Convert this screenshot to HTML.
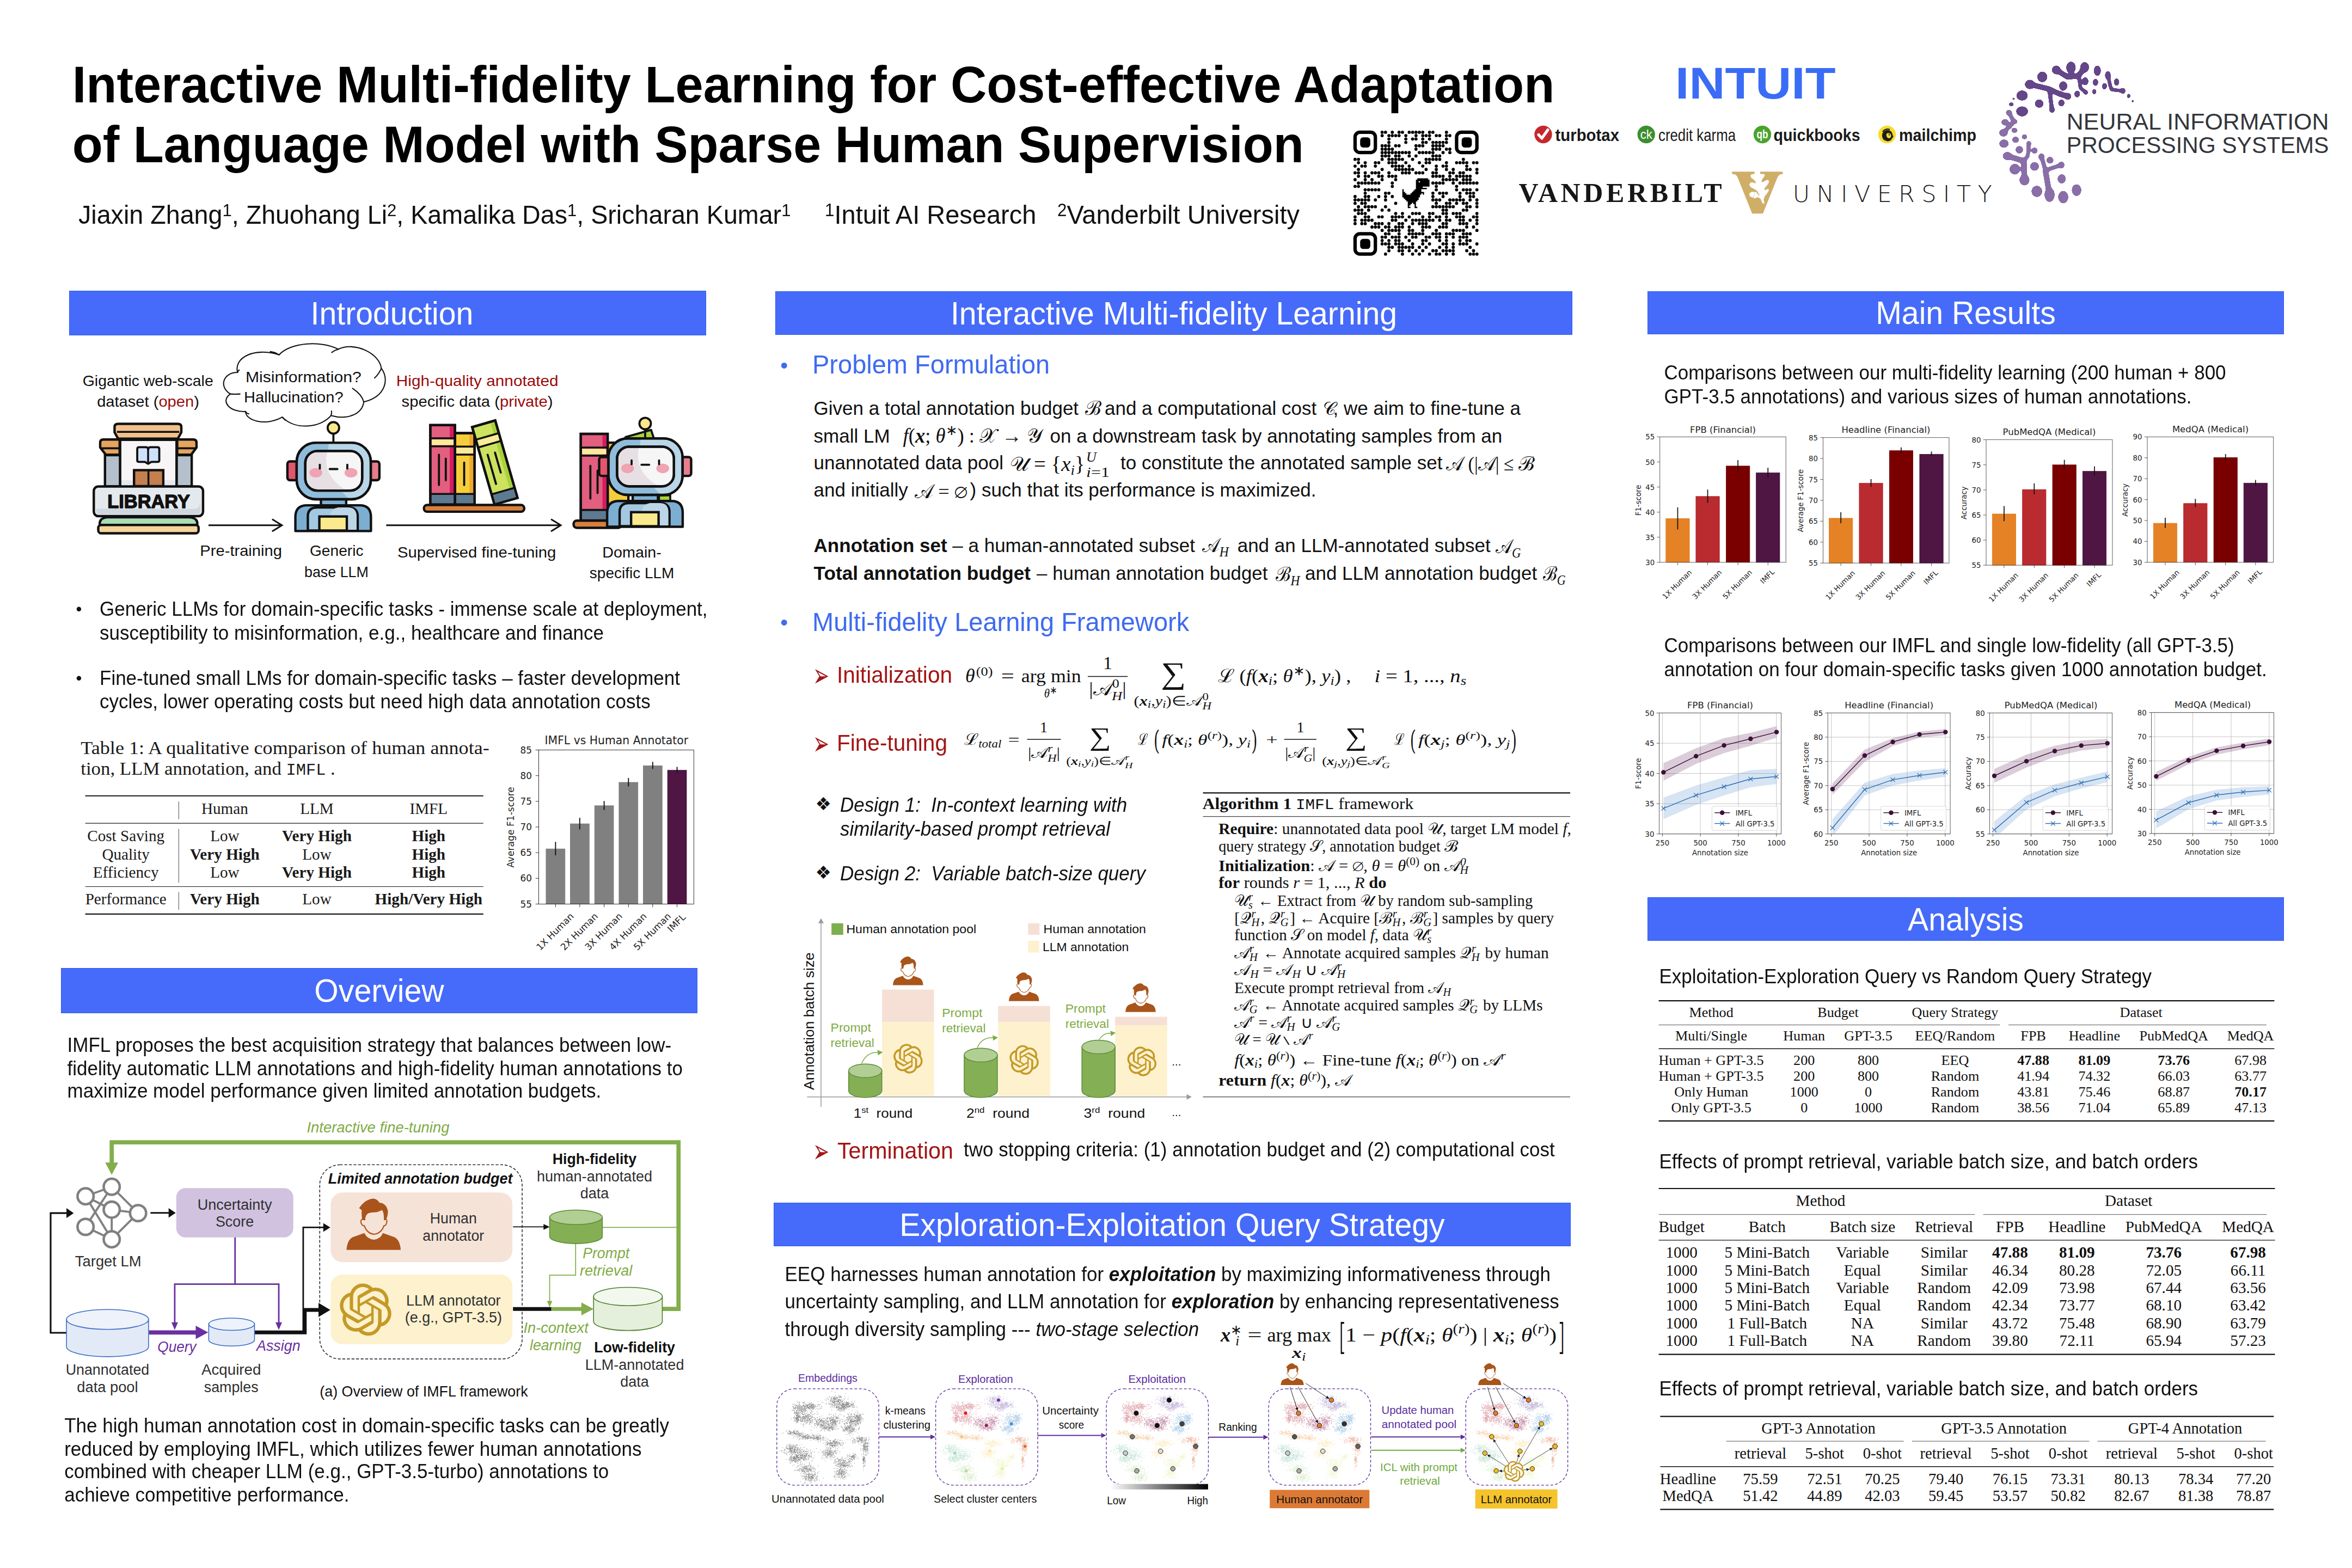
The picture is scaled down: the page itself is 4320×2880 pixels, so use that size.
<!DOCTYPE html>
<html lang="en"><head><meta charset="utf-8">
<title>Interactive Multi-fidelity Learning for Cost-effective Adaptation of Language Model with Sparse Human Supervision</title>
<meta name="viewport" content="width=4320">
<style>
html,body{margin:0;padding:0;background:#fff}
body{font-variant-ligatures:none;font-kerning:normal;width:4320px;height:2880px;overflow:hidden;position:relative;font-family:"Liberation Sans",Arial,Helvetica,sans-serif;color:#000}
#poster{position:absolute;left:0;top:0;width:4320px;height:2880px;overflow:hidden;background:#fff}
.p{position:absolute;white-space:nowrap;margin:0;transform-origin:0 0}
.fig{position:absolute;overflow:visible}
svg text{font-family:"Liberation Sans",Arial,Helvetica,sans-serif;white-space:pre}
h2.bar{position:absolute;margin:0;background:#466bfa;box-shadow:inset 0 0 0 1px #2d59f6;color:#fff;font-weight:normal;font-size:57.2px;text-align:center;white-space:nowrap}
h2.bar span{display:inline-block;transform:scaleY(1.036);transform-origin:50% 68%}
sup{font-size:.667em;vertical-align:.43em;line-height:0}
.auth{color:#111}
svg text.f-serif{font-family:"Liberation Serif","Times New Roman",Times,serif}
svg .f-mono{font-family:"Liberation Mono","DejaVu Sans Mono",monospace}
svg text.f-dv{font-family:"DejaVu Sans","Liberation Sans",sans-serif}
svg text.f-cal{font-family:"DejaVu Math TeX Gyre","DejaVu Serif","Liberation Serif",serif}
svg text.f-dvl{font-family:"DejaVu Sans Light","DejaVu Sans","Liberation Sans",sans-serif;font-weight:200}
i.m,.m{font-family:"Liberation Serif","Times New Roman",serif;font-style:italic}
.cal{font-family:"DejaVu Math TeX Gyre","DejaVu Serif",serif;font-style:normal}
</style></head>
<body><div id="poster">
<!-- sec_header.bars -->
<h2 class="bar" style="left:127px;top:534px;width:1154px;padding-left:16px;height:82px;line-height:84px"><span>Introduction</span></h2>
<h2 class="bar" style="left:112px;top:1778px;width:1169px;padding-left:0px;height:82.5px;line-height:84.5px"><span>Overview</span></h2>
<h2 class="bar" style="left:1424px;top:535px;width:1464px;padding-left:0px;height:80px;line-height:82px"><span>Interactive Multi-fidelity Learning</span></h2>
<h2 class="bar" style="left:1421px;top:2209px;width:1464px;padding-left:0px;height:80px;line-height:82px"><span>Exploration-Exploitation Query Strategy</span></h2>
<h2 class="bar" style="left:3026px;top:535px;width:1169px;padding-left:0px;height:79px;line-height:81px"><span>Main Results</span></h2>
<h2 class="bar" style="left:3026px;top:1648px;width:1169px;padding-left:0px;height:80px;line-height:82px"><span>Analysis</span></h2>
<!-- sec_header.header -->
<div class="p title" style='left:132.8px;top:100.02px;font-size:91.88px;line-height:106.18px;transform:scaleY(1.036);font-weight:bold;'>Interactive Multi-fidelity Learning for Cost-effective Adaptation</div>
<div class="p title" style='left:132.8px;top:209.88px;font-size:91.7px;line-height:106.18px;transform:scaleY(1.036);font-weight:bold;'>of Language Model with Sparse Human Supervision</div>
<div class="p auth" style='left:144px;top:366.45px;font-size:46.65px;line-height:54.05px;transform:scaleY(1.036);'>Jiaxin Zhang<sup>1</sup>, Zhuohang Li<sup>2</sup>, Kamalika Das<sup>1</sup>, Sricharan Kumar<sup>1</sup></div>
<div class="p auth" style='left:1515px;top:366.33px;font-size:47px;line-height:54.05px;transform:scaleY(1.036);'><sup>1</sup>Intuit AI Research</div>
<div class="p auth" style='left:1942px;top:366.33px;font-size:47px;line-height:54.05px;transform:scaleY(1.036);'><sup>2</sup>Vanderbilt University</div>
<!-- sec_logos.qr -->
<svg class="fig qr" style="left:2480px;top:234px" width="242" height="242" viewBox="2480 234 242 242"><rect x="2488.91" y="242.91" width="37.3" height="37.3" fill="#fff" stroke="#000" stroke-width="6.22" rx="8.7" /><rect x="2498.23" y="252.23" width="18.65" height="18.65" fill="#000" rx="5.59" /><rect x="2675.39" y="242.91" width="37.3" height="37.3" fill="#fff" stroke="#000" stroke-width="6.22" rx="8.7" /><rect x="2684.72" y="252.23" width="18.65" height="18.65" fill="#000" rx="5.59" /><rect x="2488.91" y="429.39" width="37.3" height="37.3" fill="#fff" stroke="#000" stroke-width="6.22" rx="8.7" /><rect x="2498.23" y="438.72" width="18.65" height="18.65" fill="#000" rx="5.59" /><g fill="#000"><circle cx="2538.64" cy="242.91" r="2.92"/><circle cx="2544.85" cy="242.91" r="2.92"/><circle cx="2557.29" cy="242.91" r="2.92"/><circle cx="2569.72" cy="242.91" r="2.92"/><circle cx="2575.94" cy="242.91" r="2.92"/><circle cx="2588.37" cy="242.91" r="2.92"/><circle cx="2594.58" cy="242.91" r="2.92"/><circle cx="2600.8" cy="242.91" r="2.92"/><circle cx="2607.02" cy="242.91" r="2.92"/><circle cx="2613.23" cy="242.91" r="2.92"/><circle cx="2625.66" cy="242.91" r="2.92"/><circle cx="2631.88" cy="242.91" r="2.92"/><circle cx="2656.75" cy="242.91" r="2.92"/><circle cx="2538.64" cy="249.12" r="2.92"/><circle cx="2551.07" cy="249.12" r="2.92"/><circle cx="2557.29" cy="249.12" r="2.92"/><circle cx="2563.5" cy="249.12" r="2.92"/><circle cx="2569.72" cy="249.12" r="2.92"/><circle cx="2582.15" cy="249.12" r="2.92"/><circle cx="2600.8" cy="249.12" r="2.92"/><circle cx="2613.23" cy="249.12" r="2.92"/><circle cx="2619.45" cy="249.12" r="2.92"/><circle cx="2625.66" cy="249.12" r="2.92"/><circle cx="2638.1" cy="249.12" r="2.92"/><circle cx="2644.31" cy="249.12" r="2.92"/><circle cx="2656.75" cy="249.12" r="2.92"/><circle cx="2662.96" cy="249.12" r="2.92"/><circle cx="2551.07" cy="255.34" r="2.92"/><circle cx="2582.15" cy="255.34" r="2.92"/><circle cx="2594.58" cy="255.34" r="2.92"/><circle cx="2600.8" cy="255.34" r="2.92"/><circle cx="2613.23" cy="255.34" r="2.92"/><circle cx="2625.66" cy="255.34" r="2.92"/><circle cx="2656.75" cy="255.34" r="2.92"/><circle cx="2551.07" cy="261.56" r="2.92"/><circle cx="2582.15" cy="261.56" r="2.92"/><circle cx="2613.23" cy="261.56" r="2.92"/><circle cx="2619.45" cy="261.56" r="2.92"/><circle cx="2631.88" cy="261.56" r="2.92"/><circle cx="2638.1" cy="261.56" r="2.92"/><circle cx="2644.31" cy="261.56" r="2.92"/><circle cx="2650.53" cy="261.56" r="2.92"/><circle cx="2656.75" cy="261.56" r="2.92"/><circle cx="2538.64" cy="267.77" r="2.92"/><circle cx="2544.85" cy="267.77" r="2.92"/><circle cx="2551.07" cy="267.77" r="2.92"/><circle cx="2563.5" cy="267.77" r="2.92"/><circle cx="2569.72" cy="267.77" r="2.92"/><circle cx="2600.8" cy="267.77" r="2.92"/><circle cx="2607.02" cy="267.77" r="2.92"/><circle cx="2613.23" cy="267.77" r="2.92"/><circle cx="2631.88" cy="267.77" r="2.92"/><circle cx="2638.1" cy="267.77" r="2.92"/><circle cx="2644.31" cy="267.77" r="2.92"/><circle cx="2650.53" cy="267.77" r="2.92"/><circle cx="2538.64" cy="273.99" r="2.92"/><circle cx="2544.85" cy="273.99" r="2.92"/><circle cx="2551.07" cy="273.99" r="2.92"/><circle cx="2557.29" cy="273.99" r="2.92"/><circle cx="2600.8" cy="273.99" r="2.92"/><circle cx="2631.88" cy="273.99" r="2.92"/><circle cx="2638.1" cy="273.99" r="2.92"/><circle cx="2644.31" cy="273.99" r="2.92"/><circle cx="2656.75" cy="273.99" r="2.92"/><circle cx="2662.96" cy="273.99" r="2.92"/><circle cx="2538.64" cy="280.21" r="2.92"/><circle cx="2544.85" cy="280.21" r="2.92"/><circle cx="2551.07" cy="280.21" r="2.92"/><circle cx="2557.29" cy="280.21" r="2.92"/><circle cx="2563.5" cy="280.21" r="2.92"/><circle cx="2569.72" cy="280.21" r="2.92"/><circle cx="2575.94" cy="280.21" r="2.92"/><circle cx="2582.15" cy="280.21" r="2.92"/><circle cx="2588.37" cy="280.21" r="2.92"/><circle cx="2607.02" cy="280.21" r="2.92"/><circle cx="2613.23" cy="280.21" r="2.92"/><circle cx="2619.45" cy="280.21" r="2.92"/><circle cx="2625.66" cy="280.21" r="2.92"/><circle cx="2631.88" cy="280.21" r="2.92"/><circle cx="2650.53" cy="280.21" r="2.92"/><circle cx="2662.96" cy="280.21" r="2.92"/><circle cx="2538.64" cy="286.42" r="2.92"/><circle cx="2544.85" cy="286.42" r="2.92"/><circle cx="2551.07" cy="286.42" r="2.92"/><circle cx="2563.5" cy="286.42" r="2.92"/><circle cx="2569.72" cy="286.42" r="2.92"/><circle cx="2588.37" cy="286.42" r="2.92"/><circle cx="2600.8" cy="286.42" r="2.92"/><circle cx="2631.88" cy="286.42" r="2.92"/><circle cx="2638.1" cy="286.42" r="2.92"/><circle cx="2644.31" cy="286.42" r="2.92"/><circle cx="2488.91" cy="292.64" r="2.92"/><circle cx="2495.12" cy="292.64" r="2.92"/><circle cx="2538.64" cy="292.64" r="2.92"/><circle cx="2551.07" cy="292.64" r="2.92"/><circle cx="2557.29" cy="292.64" r="2.92"/><circle cx="2563.5" cy="292.64" r="2.92"/><circle cx="2569.72" cy="292.64" r="2.92"/><circle cx="2575.94" cy="292.64" r="2.92"/><circle cx="2594.58" cy="292.64" r="2.92"/><circle cx="2619.45" cy="292.64" r="2.92"/><circle cx="2625.66" cy="292.64" r="2.92"/><circle cx="2631.88" cy="292.64" r="2.92"/><circle cx="2638.1" cy="292.64" r="2.92"/><circle cx="2644.31" cy="292.64" r="2.92"/><circle cx="2687.83" cy="292.64" r="2.92"/><circle cx="2495.12" cy="298.85" r="2.92"/><circle cx="2507.56" cy="298.85" r="2.92"/><circle cx="2526.21" cy="298.85" r="2.92"/><circle cx="2532.42" cy="298.85" r="2.92"/><circle cx="2551.07" cy="298.85" r="2.92"/><circle cx="2557.29" cy="298.85" r="2.92"/><circle cx="2563.5" cy="298.85" r="2.92"/><circle cx="2582.15" cy="298.85" r="2.92"/><circle cx="2607.02" cy="298.85" r="2.92"/><circle cx="2619.45" cy="298.85" r="2.92"/><circle cx="2625.66" cy="298.85" r="2.92"/><circle cx="2656.75" cy="298.85" r="2.92"/><circle cx="2675.39" cy="298.85" r="2.92"/><circle cx="2681.61" cy="298.85" r="2.92"/><circle cx="2687.83" cy="298.85" r="2.92"/><circle cx="2694.04" cy="298.85" r="2.92"/><circle cx="2706.48" cy="298.85" r="2.92"/><circle cx="2712.69" cy="298.85" r="2.92"/><circle cx="2488.91" cy="305.07" r="2.92"/><circle cx="2501.34" cy="305.07" r="2.92"/><circle cx="2507.56" cy="305.07" r="2.92"/><circle cx="2526.21" cy="305.07" r="2.92"/><circle cx="2557.29" cy="305.07" r="2.92"/><circle cx="2563.5" cy="305.07" r="2.92"/><circle cx="2569.72" cy="305.07" r="2.92"/><circle cx="2575.94" cy="305.07" r="2.92"/><circle cx="2588.37" cy="305.07" r="2.92"/><circle cx="2613.23" cy="305.07" r="2.92"/><circle cx="2638.1" cy="305.07" r="2.92"/><circle cx="2650.53" cy="305.07" r="2.92"/><circle cx="2656.75" cy="305.07" r="2.92"/><circle cx="2694.04" cy="305.07" r="2.92"/><circle cx="2495.12" cy="311.29" r="2.92"/><circle cx="2538.64" cy="311.29" r="2.92"/><circle cx="2563.5" cy="311.29" r="2.92"/><circle cx="2569.72" cy="311.29" r="2.92"/><circle cx="2575.94" cy="311.29" r="2.92"/><circle cx="2582.15" cy="311.29" r="2.92"/><circle cx="2588.37" cy="311.29" r="2.92"/><circle cx="2594.58" cy="311.29" r="2.92"/><circle cx="2619.45" cy="311.29" r="2.92"/><circle cx="2638.1" cy="311.29" r="2.92"/><circle cx="2656.75" cy="311.29" r="2.92"/><circle cx="2669.18" cy="311.29" r="2.92"/><circle cx="2694.04" cy="311.29" r="2.92"/><circle cx="2700.26" cy="311.29" r="2.92"/><circle cx="2712.69" cy="311.29" r="2.92"/><circle cx="2488.91" cy="317.5" r="2.92"/><circle cx="2495.12" cy="317.5" r="2.92"/><circle cx="2507.56" cy="317.5" r="2.92"/><circle cx="2519.99" cy="317.5" r="2.92"/><circle cx="2526.21" cy="317.5" r="2.92"/><circle cx="2532.42" cy="317.5" r="2.92"/><circle cx="2551.07" cy="317.5" r="2.92"/><circle cx="2575.94" cy="317.5" r="2.92"/><circle cx="2582.15" cy="317.5" r="2.92"/><circle cx="2588.37" cy="317.5" r="2.92"/><circle cx="2600.8" cy="317.5" r="2.92"/><circle cx="2607.02" cy="317.5" r="2.92"/><circle cx="2613.23" cy="317.5" r="2.92"/><circle cx="2631.88" cy="317.5" r="2.92"/><circle cx="2638.1" cy="317.5" r="2.92"/><circle cx="2662.96" cy="317.5" r="2.92"/><circle cx="2669.18" cy="317.5" r="2.92"/><circle cx="2681.61" cy="317.5" r="2.92"/><circle cx="2687.83" cy="317.5" r="2.92"/><circle cx="2712.69" cy="317.5" r="2.92"/><circle cx="2495.12" cy="323.72" r="2.92"/><circle cx="2507.56" cy="323.72" r="2.92"/><circle cx="2513.77" cy="323.72" r="2.92"/><circle cx="2532.42" cy="323.72" r="2.92"/><circle cx="2538.64" cy="323.72" r="2.92"/><circle cx="2551.07" cy="323.72" r="2.92"/><circle cx="2557.29" cy="323.72" r="2.92"/><circle cx="2563.5" cy="323.72" r="2.92"/><circle cx="2631.88" cy="323.72" r="2.92"/><circle cx="2638.1" cy="323.72" r="2.92"/><circle cx="2644.31" cy="323.72" r="2.92"/><circle cx="2650.53" cy="323.72" r="2.92"/><circle cx="2662.96" cy="323.72" r="2.92"/><circle cx="2675.39" cy="323.72" r="2.92"/><circle cx="2681.61" cy="323.72" r="2.92"/><circle cx="2687.83" cy="323.72" r="2.92"/><circle cx="2694.04" cy="323.72" r="2.92"/><circle cx="2700.26" cy="323.72" r="2.92"/><circle cx="2488.91" cy="329.94" r="2.92"/><circle cx="2507.56" cy="329.94" r="2.92"/><circle cx="2519.99" cy="329.94" r="2.92"/><circle cx="2538.64" cy="329.94" r="2.92"/><circle cx="2563.5" cy="329.94" r="2.92"/><circle cx="2650.53" cy="329.94" r="2.92"/><circle cx="2656.75" cy="329.94" r="2.92"/><circle cx="2662.96" cy="329.94" r="2.92"/><circle cx="2669.18" cy="329.94" r="2.92"/><circle cx="2675.39" cy="329.94" r="2.92"/><circle cx="2687.83" cy="329.94" r="2.92"/><circle cx="2694.04" cy="329.94" r="2.92"/><circle cx="2700.26" cy="329.94" r="2.92"/><circle cx="2495.12" cy="336.15" r="2.92"/><circle cx="2501.34" cy="336.15" r="2.92"/><circle cx="2507.56" cy="336.15" r="2.92"/><circle cx="2513.77" cy="336.15" r="2.92"/><circle cx="2519.99" cy="336.15" r="2.92"/><circle cx="2526.21" cy="336.15" r="2.92"/><circle cx="2532.42" cy="336.15" r="2.92"/><circle cx="2557.29" cy="336.15" r="2.92"/><circle cx="2631.88" cy="336.15" r="2.92"/><circle cx="2638.1" cy="336.15" r="2.92"/><circle cx="2644.31" cy="336.15" r="2.92"/><circle cx="2650.53" cy="336.15" r="2.92"/><circle cx="2669.18" cy="336.15" r="2.92"/><circle cx="2681.61" cy="336.15" r="2.92"/><circle cx="2687.83" cy="336.15" r="2.92"/><circle cx="2694.04" cy="336.15" r="2.92"/><circle cx="2700.26" cy="336.15" r="2.92"/><circle cx="2706.48" cy="336.15" r="2.92"/><circle cx="2712.69" cy="336.15" r="2.92"/><circle cx="2488.91" cy="342.37" r="2.92"/><circle cx="2495.12" cy="342.37" r="2.92"/><circle cx="2557.29" cy="342.37" r="2.92"/><circle cx="2638.1" cy="342.37" r="2.92"/><circle cx="2675.39" cy="342.37" r="2.92"/><circle cx="2507.56" cy="348.58" r="2.92"/><circle cx="2513.77" cy="348.58" r="2.92"/><circle cx="2519.99" cy="348.58" r="2.92"/><circle cx="2526.21" cy="348.58" r="2.92"/><circle cx="2532.42" cy="348.58" r="2.92"/><circle cx="2638.1" cy="348.58" r="2.92"/><circle cx="2675.39" cy="348.58" r="2.92"/><circle cx="2687.83" cy="348.58" r="2.92"/><circle cx="2694.04" cy="348.58" r="2.92"/><circle cx="2700.26" cy="348.58" r="2.92"/><circle cx="2712.69" cy="348.58" r="2.92"/><circle cx="2507.56" cy="354.8" r="2.92"/><circle cx="2544.85" cy="354.8" r="2.92"/><circle cx="2551.07" cy="354.8" r="2.92"/><circle cx="2631.88" cy="354.8" r="2.92"/><circle cx="2644.31" cy="354.8" r="2.92"/><circle cx="2650.53" cy="354.8" r="2.92"/><circle cx="2656.75" cy="354.8" r="2.92"/><circle cx="2681.61" cy="354.8" r="2.92"/><circle cx="2694.04" cy="354.8" r="2.92"/><circle cx="2700.26" cy="354.8" r="2.92"/><circle cx="2706.48" cy="354.8" r="2.92"/><circle cx="2488.91" cy="361.02" r="2.92"/><circle cx="2507.56" cy="361.02" r="2.92"/><circle cx="2513.77" cy="361.02" r="2.92"/><circle cx="2532.42" cy="361.02" r="2.92"/><circle cx="2544.85" cy="361.02" r="2.92"/><circle cx="2557.29" cy="361.02" r="2.92"/><circle cx="2631.88" cy="361.02" r="2.92"/><circle cx="2650.53" cy="361.02" r="2.92"/><circle cx="2681.61" cy="361.02" r="2.92"/><circle cx="2700.26" cy="361.02" r="2.92"/><circle cx="2706.48" cy="361.02" r="2.92"/><circle cx="2488.91" cy="367.23" r="2.92"/><circle cx="2495.12" cy="367.23" r="2.92"/><circle cx="2501.34" cy="367.23" r="2.92"/><circle cx="2507.56" cy="367.23" r="2.92"/><circle cx="2513.77" cy="367.23" r="2.92"/><circle cx="2526.21" cy="367.23" r="2.92"/><circle cx="2544.85" cy="367.23" r="2.92"/><circle cx="2631.88" cy="367.23" r="2.92"/><circle cx="2638.1" cy="367.23" r="2.92"/><circle cx="2644.31" cy="367.23" r="2.92"/><circle cx="2662.96" cy="367.23" r="2.92"/><circle cx="2669.18" cy="367.23" r="2.92"/><circle cx="2675.39" cy="367.23" r="2.92"/><circle cx="2681.61" cy="367.23" r="2.92"/><circle cx="2687.83" cy="367.23" r="2.92"/><circle cx="2700.26" cy="367.23" r="2.92"/><circle cx="2712.69" cy="367.23" r="2.92"/><circle cx="2488.91" cy="373.45" r="2.92"/><circle cx="2501.34" cy="373.45" r="2.92"/><circle cx="2507.56" cy="373.45" r="2.92"/><circle cx="2563.5" cy="373.45" r="2.92"/><circle cx="2638.1" cy="373.45" r="2.92"/><circle cx="2656.75" cy="373.45" r="2.92"/><circle cx="2662.96" cy="373.45" r="2.92"/><circle cx="2675.39" cy="373.45" r="2.92"/><circle cx="2687.83" cy="373.45" r="2.92"/><circle cx="2694.04" cy="373.45" r="2.92"/><circle cx="2712.69" cy="373.45" r="2.92"/><circle cx="2495.12" cy="379.66" r="2.92"/><circle cx="2507.56" cy="379.66" r="2.92"/><circle cx="2513.77" cy="379.66" r="2.92"/><circle cx="2519.99" cy="379.66" r="2.92"/><circle cx="2526.21" cy="379.66" r="2.92"/><circle cx="2544.85" cy="379.66" r="2.92"/><circle cx="2631.88" cy="379.66" r="2.92"/><circle cx="2638.1" cy="379.66" r="2.92"/><circle cx="2644.31" cy="379.66" r="2.92"/><circle cx="2650.53" cy="379.66" r="2.92"/><circle cx="2656.75" cy="379.66" r="2.92"/><circle cx="2662.96" cy="379.66" r="2.92"/><circle cx="2669.18" cy="379.66" r="2.92"/><circle cx="2694.04" cy="379.66" r="2.92"/><circle cx="2700.26" cy="379.66" r="2.92"/><circle cx="2712.69" cy="379.66" r="2.92"/><circle cx="2488.91" cy="385.88" r="2.92"/><circle cx="2495.12" cy="385.88" r="2.92"/><circle cx="2501.34" cy="385.88" r="2.92"/><circle cx="2513.77" cy="385.88" r="2.92"/><circle cx="2538.64" cy="385.88" r="2.92"/><circle cx="2551.07" cy="385.88" r="2.92"/><circle cx="2650.53" cy="385.88" r="2.92"/><circle cx="2656.75" cy="385.88" r="2.92"/><circle cx="2687.83" cy="385.88" r="2.92"/><circle cx="2694.04" cy="385.88" r="2.92"/><circle cx="2495.12" cy="392.1" r="2.92"/><circle cx="2501.34" cy="392.1" r="2.92"/><circle cx="2507.56" cy="392.1" r="2.92"/><circle cx="2563.5" cy="392.1" r="2.92"/><circle cx="2575.94" cy="392.1" r="2.92"/><circle cx="2594.58" cy="392.1" r="2.92"/><circle cx="2600.8" cy="392.1" r="2.92"/><circle cx="2607.02" cy="392.1" r="2.92"/><circle cx="2625.66" cy="392.1" r="2.92"/><circle cx="2631.88" cy="392.1" r="2.92"/><circle cx="2650.53" cy="392.1" r="2.92"/><circle cx="2656.75" cy="392.1" r="2.92"/><circle cx="2669.18" cy="392.1" r="2.92"/><circle cx="2675.39" cy="392.1" r="2.92"/><circle cx="2681.61" cy="392.1" r="2.92"/><circle cx="2712.69" cy="392.1" r="2.92"/><circle cx="2488.91" cy="398.31" r="2.92"/><circle cx="2507.56" cy="398.31" r="2.92"/><circle cx="2513.77" cy="398.31" r="2.92"/><circle cx="2532.42" cy="398.31" r="2.92"/><circle cx="2538.64" cy="398.31" r="2.92"/><circle cx="2557.29" cy="398.31" r="2.92"/><circle cx="2563.5" cy="398.31" r="2.92"/><circle cx="2569.72" cy="398.31" r="2.92"/><circle cx="2575.94" cy="398.31" r="2.92"/><circle cx="2588.37" cy="398.31" r="2.92"/><circle cx="2613.23" cy="398.31" r="2.92"/><circle cx="2625.66" cy="398.31" r="2.92"/><circle cx="2638.1" cy="398.31" r="2.92"/><circle cx="2644.31" cy="398.31" r="2.92"/><circle cx="2656.75" cy="398.31" r="2.92"/><circle cx="2675.39" cy="398.31" r="2.92"/><circle cx="2681.61" cy="398.31" r="2.92"/><circle cx="2687.83" cy="398.31" r="2.92"/><circle cx="2706.48" cy="398.31" r="2.92"/><circle cx="2712.69" cy="398.31" r="2.92"/><circle cx="2488.91" cy="404.53" r="2.92"/><circle cx="2501.34" cy="404.53" r="2.92"/><circle cx="2507.56" cy="404.53" r="2.92"/><circle cx="2513.77" cy="404.53" r="2.92"/><circle cx="2519.99" cy="404.53" r="2.92"/><circle cx="2557.29" cy="404.53" r="2.92"/><circle cx="2563.5" cy="404.53" r="2.92"/><circle cx="2582.15" cy="404.53" r="2.92"/><circle cx="2594.58" cy="404.53" r="2.92"/><circle cx="2600.8" cy="404.53" r="2.92"/><circle cx="2607.02" cy="404.53" r="2.92"/><circle cx="2613.23" cy="404.53" r="2.92"/><circle cx="2619.45" cy="404.53" r="2.92"/><circle cx="2625.66" cy="404.53" r="2.92"/><circle cx="2631.88" cy="404.53" r="2.92"/><circle cx="2644.31" cy="404.53" r="2.92"/><circle cx="2656.75" cy="404.53" r="2.92"/><circle cx="2662.96" cy="404.53" r="2.92"/><circle cx="2681.61" cy="404.53" r="2.92"/><circle cx="2687.83" cy="404.53" r="2.92"/><circle cx="2700.26" cy="404.53" r="2.92"/><circle cx="2712.69" cy="404.53" r="2.92"/><circle cx="2488.91" cy="410.75" r="2.92"/><circle cx="2501.34" cy="410.75" r="2.92"/><circle cx="2507.56" cy="410.75" r="2.92"/><circle cx="2526.21" cy="410.75" r="2.92"/><circle cx="2532.42" cy="410.75" r="2.92"/><circle cx="2538.64" cy="410.75" r="2.92"/><circle cx="2551.07" cy="410.75" r="2.92"/><circle cx="2569.72" cy="410.75" r="2.92"/><circle cx="2575.94" cy="410.75" r="2.92"/><circle cx="2594.58" cy="410.75" r="2.92"/><circle cx="2607.02" cy="410.75" r="2.92"/><circle cx="2613.23" cy="410.75" r="2.92"/><circle cx="2619.45" cy="410.75" r="2.92"/><circle cx="2650.53" cy="410.75" r="2.92"/><circle cx="2656.75" cy="410.75" r="2.92"/><circle cx="2681.61" cy="410.75" r="2.92"/><circle cx="2687.83" cy="410.75" r="2.92"/><circle cx="2694.04" cy="410.75" r="2.92"/><circle cx="2712.69" cy="410.75" r="2.92"/><circle cx="2519.99" cy="416.96" r="2.92"/><circle cx="2526.21" cy="416.96" r="2.92"/><circle cx="2532.42" cy="416.96" r="2.92"/><circle cx="2544.85" cy="416.96" r="2.92"/><circle cx="2551.07" cy="416.96" r="2.92"/><circle cx="2563.5" cy="416.96" r="2.92"/><circle cx="2569.72" cy="416.96" r="2.92"/><circle cx="2575.94" cy="416.96" r="2.92"/><circle cx="2588.37" cy="416.96" r="2.92"/><circle cx="2613.23" cy="416.96" r="2.92"/><circle cx="2619.45" cy="416.96" r="2.92"/><circle cx="2625.66" cy="416.96" r="2.92"/><circle cx="2644.31" cy="416.96" r="2.92"/><circle cx="2650.53" cy="416.96" r="2.92"/><circle cx="2656.75" cy="416.96" r="2.92"/><circle cx="2694.04" cy="416.96" r="2.92"/><circle cx="2706.48" cy="416.96" r="2.92"/><circle cx="2538.64" cy="423.18" r="2.92"/><circle cx="2551.07" cy="423.18" r="2.92"/><circle cx="2557.29" cy="423.18" r="2.92"/><circle cx="2563.5" cy="423.18" r="2.92"/><circle cx="2569.72" cy="423.18" r="2.92"/><circle cx="2588.37" cy="423.18" r="2.92"/><circle cx="2594.58" cy="423.18" r="2.92"/><circle cx="2613.23" cy="423.18" r="2.92"/><circle cx="2638.1" cy="423.18" r="2.92"/><circle cx="2669.18" cy="423.18" r="2.92"/><circle cx="2675.39" cy="423.18" r="2.92"/><circle cx="2681.61" cy="423.18" r="2.92"/><circle cx="2687.83" cy="423.18" r="2.92"/><circle cx="2712.69" cy="423.18" r="2.92"/><circle cx="2544.85" cy="429.39" r="2.92"/><circle cx="2551.07" cy="429.39" r="2.92"/><circle cx="2569.72" cy="429.39" r="2.92"/><circle cx="2588.37" cy="429.39" r="2.92"/><circle cx="2594.58" cy="429.39" r="2.92"/><circle cx="2600.8" cy="429.39" r="2.92"/><circle cx="2607.02" cy="429.39" r="2.92"/><circle cx="2613.23" cy="429.39" r="2.92"/><circle cx="2631.88" cy="429.39" r="2.92"/><circle cx="2638.1" cy="429.39" r="2.92"/><circle cx="2644.31" cy="429.39" r="2.92"/><circle cx="2656.75" cy="429.39" r="2.92"/><circle cx="2662.96" cy="429.39" r="2.92"/><circle cx="2669.18" cy="429.39" r="2.92"/><circle cx="2687.83" cy="429.39" r="2.92"/><circle cx="2694.04" cy="429.39" r="2.92"/><circle cx="2700.26" cy="429.39" r="2.92"/><circle cx="2538.64" cy="435.61" r="2.92"/><circle cx="2544.85" cy="435.61" r="2.92"/><circle cx="2557.29" cy="435.61" r="2.92"/><circle cx="2563.5" cy="435.61" r="2.92"/><circle cx="2569.72" cy="435.61" r="2.92"/><circle cx="2582.15" cy="435.61" r="2.92"/><circle cx="2594.58" cy="435.61" r="2.92"/><circle cx="2600.8" cy="435.61" r="2.92"/><circle cx="2619.45" cy="435.61" r="2.92"/><circle cx="2625.66" cy="435.61" r="2.92"/><circle cx="2638.1" cy="435.61" r="2.92"/><circle cx="2644.31" cy="435.61" r="2.92"/><circle cx="2656.75" cy="435.61" r="2.92"/><circle cx="2669.18" cy="435.61" r="2.92"/><circle cx="2681.61" cy="435.61" r="2.92"/><circle cx="2687.83" cy="435.61" r="2.92"/><circle cx="2694.04" cy="435.61" r="2.92"/><circle cx="2538.64" cy="441.83" r="2.92"/><circle cx="2551.07" cy="441.83" r="2.92"/><circle cx="2563.5" cy="441.83" r="2.92"/><circle cx="2569.72" cy="441.83" r="2.92"/><circle cx="2588.37" cy="441.83" r="2.92"/><circle cx="2613.23" cy="441.83" r="2.92"/><circle cx="2619.45" cy="441.83" r="2.92"/><circle cx="2644.31" cy="441.83" r="2.92"/><circle cx="2656.75" cy="441.83" r="2.92"/><circle cx="2681.61" cy="441.83" r="2.92"/><circle cx="2694.04" cy="441.83" r="2.92"/><circle cx="2700.26" cy="441.83" r="2.92"/><circle cx="2538.64" cy="448.04" r="2.92"/><circle cx="2544.85" cy="448.04" r="2.92"/><circle cx="2551.07" cy="448.04" r="2.92"/><circle cx="2563.5" cy="448.04" r="2.92"/><circle cx="2569.72" cy="448.04" r="2.92"/><circle cx="2575.94" cy="448.04" r="2.92"/><circle cx="2594.58" cy="448.04" r="2.92"/><circle cx="2613.23" cy="448.04" r="2.92"/><circle cx="2625.66" cy="448.04" r="2.92"/><circle cx="2650.53" cy="448.04" r="2.92"/><circle cx="2656.75" cy="448.04" r="2.92"/><circle cx="2669.18" cy="448.04" r="2.92"/><circle cx="2681.61" cy="448.04" r="2.92"/><circle cx="2687.83" cy="448.04" r="2.92"/><circle cx="2694.04" cy="448.04" r="2.92"/><circle cx="2712.69" cy="448.04" r="2.92"/><circle cx="2551.07" cy="454.26" r="2.92"/><circle cx="2557.29" cy="454.26" r="2.92"/><circle cx="2569.72" cy="454.26" r="2.92"/><circle cx="2575.94" cy="454.26" r="2.92"/><circle cx="2582.15" cy="454.26" r="2.92"/><circle cx="2588.37" cy="454.26" r="2.92"/><circle cx="2594.58" cy="454.26" r="2.92"/><circle cx="2607.02" cy="454.26" r="2.92"/><circle cx="2619.45" cy="454.26" r="2.92"/><circle cx="2644.31" cy="454.26" r="2.92"/><circle cx="2656.75" cy="454.26" r="2.92"/><circle cx="2669.18" cy="454.26" r="2.92"/><circle cx="2700.26" cy="454.26" r="2.92"/><circle cx="2551.07" cy="460.48" r="2.92"/><circle cx="2569.72" cy="460.48" r="2.92"/><circle cx="2575.94" cy="460.48" r="2.92"/><circle cx="2588.37" cy="460.48" r="2.92"/><circle cx="2600.8" cy="460.48" r="2.92"/><circle cx="2613.23" cy="460.48" r="2.92"/><circle cx="2631.88" cy="460.48" r="2.92"/><circle cx="2638.1" cy="460.48" r="2.92"/><circle cx="2650.53" cy="460.48" r="2.92"/><circle cx="2656.75" cy="460.48" r="2.92"/><circle cx="2662.96" cy="460.48" r="2.92"/><circle cx="2669.18" cy="460.48" r="2.92"/><circle cx="2694.04" cy="460.48" r="2.92"/><circle cx="2706.48" cy="460.48" r="2.92"/><circle cx="2544.85" cy="466.69" r="2.92"/><circle cx="2575.94" cy="466.69" r="2.92"/><circle cx="2594.58" cy="466.69" r="2.92"/><circle cx="2607.02" cy="466.69" r="2.92"/><circle cx="2625.66" cy="466.69" r="2.92"/><circle cx="2638.1" cy="466.69" r="2.92"/><circle cx="2644.31" cy="466.69" r="2.92"/><circle cx="2656.75" cy="466.69" r="2.92"/><circle cx="2669.18" cy="466.69" r="2.92"/><circle cx="2700.26" cy="466.69" r="2.92"/><circle cx="2706.48" cy="466.69" r="2.92"/><circle cx="2712.69" cy="466.69" r="2.92"/></g><path d="M2603.18 327.62h19.98v2.63h-19.98zM2600.69 330.11h24.97v2.63h-24.97zM2600.69 332.59h4.99v2.63h-4.99zM2608.18 332.59h17.48v2.63h-17.48zM2600.69 335.07h24.97v2.63h-24.97zM2600.69 337.55h24.97v2.63h-24.97zM2600.69 340.03h24.97v2.63h-24.97zM2600.69 342.51h12.48v2.63h-12.48zM2600.69 344.99h19.98v2.63h-19.98zM2575.72 347.47h2.5v2.63h-2.5zM2598.19 347.47h12.48v2.63h-12.48zM2575.72 349.96h2.5v2.63h-2.5zM2595.69 349.96h14.98v2.63h-14.98zM2575.72 352.44h4.99v2.63h-4.99zM2593.2 352.44h22.47v2.63h-22.47zM2575.72 354.92h7.49v2.63h-7.49zM2590.7 354.92h19.98v2.63h-19.98zM2613.17 354.92h2.5v2.63h-2.5zM2575.72 357.4h32.46v2.63h-32.46zM2575.72 359.88h32.46v2.63h-32.46zM2578.22 362.36h27.47v2.63h-27.47zM2580.71 364.84h24.97v2.63h-24.97zM2583.21 367.32h19.98v2.63h-19.98zM2585.71 369.81h14.98v2.63h-14.98zM2585.71 372.29h7.49v2.63h-7.49zM2595.69 372.29h4.99v2.63h-4.99zM2585.71 374.77h4.99v2.63h-4.99zM2598.19 374.77h2.5v2.63h-2.5zM2585.71 377.25h2.5v2.63h-2.5zM2598.19 377.25h2.5v2.63h-2.5zM2585.71 379.73h4.99v2.63h-4.99zM2598.19 379.73h4.99v2.63h-4.99z" fill="#000" /></svg>
<!-- sec_logos.intuit -->
<svg class="fig " style="left:3060px;top:110px" width="330" height="90" viewBox="3060 110 330 90"><text x="3077" y="180.7" font-size="82" fill="#3b6cf6" font-weight="bold" textLength="294.6" lengthAdjust="spacingAndGlyphs">INTUIT</text></svg>
<!-- sec_logos.products -->
<svg class="fig " style="left:2810px;top:225px" width="830" height="50" viewBox="2810 225 830 50"><circle cx="2834.5" cy="247" r="16.2" fill="#c5282c" /><path d="M2826 247.5l6 6.5l11-15.5" fill="none" stroke="#fff" stroke-width="5.2" stroke-linecap="round" stroke-linejoin="round"/><text x="2856.5" y="258.6" font-size="31.5" fill="#1a1a1a" font-weight="bold" textLength="117.5" lengthAdjust="spacingAndGlyphs">turbotax</text><circle cx="3023.7" cy="247" r="16.2" fill="#3c8f2f" /><text x="3023.7" y="255" font-size="24" fill="#fff" text-anchor="middle" textLength="22" lengthAdjust="spacingAndGlyphs">ck</text><text x="3046" y="258.6" font-size="31.5" fill="#1a1a1a" textLength="142" lengthAdjust="spacingAndGlyphs">credit karma</text><circle cx="3237" cy="247" r="16.2" fill="#4aa32b" /><text x="3237" y="254" font-size="22" fill="#fff" text-anchor="middle" font-weight="bold" textLength="21" lengthAdjust="spacingAndGlyphs">qb</text><text x="3257.5" y="258.6" font-size="31.5" fill="#1a1a1a" font-weight="bold" textLength="159.2" lengthAdjust="spacingAndGlyphs">quickbooks</text><circle cx="3466" cy="247" r="16.2" fill="#f7dd2c" /><path d="M3458 254c-3-6 0-14 7-15c6-1 11 3 11 9c2 1 2 5-1 6c-1 5-8 7-12 4c-2 0-4-2-5-4z" fill="#201c1c" /><path d="M3465 246c2-2 6-2 8 1c1 3 0 6-3 7c-3 0-6-3-5-8z" fill="#f7dd2c" /><circle cx="3470" cy="247.5" r="1.2" fill="#201c1c" /><path d="M3458 242c2-4 8-6 13-4" fill="none" stroke="#201c1c" stroke-width="2.2" /><text x="3488" y="258.6" font-size="31.5" fill="#1a1a1a" font-weight="bold" textLength="142" lengthAdjust="spacingAndGlyphs">mailchimp</text></svg>
<!-- sec_logos.vanderbilt -->
<svg class="fig " style="left:2780px;top:305px" width="890" height="95" viewBox="2780 305 890 95"><text x="2789.6" y="371.2" font-size="50" class="f-serif" fill="#161616" font-weight="bold" textLength="373" lengthAdjust="spacing">VANDERBILT</text><g transform="translate(3160,300) scale(0.06695)"><path d="M318 228H1710V292L1640 302Q1590 330 1565 385L1165 1378H870L470 385Q445 330 400 302L318 292Z" fill="#cfae68" /><path d="M935 220V292L850 302Q810 330 835 385Q870 420 920 455Q975 500 965 552Q900 515 830 525Q780 560 800 615Q830 660 900 690Q980 725 1020 775L1072 885L1050 880L985 790Q960 770 945 800L905 935L925 970L1010 930Q1070 935 1100 975L1160 1100H1210L1188 1010Q1190 930 1255 855Q1320 785 1330 725Q1300 690 1250 725Q1205 765 1205 700Q1240 640 1290 590Q1335 530 1330 480Q1300 440 1240 470Q1180 515 1140 520Q1115 480 1150 430Q1200 375 1220 330Q1215 300 1180 292H1090V220Z" fill="#fff" /><path d="M945 790Q860 760 805 815Q770 870 820 910Q860 930 895 940Z" fill="#fff" /></g><text x="3292.7" y="370.5" font-size="43" class="f-dvl" fill="#1c1c1c" textLength="366" lengthAdjust="spacing">UNIVERSITY</text></svg>
<!-- sec_logos.neurips -->
<svg class="fig " style="left:3660px;top:105px" width="630" height="280" viewBox="3660 105 630 280"><g transform="translate(3650,90) scale(0.28486)"><filter id="goo" x="-5%" y="-5%" width="110%" height="110%" color-interpolation-filters="sRGB"><feGaussianBlur in="SourceGraphic" stdDeviation="7"/><feColorMatrix type="matrix" values="1 0 0 0 0 0 1 0 0 0 0 0 1 0 0 0 0 0 24 -10"/></filter><g fill="#644689" stroke="#644689" stroke-linecap="round" stroke-linejoin="round" filter="url(#goo)"><path d="M445 135L520 182L590 172L628 118" fill="none" stroke="#644689" stroke-width="32" /><path d="M590 172L600 250L636 280" fill="none" stroke="#644689" stroke-width="20" /><path d="M275 228L400 258L470 292L520 305" fill="none" stroke="#644689" stroke-width="32" /><path d="M400 258L418 392" fill="none" stroke="#644689" stroke-width="24" /><path d="M778 170L800 262L875 270" fill="none" stroke="#644689" stroke-width="20" /><ellipse cx="540" cy="120" rx="30" ry="38" stroke="none"/><ellipse cx="628" cy="118" rx="28" ry="34" stroke="none"/><ellipse cx="710" cy="140" rx="22" ry="34" stroke="none"/><ellipse cx="778" cy="170" rx="18" ry="28" stroke="none"/><ellipse cx="834" cy="213" rx="17" ry="24" stroke="none"/><ellipse cx="445" cy="135" rx="28" ry="28" stroke="none"/><ellipse cx="355" cy="180" rx="32" ry="34" stroke="none"/><ellipse cx="275" cy="228" rx="32" ry="30" stroke="none"/><ellipse cx="490" cy="238" rx="26" ry="30" stroke="none"/><ellipse cx="632" cy="208" rx="20" ry="26" stroke="none"/><ellipse cx="698" cy="215" rx="17" ry="24" stroke="none"/><ellipse cx="756" cy="240" rx="15" ry="22" stroke="none"/><ellipse cx="580" cy="290" rx="18" ry="22" stroke="none"/><ellipse cx="636" cy="280" rx="14" ry="16" stroke="none"/><ellipse cx="690" cy="275" rx="14" ry="18" stroke="none"/><ellipse cx="225" cy="300" rx="36" ry="32" stroke="none"/><ellipse cx="335" cy="352" rx="28" ry="26" stroke="none"/><ellipse cx="478" cy="348" rx="20" ry="22" stroke="none"/><ellipse cx="225" cy="402" rx="38" ry="32" stroke="none"/><ellipse cx="418" cy="392" rx="18" ry="20" stroke="none"/><ellipse cx="520" cy="305" rx="22" ry="22" stroke="none"/><ellipse cx="875" cy="270" rx="16" ry="20" stroke="none"/><ellipse cx="912" cy="303" rx="11" ry="16" stroke="none"/><ellipse cx="938" cy="336" rx="8" ry="12" stroke="none"/><ellipse cx="170" cy="320" rx="12" ry="8" stroke="none"/><ellipse cx="155" cy="357" rx="18" ry="12" stroke="none"/></g><g fill="#8a6ea8" stroke="#8a6ea8" stroke-linecap="round" stroke-linejoin="round" filter="url(#goo)"><path d="M140 410L172 468L105 540" fill="none" stroke="#8a6ea8" stroke-width="24" /><path d="M130 690L236 722L240 845" fill="none" stroke="#8a6ea8" stroke-width="34" /><path d="M268 610L262 690L236 722" fill="none" stroke="#8a6ea8" stroke-width="22" /><path d="M350 695L375 782L478 748" fill="none" stroke="#8a6ea8" stroke-width="24" /><path d="M375 782L402 940" fill="none" stroke="#8a6ea8" stroke-width="34" /><ellipse cx="140" cy="410" rx="20" ry="18" stroke="none"/><ellipse cx="115" cy="472" rx="24" ry="20" stroke="none"/><ellipse cx="178" cy="468" rx="18" ry="14" stroke="none"/><ellipse cx="105" cy="540" rx="28" ry="24" stroke="none"/><ellipse cx="176" cy="525" rx="20" ry="16" stroke="none"/><ellipse cx="240" cy="566" rx="18" ry="16" stroke="none"/><ellipse cx="183" cy="585" rx="22" ry="20" stroke="none"/><ellipse cx="108" cy="610" rx="30" ry="26" stroke="none"/><ellipse cx="207" cy="650" rx="24" ry="24" stroke="none"/><ellipse cx="268" cy="610" rx="16" ry="18" stroke="none"/><ellipse cx="305" cy="655" rx="20" ry="20" stroke="none"/><ellipse cx="130" cy="690" rx="30" ry="26" stroke="none"/><ellipse cx="350" cy="695" rx="20" ry="22" stroke="none"/><ellipse cx="405" cy="717" rx="22" ry="22" stroke="none"/><ellipse cx="178" cy="775" rx="34" ry="34" stroke="none"/><ellipse cx="305" cy="757" rx="28" ry="28" stroke="none"/><ellipse cx="478" cy="748" rx="20" ry="22" stroke="none"/><ellipse cx="240" cy="845" rx="32" ry="34" stroke="none"/><ellipse cx="480" cy="837" rx="26" ry="30" stroke="none"/><ellipse cx="320" cy="918" rx="34" ry="36" stroke="none"/><ellipse cx="402" cy="940" rx="32" ry="46" stroke="none"/><ellipse cx="490" cy="955" rx="32" ry="40" stroke="none"/><ellipse cx="576" cy="910" rx="30" ry="38" stroke="none"/></g></g><text x="3795.8" y="237.6" font-size="42" fill="#33363b" textLength="481.7" lengthAdjust="spacingAndGlyphs">NEURAL INFORMATION</text><text x="3795.8" y="281.4" font-size="42" fill="#33363b" textLength="481.7" lengthAdjust="spacingAndGlyphs">PROCESSING SYSTEMS</text></svg>
<!-- sec_intro.figure -->
<svg class="fig introfig" style="left:140px;top:620px" width="1160" height="480" viewBox="140 620 1160 480"><g transform="translate(140,640) scale(0.2934)"><path d="M262 565L240 525V492Q240 472 262 472H636Q658 472 658 492V525L636 565Z" fill="#f2c08c" stroke="#111" stroke-width="15" stroke-linejoin="round"/><line x1="255" y1="522" x2="645" y2="522" stroke="#111" stroke-width="12" /><path d="M185 665L150 620V590Q150 570 170 570H272V665Z" fill="#e5a55f" stroke="#111" stroke-width="15" stroke-linejoin="round"/><path d="M720 665L753 620V590Q753 570 733 570H632V665Z" fill="#e5a55f" stroke="#111" stroke-width="15" stroke-linejoin="round"/><line x1="160" y1="625" x2="270" y2="625" stroke="#111" stroke-width="12" /><line x1="634" y1="625" x2="745" y2="625" stroke="#111" stroke-width="12" /><rect x="180" y="668" width="95" height="195" fill="#b4c0cc" stroke="#111" stroke-width="15" /><rect x="628" y="668" width="95" height="195" fill="#b4c0cc" stroke="#111" stroke-width="15" /><rect x="275" y="572" width="353" height="290" fill="#f7f5f5" stroke="#111" stroke-width="15" /><rect x="283" y="825" width="337" height="35" fill="#e4e9ee" /><path d="M382 630Q382 618 394 618H440Q450 620 450 632Q452 620 462 618H508Q520 618 520 630V700Q520 710 508 710H470L450 722L430 710H394Q382 710 382 700Z" fill="#cfe2fb" stroke="#111" stroke-width="13" stroke-linejoin="round"/><line x1="450" y1="632" x2="450" y2="715" stroke="#111" stroke-width="12" /><rect x="362" y="762" width="183" height="100" fill="#c47f4e" stroke="#111" stroke-width="15" /><line x1="452" y1="765" x2="452" y2="860" stroke="#111" stroke-width="12" /><rect x="110" y="864" width="684" height="186" fill="#e4e9ee" stroke="#111" stroke-width="15" rx="28" /><path d="M125 1005H740Q775 1000 778 960V1020Q778 1036 760 1036H140Q125 1036 125 1020Z" fill="#cfd8df" /><text x="195" y="1000" font-size="122" fill="#111" font-weight="bold" textLength="517" lengthAdjust="spacingAndGlyphs" stroke="#111" stroke-width="5" stroke-linejoin="round">LIBRARY</text><path d="M148 1105Q140 1060 200 1057H705Q765 1060 757 1105Z" fill="#a8ddb5" stroke="#111" stroke-width="15" stroke-linejoin="round"/><rect x="138" y="1105" width="628" height="52" fill="#f6d59a" stroke="#111" stroke-width="15" rx="18" /><line x1="828" y1="1107" x2="1282" y2="1107" stroke="#111" stroke-width="10" /><path d="M1230 1071L1288 1107L1230 1143" fill="none" stroke="#111" stroke-width="10" stroke-linecap="round" stroke-linejoin="miter"/><path d="M1010 150 C 985 60 1110 -10 1270 40 C 1340 -40 1540 -50 1640 5 C 1740 -45 1900 30 1910 125 C 1960 190 1940 300 1800 335 C 1790 410 1700 450 1595 420 C 1540 490 1380 520 1290 430 C 1180 490 1060 450 1060 395 C 960 400 900 330 965 285 C 890 240 920 150 1010 150 Z" fill="#fff" stroke="#111" stroke-width="7" /><path d="M1270 40Q1250 25 1215 20M1640 5Q1620 10 1600 25M1910 125Q1895 160 1868 185M1800 335Q1790 290 1730 250M1595 420Q1600 405 1598 392M1290 430Q1300 440 1310 450M1060 395Q1065 405 1080 410M965 285Q990 288 1025 285M1010 150Q1012 140 1020 135" fill="none" stroke="#111" stroke-width="7" stroke-linecap="round"/><g transform="translate(0,0)"><line x1="1610" y1="533" x2="1610" y2="592" stroke="#111" stroke-width="13" /><circle cx="1610" cy="497" r="36" fill="#fbe88a" stroke="#111" stroke-width="13" /><rect x="1322" y="707" width="70" height="118" fill="#e2566e" stroke="#111" stroke-width="15" rx="16" /><rect x="1832" y="707" width="66" height="118" fill="#e77d8d" stroke="#111" stroke-width="15" rx="16" /><rect x="1532" y="940" width="158" height="50" fill="#7fb0d3" stroke="#111" stroke-width="15" /><path d="M1372 1143V1055Q1372 982 1445 982H1775Q1845 982 1845 1055V1143Z" fill="#7caed2" stroke="#111" stroke-width="15" stroke-linejoin="round"/><path d="M1450 1140V1050Q1450 995 1510 995H1700Q1762 995 1762 1050V1140Z" fill="#a3c8e2" stroke="#111" stroke-width="15" stroke-linejoin="round"/><path d="M1590 1135V1040Q1600 1000 1640 995H1700Q1755 995 1755 1050V1135Z" fill="#bcd6e8" /><rect x="1522" y="1052" width="172" height="88" fill="#fbe98e" stroke="#111" stroke-width="15" /><rect x="1380" y="590" width="464" height="354" fill="#8fbcdb" stroke="#111" stroke-width="15" rx="120" /><path d="M1580 598H1730Q1836 598 1836 710V825Q1836 936 1730 936H1700Q1560 800 1580 598Z" fill="#b9d5e8" /><rect x="1380" y="590" width="464" height="354" fill="none" stroke="#111" stroke-width="15" rx="120" /><rect x="1434" y="642" width="356" height="248" fill="#e6e0e5" stroke="#111" stroke-width="15" rx="75" /><path d="M1570 650H1715Q1782 650 1782 717V815Q1782 882 1715 882H1680Q1540 790 1570 650Z" fill="#f7f6f7" /><rect x="1434" y="642" width="356" height="248" fill="none" stroke="#111" stroke-width="15" rx="75" /><ellipse cx="1500" cy="778" rx="40" ry="30" fill="#efa3b3"/><ellipse cx="1720" cy="778" rx="40" ry="30" fill="#efa3b3"/><line x1="1525" y1="728" x2="1525" y2="752" stroke="#111" stroke-width="13" stroke-linecap="round"/><line x1="1697" y1="728" x2="1697" y2="752" stroke="#111" stroke-width="13" stroke-linecap="round"/><line x1="1587" y1="755" x2="1635" y2="755" stroke="#111" stroke-width="13" stroke-linecap="round"/></g><text x="40" y="235" font-size="93" fill="#111" textLength="818" lengthAdjust="spacingAndGlyphs">Gigantic web-scale</text><text x="130" y="365" font-size="93" fill="#111" textLength="640" lengthAdjust="spacingAndGlyphs">dataset (<tspan fill="#9b0b0b">open</tspan>)</text><text x="1060" y="210" font-size="93" fill="#111" textLength="725" lengthAdjust="spacingAndGlyphs">Misinformation?</text><text x="1050" y="338" font-size="93" fill="#111" textLength="622" lengthAdjust="spacingAndGlyphs">Hallucination?</text><text x="775" y="1300" font-size="93" fill="#111" textLength="513" lengthAdjust="spacingAndGlyphs">Pre-training</text><text x="1462" y="1300" font-size="93" fill="#111" textLength="336" lengthAdjust="spacingAndGlyphs">Generic</text><text x="1428" y="1432" font-size="93" fill="#111" textLength="402" lengthAdjust="spacingAndGlyphs">base LLM</text></g><g transform="translate(700,640) scale(0.2934)"><rect x="462" y="530" width="123" height="447" fill="#f6ce3c" stroke="#111" stroke-width="15" /><rect x="553" y="538" width="24" height="431" fill="#f0a830" /><rect x="470" y="622" width="107" height="35" fill="#fcea9c" /><line x1="462" y1="614" x2="585" y2="614" stroke="#111" stroke-width="12" /><line x1="462" y1="665" x2="585" y2="665" stroke="#111" stroke-width="12" /><rect x="470" y="915" width="107" height="54" fill="#5d7a93" /><line x1="462" y1="911" x2="585" y2="911" stroke="#111" stroke-width="12" /><line x1="520" y1="715" x2="520" y2="855" stroke="#111" stroke-width="13" stroke-linecap="round"/><rect x="462" y="530" width="123" height="447" fill="none" stroke="#111" stroke-width="15" /><rect x="308" y="480" width="154" height="497" fill="#e35f7f" stroke="#111" stroke-width="15" /><rect x="430" y="488" width="24" height="481" fill="#d81b60" /><rect x="316" y="570" width="138" height="35" fill="#fcea9c" /><line x1="308" y1="562" x2="462" y2="562" stroke="#111" stroke-width="12" /><line x1="308" y1="613" x2="462" y2="613" stroke="#111" stroke-width="12" /><rect x="316" y="915" width="138" height="54" fill="#5d7a93" /><line x1="308" y1="911" x2="462" y2="911" stroke="#111" stroke-width="12" /><line x1="362" y1="665" x2="362" y2="855" stroke="#111" stroke-width="13" stroke-linecap="round"/><line x1="405" y1="690" x2="405" y2="825" stroke="#111" stroke-width="13" stroke-linecap="round"/><rect x="308" y="480" width="154" height="497" fill="none" stroke="#111" stroke-width="15" /><g transform="rotate(-16.1 712 714)"><rect x="637" y="462" width="150" height="504" fill="#cde25e" stroke="#111" stroke-width="15" /><rect x="755" y="470" width="24" height="488" fill="#a9d13c" /><rect x="645" y="552" width="134" height="35" fill="#fcea9c" /><line x1="637" y1="544" x2="787" y2="544" stroke="#111" stroke-width="12" /><line x1="637" y1="595" x2="787" y2="595" stroke="#111" stroke-width="12" /><rect x="645" y="904" width="134" height="54" fill="#5d7a93" /><line x1="637" y1="900" x2="787" y2="900" stroke="#111" stroke-width="12" /><line x1="682" y1="655" x2="682" y2="845" stroke="#111" stroke-width="13" stroke-linecap="round"/><line x1="730" y1="655" x2="730" y2="785" stroke="#111" stroke-width="13" stroke-linecap="round"/><rect x="637" y="462" width="150" height="504" fill="none" stroke="#111" stroke-width="15" /></g><rect x="268" y="980" width="628" height="42" fill="#d9803d" stroke="#111" stroke-width="15" rx="20" /><line x1="32" y1="1107" x2="1119" y2="1107" stroke="#111" stroke-width="10" /><path d="M1067 1071L1125 1107L1067 1143" fill="none" stroke="#111" stroke-width="10" stroke-linecap="round" stroke-linejoin="miter"/><rect x="1418" y="590" width="130" height="485" fill="#f6ce3c" stroke="#111" stroke-width="15" /><path d="M1530 555L1690 510L1720 600L1560 640Z" fill="#a9d13c" stroke="#111" stroke-width="13" stroke-linejoin="round"/><rect x="1740" y="920" width="70" height="60" fill="#a9d13c" stroke="#111" stroke-width="12" /><rect x="1250" y="535" width="168" height="542" fill="#e35f7f" stroke="#111" stroke-width="15" /><rect x="1386" y="543" width="24" height="526" fill="#d81b60" /><rect x="1258" y="628" width="152" height="35" fill="#fcea9c" /><line x1="1250" y1="620" x2="1418" y2="620" stroke="#111" stroke-width="12" /><line x1="1250" y1="671" x2="1418" y2="671" stroke="#111" stroke-width="12" /><rect x="1258" y="1015" width="152" height="54" fill="#5d7a93" /><line x1="1250" y1="1011" x2="1418" y2="1011" stroke="#111" stroke-width="12" /><line x1="1310" y1="735" x2="1310" y2="940" stroke="#111" stroke-width="13" stroke-linecap="round"/><line x1="1355" y1="765" x2="1355" y2="905" stroke="#111" stroke-width="13" stroke-linecap="round"/><rect x="1250" y="535" width="168" height="542" fill="none" stroke="#111" stroke-width="15" /><rect x="1205" y="1078" width="300" height="45" fill="#d9803d" stroke="#111" stroke-width="15" rx="20" /><g transform="translate(43,-27)"><line x1="1610" y1="533" x2="1610" y2="592" stroke="#111" stroke-width="13" /><circle cx="1610" cy="497" r="36" fill="#fbe88a" stroke="#111" stroke-width="13" /><rect x="1322" y="707" width="70" height="118" fill="#e2566e" stroke="#111" stroke-width="15" rx="16" /><rect x="1832" y="707" width="66" height="118" fill="#e77d8d" stroke="#111" stroke-width="15" rx="16" /><rect x="1532" y="940" width="158" height="50" fill="#7fb0d3" stroke="#111" stroke-width="15" /><path d="M1372 1143V1055Q1372 982 1445 982H1775Q1845 982 1845 1055V1143Z" fill="#7caed2" stroke="#111" stroke-width="15" stroke-linejoin="round"/><path d="M1450 1140V1050Q1450 995 1510 995H1700Q1762 995 1762 1050V1140Z" fill="#a3c8e2" stroke="#111" stroke-width="15" stroke-linejoin="round"/><path d="M1590 1135V1040Q1600 1000 1640 995H1700Q1755 995 1755 1050V1135Z" fill="#bcd6e8" /><rect x="1522" y="1052" width="172" height="88" fill="#fbe98e" stroke="#111" stroke-width="15" /><rect x="1380" y="590" width="464" height="354" fill="#8fbcdb" stroke="#111" stroke-width="15" rx="120" /><path d="M1580 598H1730Q1836 598 1836 710V825Q1836 936 1730 936H1700Q1560 800 1580 598Z" fill="#b9d5e8" /><rect x="1380" y="590" width="464" height="354" fill="none" stroke="#111" stroke-width="15" rx="120" /><rect x="1434" y="642" width="356" height="248" fill="#e6e0e5" stroke="#111" stroke-width="15" rx="75" /><path d="M1570 650H1715Q1782 650 1782 717V815Q1782 882 1715 882H1680Q1540 790 1570 650Z" fill="#f7f6f7" /><rect x="1434" y="642" width="356" height="248" fill="none" stroke="#111" stroke-width="15" rx="75" /><ellipse cx="1500" cy="778" rx="40" ry="30" fill="#efa3b3"/><ellipse cx="1720" cy="778" rx="40" ry="30" fill="#efa3b3"/><line x1="1525" y1="728" x2="1525" y2="752" stroke="#111" stroke-width="13" stroke-linecap="round"/><line x1="1697" y1="728" x2="1697" y2="752" stroke="#111" stroke-width="13" stroke-linecap="round"/><line x1="1587" y1="755" x2="1635" y2="755" stroke="#111" stroke-width="13" stroke-linecap="round"/></g><text x="95" y="235" font-size="93" fill="#9b0b0b" textLength="1015" lengthAdjust="spacingAndGlyphs">High-quality annotated</text><text x="128" y="365" font-size="93" fill="#111" textLength="947" lengthAdjust="spacingAndGlyphs">specific data (<tspan fill="#9b0b0b">private</tspan>)</text><text x="102" y="1310" font-size="93" fill="#111" textLength="993" lengthAdjust="spacingAndGlyphs">Supervised fine-tuning</text><text x="1385" y="1310" font-size="93" fill="#111" textLength="370" lengthAdjust="spacingAndGlyphs">Domain-</text><text x="1305" y="1440" font-size="93" fill="#111" textLength="530" lengthAdjust="spacingAndGlyphs">specific LLM</text></g></svg>
<!-- sec_intro.bullets -->
<div class="p" style='left:139.5px;top:1096.77px;font-size:31px;line-height:41.7px;transform:scaleY(1.036);color:#111;'>•</div>
<div class="p" style='left:183px;top:1097.34px;font-size:35px;line-height:41.7px;transform:scaleY(1.036);color:#111;'>Generic LLMs for domain-specific tasks - immense scale at deployment,<br>susceptibility to misinformation, e.g., healthcare and finance</div>
<div class="p" style='left:139.5px;top:1223.57px;font-size:31px;line-height:41.7px;transform:scaleY(1.036);color:#111;'>•</div>
<div class="p" style='left:183px;top:1224.64px;font-size:35px;line-height:40.73px;transform:scaleY(1.036);color:#111;'>Fine-tuned small LMs for domain-specific tasks – faster development<br>cycles, lower operating costs but need high data annotation costs</div>
<!-- sec_intro.table1 -->
<svg class="fig table1" style="left:130px;top:1340px" width="780" height="360" viewBox="130 1340 780 360"><g transform="translate(130,1340) scale(0.33163)"><text x="55" y="135" font-size="101" class="f-serif" fill="#1a1a1a" textLength="2263" lengthAdjust="spacingAndGlyphs">Table 1: A qualitative comparison of human annota-</text><text x="55" y="250" font-size="101" class="f-serif" fill="#1a1a1a" textLength="1410" lengthAdjust="spacingAndGlyphs">tion, LLM annotation, and <tspan class="f-mono" font-size="88">IMFL</tspan> .</text><line x1="80" y1="367" x2="2285" y2="367" stroke="#1a1a1a" stroke-width="6.5" /><line x1="80" y1="519" x2="2285" y2="519" stroke="#1a1a1a" stroke-width="3.2" /><line x1="80" y1="870" x2="2285" y2="870" stroke="#1a1a1a" stroke-width="3.2" /><line x1="80" y1="1022" x2="2285" y2="1022" stroke="#1a1a1a" stroke-width="6.5" /><line x1="598" y1="398" x2="598" y2="497" stroke="#555" stroke-width="3.2" /><line x1="598" y1="550" x2="598" y2="848" stroke="#555" stroke-width="3.2" /><line x1="598" y1="900" x2="598" y2="998" stroke="#555" stroke-width="3.2" /><text x="853" y="468" font-size="88" class="f-serif" fill="#1a1a1a" text-anchor="middle">Human</text><text x="1363" y="468" font-size="88" class="f-serif" fill="#1a1a1a" text-anchor="middle">LLM</text><text x="1982" y="468" font-size="88" class="f-serif" fill="#1a1a1a" text-anchor="middle">IMFL</text><text x="305" y="618" font-size="88" class="f-serif" fill="#1a1a1a" text-anchor="middle">Cost Saving</text><text x="853" y="618" font-size="88" class="f-serif" fill="#1a1a1a" text-anchor="middle">Low</text><text x="1363" y="618" font-size="88" class="f-serif" fill="#1a1a1a" text-anchor="middle" font-weight="bold">Very High</text><text x="1982" y="618" font-size="88" class="f-serif" fill="#1a1a1a" text-anchor="middle" font-weight="bold">High</text><text x="305" y="720" font-size="88" class="f-serif" fill="#1a1a1a" text-anchor="middle">Quality</text><text x="853" y="720" font-size="88" class="f-serif" fill="#1a1a1a" text-anchor="middle" font-weight="bold">Very High</text><text x="1363" y="720" font-size="88" class="f-serif" fill="#1a1a1a" text-anchor="middle">Low</text><text x="1982" y="720" font-size="88" class="f-serif" fill="#1a1a1a" text-anchor="middle" font-weight="bold">High</text><text x="305" y="820" font-size="88" class="f-serif" fill="#1a1a1a" text-anchor="middle">Efficiency</text><text x="853" y="820" font-size="88" class="f-serif" fill="#1a1a1a" text-anchor="middle">Low</text><text x="1363" y="820" font-size="88" class="f-serif" fill="#1a1a1a" text-anchor="middle" font-weight="bold">Very High</text><text x="1982" y="820" font-size="88" class="f-serif" fill="#1a1a1a" text-anchor="middle" font-weight="bold">High</text><text x="305" y="968" font-size="88" class="f-serif" fill="#1a1a1a" text-anchor="middle">Performance</text><text x="853" y="968" font-size="88" class="f-serif" fill="#1a1a1a" text-anchor="middle" font-weight="bold">Very High</text><text x="1363" y="968" font-size="88" class="f-serif" fill="#1a1a1a" text-anchor="middle">Low</text><text x="1982" y="968" font-size="88" class="f-serif" fill="#1a1a1a" text-anchor="middle" font-weight="bold">High/Very High</text></g></svg>
<!-- sec_intro.barchart -->
<svg class="fig barchart" style="left:910px;top:1340px" width="400" height="420" viewBox="910 1340 400 420"><g transform="translate(910,1340) scale(0.26792)"><rect x="347" y="818" width="130" height="378" fill="#808080" stroke="#7a7a7a" stroke-width="3" /><line x1="412" y1="770" x2="412" y2="862" stroke="#111" stroke-width="7" /><rect x="513" y="646" width="130" height="550" fill="#808080" stroke="#7a7a7a" stroke-width="3" /><line x1="578" y1="605" x2="578" y2="685" stroke="#111" stroke-width="7" /><rect x="680" y="522" width="130" height="674" fill="#808080" stroke="#7a7a7a" stroke-width="3" /><line x1="745" y1="490" x2="745" y2="552" stroke="#111" stroke-width="7" /><rect x="847" y="362" width="130" height="834" fill="#808080" stroke="#7a7a7a" stroke-width="3" /><line x1="912" y1="332" x2="912" y2="390" stroke="#111" stroke-width="7" /><rect x="1013" y="248" width="130" height="948" fill="#808080" stroke="#7a7a7a" stroke-width="3" /><line x1="1078" y1="222" x2="1078" y2="270" stroke="#111" stroke-width="7" /><rect x="1180" y="279" width="130" height="917" fill="#4f1543" stroke="#3a0d31" stroke-width="3" /><line x1="1245" y1="256" x2="1245" y2="295" stroke="#111" stroke-width="7" /><rect x="297" y="140" width="1063" height="1056" fill="none" stroke="#111" stroke-width="3.2" /><line x1="275" y1="140" x2="297" y2="140" stroke="#111" stroke-width="3.2" /><text x="250" y="163" font-size="63" class="f-dv" fill="#222" text-anchor="end">85</text><line x1="275" y1="316" x2="297" y2="316" stroke="#111" stroke-width="3.2" /><text x="250" y="339" font-size="63" class="f-dv" fill="#222" text-anchor="end">80</text><line x1="275" y1="492" x2="297" y2="492" stroke="#111" stroke-width="3.2" /><text x="250" y="515" font-size="63" class="f-dv" fill="#222" text-anchor="end">75</text><line x1="275" y1="668" x2="297" y2="668" stroke="#111" stroke-width="3.2" /><text x="250" y="691" font-size="63" class="f-dv" fill="#222" text-anchor="end">70</text><line x1="275" y1="844" x2="297" y2="844" stroke="#111" stroke-width="3.2" /><text x="250" y="867" font-size="63" class="f-dv" fill="#222" text-anchor="end">65</text><line x1="275" y1="1020" x2="297" y2="1020" stroke="#111" stroke-width="3.2" /><text x="250" y="1043" font-size="63" class="f-dv" fill="#222" text-anchor="end">60</text><line x1="275" y1="1196" x2="297" y2="1196" stroke="#111" stroke-width="3.2" /><text x="250" y="1219" font-size="63" class="f-dv" fill="#222" text-anchor="end">55</text><line x1="412" y1="1196" x2="412" y2="1218" stroke="#111" stroke-width="3.2" /><text x="408" y="1385" font-size="63" class="f-dv" fill="#222" text-anchor="middle" transform="rotate(-45 408 1385)" dominant-baseline="central">1X Human</text><line x1="578" y1="1196" x2="578" y2="1218" stroke="#111" stroke-width="3.2" /><text x="574" y="1385" font-size="63" class="f-dv" fill="#222" text-anchor="middle" transform="rotate(-45 574 1385)" dominant-baseline="central">2X Human</text><line x1="745" y1="1196" x2="745" y2="1218" stroke="#111" stroke-width="3.2" /><text x="741" y="1385" font-size="63" class="f-dv" fill="#222" text-anchor="middle" transform="rotate(-45 741 1385)" dominant-baseline="central">3X Human</text><line x1="912" y1="1196" x2="912" y2="1218" stroke="#111" stroke-width="3.2" /><text x="908" y="1385" font-size="63" class="f-dv" fill="#222" text-anchor="middle" transform="rotate(-45 908 1385)" dominant-baseline="central">4X Human</text><line x1="1078" y1="1196" x2="1078" y2="1218" stroke="#111" stroke-width="3.2" /><text x="1074" y="1385" font-size="63" class="f-dv" fill="#222" text-anchor="middle" transform="rotate(-45 1074 1385)" dominant-baseline="central">5X Human</text><line x1="1245" y1="1196" x2="1245" y2="1218" stroke="#111" stroke-width="3.2" /><text x="1241" y="1325" font-size="63" class="f-dv" fill="#222" text-anchor="middle" transform="rotate(-45 1241 1325)" dominant-baseline="central">IMFL</text><text x="830" y="100" font-size="76" class="f-dv" fill="#222" text-anchor="middle">IMFL vs Human Annotator</text><text x="128" y="670" font-size="64" class="f-dv" fill="#222" text-anchor="middle" transform="rotate(-90 128 670)">Average F1-score</text></g></svg>
<!-- sec_overview.defs -->
<svg width="0" height="0" style="position:absolute"><defs><path id="knot" d="M22.2819 9.8211a5.9847 5.9847 0 0 0-.5157-4.9108 6.0462 6.0462 0 0 0-6.5098-2.9A6.0651 6.0651 0 0 0 4.9807 4.1818a5.9847 5.9847 0 0 0-3.9977 2.9 6.0462 6.0462 0 0 0 .7427 7.0966 5.98 5.98 0 0 0 .511 4.9107 6.051 6.051 0 0 0 6.5146 2.9001A5.9847 5.9847 0 0 0 13.2599 24a6.0557 6.0557 0 0 0 5.7718-4.2058 5.9894 5.9894 0 0 0 3.9977-2.9001 6.0557 6.0557 0 0 0-.7475-7.0729zm-9.022 12.6081a4.4755 4.4755 0 0 1-2.8764-1.0408l.1419-.0804 4.7783-2.7582a.7948.7948 0 0 0 .3927-.6813v-6.7369l2.02 1.1686a.071.071 0 0 1 .038.052v5.5826a4.504 4.504 0 0 1-4.4945 4.4944zm-9.6607-4.1254a4.4708 4.4708 0 0 1-.5346-3.0137l.142.0852 4.783 2.7582a.7712.7712 0 0 0 .7806 0l5.8428-3.3685v2.3324a.0804.0804 0 0 1-.0332.0615L9.74 19.9502a4.4992 4.4992 0 0 1-6.1408-1.6464zM2.3408 7.8956a4.485 4.485 0 0 1 2.3655-1.9728V11.6a.7664.7664 0 0 0 .3879.6765l5.8144 3.3543-2.0201 1.1685a.0757.0757 0 0 1-.071 0l-4.8303-2.7865A4.504 4.504 0 0 1 2.3408 7.872zm16.5963 3.8558L13.1038 8.364 15.1192 7.2a.0757.0757 0 0 1 .071 0l4.8303 2.7913a4.4944 4.4944 0 0 1-.6765 8.1042v-5.6772a.79.79 0 0 0-.407-.667zm2.0107-3.0231l-.142-.0852-4.7735-2.7818a.7759.7759 0 0 0-.7854 0L9.409 9.2297V6.8974a.0662.0662 0 0 1 .0284-.0615l4.8303-2.7866a4.4992 4.4992 0 0 1 6.6802 4.66zM8.3065 12.863l-2.02-1.1638a.0804.0804 0 0 1-.038-.0567V6.0742a4.4992 4.4992 0 0 1 7.3757-3.4537l-.142.0805L8.704 5.459a.7948.7948 0 0 0-.3927.6813zm1.0976-2.3654l2.602-1.4998 2.6069 1.4998v2.9994l-2.5974 1.4997-2.6067-1.4997Z"/></defs></svg>
<!-- sec_overview.text -->
<div class="p" style='left:123.6px;top:1898.59px;font-size:35px;line-height:40.64px;transform:scaleY(1.036);color:#111;'>IMFL proposes the best acquisition strategy that balances between low-<br>fidelity automatic LLM annotations and high-fidelity human annotations to<br>maximize model performance given limited annotation budgets.</div>
<div class="p" style='left:118.2px;top:2598.49px;font-size:35px;line-height:40.64px;transform:scaleY(1.036);color:#111;'>The high human annotation cost in domain-specific tasks can be greatly<br>reduced by employing IMFL, which utilizes fewer human annotations<br>combined with cheaper LLM (e.g., GPT-3.5-turbo) annotations to<br>achieve competitive performance.</div>
<!-- sec_overview.diagram -->
<svg class="fig overview" style="left:80px;top:2050px" width="1230" height="560" viewBox="80 2050 1230 560"><g transform="translate(80,2050) scale(0.35068)"><path d="M357 250V137H3325.7V1010H3240.7" fill="none" stroke="#82ae4c" stroke-width="22" stroke-linejoin="miter"/><path d="M323 243H391L357 307Z" fill="#82ae4c" /><text x="1378.7" y="85" font-size="81" fill="#7fab45" font-style="italic" textLength="747" lengthAdjust="spacingAndGlyphs">Interactive fine-tuning</text><line x1="220" y1="420" x2="357" y2="370" stroke="#808080" stroke-width="11" /><line x1="220" y1="420" x2="357" y2="645" stroke="#808080" stroke-width="11" /><line x1="220" y1="580" x2="357" y2="370" stroke="#808080" stroke-width="11" /><line x1="220" y1="580" x2="357" y2="645" stroke="#808080" stroke-width="11" /><line x1="357" y1="370" x2="495" y2="508" stroke="#808080" stroke-width="11" /><line x1="357" y1="490" x2="495" y2="508" stroke="#808080" stroke-width="11" /><line x1="357" y1="645" x2="495" y2="508" stroke="#808080" stroke-width="11" /><line x1="357" y1="490" x2="357" y2="645" stroke="#808080" stroke-width="11" /><line x1="220" y1="420" x2="357" y2="490" stroke="#808080" stroke-width="11" /><circle cx="220" cy="420" r="42" fill="#fff" stroke="#808080" stroke-width="13" /><circle cx="357" cy="370" r="42" fill="#fff" stroke="#808080" stroke-width="13" /><circle cx="357" cy="490" r="42" fill="#fff" stroke="#808080" stroke-width="13" /><circle cx="220" cy="580" r="42" fill="#fff" stroke="#808080" stroke-width="13" /><circle cx="357" cy="645" r="42" fill="#fff" stroke="#808080" stroke-width="13" /><circle cx="495" cy="508" r="42" fill="#fff" stroke="#808080" stroke-width="13" /><text x="165" y="788" font-size="81" fill="#303030" textLength="347" lengthAdjust="spacingAndGlyphs">Target LM</text><path d="M122 1135H37V508H125" fill="none" stroke="#111" stroke-width="9" /><path d="M120 482L158 508L120 534Z" fill="#111" /><line x1="560" y1="507" x2="660" y2="507" stroke="#111" stroke-width="9" /><path d="M655 482L692 507L655 532Z" fill="#111" /><rect x="695" y="377" width="613" height="258" fill="#d1c2e0" rx="48" /><text x="1001" y="490" font-size="81" fill="#303030" text-anchor="middle" textLength="390" lengthAdjust="spacingAndGlyphs">Uncertainty</text><text x="1001" y="578" font-size="81" fill="#303030" text-anchor="middle" textLength="200" lengthAdjust="spacingAndGlyphs">Score</text><path d="M1003 635V880M687 1085V880H1232V1085" fill="none" stroke="#6a2fa0" stroke-width="8" /><path d="M670 1080H704L687 1120Z" fill="#6a2fa0" /><path d="M1215 1080H1249L1232 1120Z" fill="#6a2fa0" /><line x1="552" y1="1133" x2="800" y2="1133" stroke="#6a2fa0" stroke-width="22" /><path d="M797 1098V1168L862 1133Z" fill="#6a2fa0" /><path d="M120 1065V1208A215 52 0 0 0 550 1208V1065Z" fill="#e3eaf7" stroke="#3b6cc7" stroke-width="4.5" /><ellipse cx="335" cy="1065" rx="215" ry="52" fill="#edf2fb" stroke="#3b6cc7" stroke-width="4.5"/><path d="M1105 1133H1368V1015H1450" fill="none" stroke="#111" stroke-width="20" stroke-linejoin="miter"/><path d="M1360 1133V583H1470" fill="none" stroke="#111" stroke-width="8" /><path d="M1465 560L1502 583L1465 606Z" fill="#111" /><path d="M1440 978L1502 1015L1440 1052Z" fill="#111" /><path d="M865 1090V1172A120 32 0 0 0 1105 1172V1090Z" fill="#e3eaf7" stroke="#3b6cc7" stroke-width="4.5" /><ellipse cx="985" cy="1090" rx="120" ry="32" fill="#edf2fb" stroke="#3b6cc7" stroke-width="4.5"/><text x="597" y="1235" font-size="81" fill="#6a2fa0" font-style="italic" textLength="203" lengthAdjust="spacingAndGlyphs">Query</text><text x="1115" y="1230" font-size="81" fill="#6a2fa0" font-style="italic" textLength="230" lengthAdjust="spacingAndGlyphs">Assign</text><text x="335" y="1355" font-size="81" fill="#303030" text-anchor="middle" textLength="438" lengthAdjust="spacingAndGlyphs">Unannotated</text><text x="335" y="1445" font-size="81" fill="#303030" text-anchor="middle" textLength="320" lengthAdjust="spacingAndGlyphs">data pool</text><text x="983" y="1355" font-size="81" fill="#303030" text-anchor="middle" textLength="312" lengthAdjust="spacingAndGlyphs">Acquired</text><text x="983" y="1445" font-size="81" fill="#303030" text-anchor="middle" textLength="285" lengthAdjust="spacingAndGlyphs">samples</text><rect x="1446.7" y="255" width="1060" height="1017" fill="none" stroke="#111" stroke-width="4" rx="105" stroke-dasharray="15 9"/><text x="1490.7" y="355" font-size="79" fill="#111" font-weight="bold" font-style="italic" textLength="966" lengthAdjust="spacingAndGlyphs">Limited annotation budget</text><rect x="1503.7" y="400" width="952" height="365" fill="#f6e3d8" rx="62" /><g transform="translate(1586.7,432) scale(0.52690) translate(-143,-65)"><path d="M143 575Q150 480 200 450L320 408Q350 470 415 473Q480 470 505 408L625 450Q675 480 682 575Z" fill="#a9541a" /><path d="M325 275Q320 230 345 210Q380 195 440 195Q480 185 500 172Q522 200 520 275Q545 265 545 290Q540 335 515 335Q490 410 415 420Q345 410 320 335Q290 335 285 290Q290 262 325 275Z" fill="#f6e3d8" stroke="#a9541a" stroke-width="11" stroke-linejoin="round"/><path d="M268 160Q330 70 410 65Q450 70 470 105Q540 110 555 190Q555 240 535 278L518 278Q525 200 500 168Q440 200 380 200Q330 215 327 280L300 278Q290 220 295 180Z" fill="#a9541a" /></g><text x="2146.7" y="562" font-size="81" fill="#303030" text-anchor="middle" textLength="245" lengthAdjust="spacingAndGlyphs">Human</text><text x="2146.7" y="652" font-size="81" fill="#303030" text-anchor="middle" textLength="322" lengthAdjust="spacingAndGlyphs">annotator</text><rect x="1503.7" y="830" width="952" height="365" fill="#fdf1ce" rx="62" /><use href="#knot" fill="#c49a26" transform="translate(1550.2,877) scale(11.37500)"/><text x="2146.7" y="992" font-size="81" fill="#303030" text-anchor="middle" textLength="495" lengthAdjust="spacingAndGlyphs">LLM annotator</text><text x="2146.7" y="1082" font-size="81" fill="#303030" text-anchor="middle" textLength="508" lengthAdjust="spacingAndGlyphs">(e.g., GPT-3.5)</text><line x1="2458.7" y1="580" x2="2623.7" y2="580" stroke="#111" stroke-width="5" /><path d="M2618.7 565L2650.7 580L2618.7 595Z" fill="#111" /><line x1="2926.7" y1="583" x2="3318.7" y2="583" stroke="#82ae4c" stroke-width="5" /><path d="M2786.7 660V833H2650.7V975" fill="none" stroke="#82ae4c" stroke-width="5" /><path d="M2636.7 968H2664.7L2650.7 1000Z" fill="#82ae4c" /><path d="M2650.7 530V630A138 38 0 0 0 2926.7 630V530Z" fill="#84af55" stroke="#5e8a35" stroke-width="4.5" /><ellipse cx="2788.7" cy="530" rx="138" ry="38" fill="#b1ce94" stroke="#5e8a35" stroke-width="4.5"/><text x="2823.7" y="745" font-size="81" fill="#7fab45" font-style="italic" textLength="245" lengthAdjust="spacingAndGlyphs">Prompt</text><text x="2808.7" y="835" font-size="81" fill="#7fab45" font-style="italic" textLength="275" lengthAdjust="spacingAndGlyphs">retrieval</text><line x1="2458.7" y1="1010" x2="2660.7" y2="1010" stroke="#111" stroke-width="20" /><line x1="2658.7" y1="1010" x2="2820.7" y2="1010" stroke="#82ae4c" stroke-width="20" /><path d="M2816.7 976V1044L2880.7 1010Z" fill="#82ae4c" /><path d="M2880.7 945V1075A180 48 0 0 0 3240.7 1075V945Z" fill="#e4f0dc" stroke="#4e7d27" stroke-width="4.5" /><ellipse cx="3060.7" cy="945" rx="180" ry="48" fill="#f2f8ee" stroke="#4e7d27" stroke-width="4.5"/><text x="2513.7" y="1135" font-size="81" fill="#7fab45" font-style="italic" textLength="340" lengthAdjust="spacingAndGlyphs">In-context</text><text x="2546.7" y="1225" font-size="81" fill="#7fab45" font-style="italic" textLength="270" lengthAdjust="spacingAndGlyphs">learning</text><text x="2885.7" y="250" font-size="79" fill="#111" text-anchor="middle" font-weight="bold" textLength="440" lengthAdjust="spacingAndGlyphs">High-fidelity</text><text x="2885.7" y="342" font-size="81" fill="#303030" text-anchor="middle" textLength="605" lengthAdjust="spacingAndGlyphs">human-annotated</text><text x="2885.7" y="432" font-size="81" fill="#303030" text-anchor="middle" textLength="150" lengthAdjust="spacingAndGlyphs">data</text><text x="3095.7" y="1238" font-size="79" fill="#111" text-anchor="middle" font-weight="bold" textLength="424" lengthAdjust="spacingAndGlyphs">Low-fidelity</text><text x="3095.7" y="1328" font-size="81" fill="#303030" text-anchor="middle" textLength="518" lengthAdjust="spacingAndGlyphs">LLM-annotated</text><text x="3095.7" y="1418" font-size="81" fill="#303030" text-anchor="middle" textLength="150" lengthAdjust="spacingAndGlyphs">data</text><text x="1446.7" y="1468" font-size="80" fill="#111" textLength="1090" lengthAdjust="spacingAndGlyphs">(a) Overview of IMFL framework</text></g></svg>
<!-- sec_mid.heads -->
<div class="p" style='left:1433.2px;top:642.64px;font-size:40px;line-height:54.05px;transform:scaleY(1.036);color:#3f6bf0;'>•</div>
<div class="p" style='left:1492px;top:641.13px;font-size:47px;line-height:54.05px;transform:scaleY(1.036);color:#3f6bf0;'>Problem Formulation</div>
<div class="p" style='left:1433.2px;top:1115.14px;font-size:40px;line-height:54.05px;transform:scaleY(1.036);color:#3f6bf0;'>•</div>
<div class="p" style='left:1492px;top:1113.63px;font-size:47px;line-height:54.05px;transform:scaleY(1.036);color:#3f6bf0;'>Multi-fidelity Learning Framework</div>
<div class="p" style='left:1493px;top:1210.24px;font-size:60px;line-height:60px;font-family:"DejaVu Sans", "Liberation Sans", sans-serif;color:#a31515;transform:scaleX(.6);transform-origin:0 50%;'>➢</div>
<div class="p" style='left:1537px;top:1216.43px;font-size:40.6px;line-height:46.33px;transform:scaleY(1.036);color:#a31515;'>Initialization</div>
<div class="p" style='left:1493px;top:1334.94px;font-size:60px;line-height:60px;font-family:"DejaVu Sans", "Liberation Sans", sans-serif;color:#a31515;transform:scaleX(.6);transform-origin:0 50%;'>➢</div>
<div class="p" style='left:1537px;top:1341.13px;font-size:40.6px;line-height:46.33px;transform:scaleY(1.036);color:#a31515;'>Fine-tuning</div>
<div class="p" style='left:1493px;top:2083.74px;font-size:60px;line-height:60px;font-family:"DejaVu Sans", "Liberation Sans", sans-serif;color:#a31515;transform:scaleX(.6);transform-origin:0 50%;'>➢</div>
<div class="p" style='left:1538px;top:2089.71px;font-size:41.2px;line-height:46.33px;transform:scaleY(1.036);color:#a31515;'>Termination</div>
<div class="p" style='left:1770px;top:2091.04px;font-size:35px;line-height:40.54px;transform:scaleY(1.036);color:#111;'>two stopping criteria: (1) annotation budget and (2) computational cost</div>
<!-- sec_mid.problem -->
<svg class="fig problem" style="left:1480px;top:720px" width="1420" height="370" viewBox="1480 720 1420 370"><text x="1494.6" y="762.2" font-size="35" fill="#111">Given a total annotation budget</text><text x="1993" y="762.2" font-size="36" class="f-serif" fill="#111"><tspan class="f-cal">ℬ</tspan></text><text x="2029" y="762.2" font-size="35" fill="#111">and a computational cost</text><text x="2429.5" y="762.2" font-size="33" class="f-serif" fill="#111"><tspan class="f-cal">𝒞</tspan></text><text x="2448.6" y="762.2" font-size="35" fill="#111">, we aim to fine-tune a</text><text x="1494.6" y="812.9" font-size="35" fill="#111">small LM</text><text x="1658.5" y="812.9" font-size="37" class="f-serif" fill="#111" textLength="256" lengthAdjust="spacingAndGlyphs"><tspan font-style="italic">f</tspan>(<tspan font-style="italic" font-weight="bold">x</tspan>; <tspan font-style="italic">θ</tspan><tspan font-size="25.9" dy="-14.06">∗</tspan><tspan dy="14.06">) : </tspan><tspan class="f-cal">𝒳</tspan> → <tspan class="f-cal">𝒴</tspan></text><text x="1928.5" y="812.9" font-size="35" fill="#111">on a downstream task by annotating samples from an</text><text x="1494.6" y="862.3" font-size="35" fill="#111">unannotated data pool</text><text x="1854.6" y="865.3" font-size="37" class="f-serif" fill="#111" textLength="138" lengthAdjust="spacingAndGlyphs"><tspan class="f-cal">𝒰</tspan> = {<tspan font-style="italic">x</tspan><tspan font-style="italic" font-size="25.9" dy="6.66">i</tspan><tspan dy="-6.66">}</tspan></text><text x="1995" y="848.3" font-size="26" class="f-serif" fill="#111"><tspan font-style="italic">U</tspan></text><text x="1995" y="875.8" font-size="26" class="f-serif" fill="#111" textLength="43" lengthAdjust="spacingAndGlyphs"><tspan font-style="italic">i</tspan>=1</text><text x="2058" y="862.3" font-size="35" fill="#111">to constitute the annotated sample set</text><text x="2656" y="864.3" font-size="36" class="f-serif" fill="#111" textLength="161.6" lengthAdjust="spacingAndGlyphs"><tspan class="f-cal">𝒜</tspan> (|<tspan class="f-cal">𝒜</tspan>| ≤ <tspan class="f-cal">ℬ</tspan></text><text x="1494.6" y="912.4" font-size="35" fill="#111">and initially</text><text x="1680" y="915.4" font-size="36" class="f-serif" fill="#111" textLength="97" lengthAdjust="spacingAndGlyphs"><tspan class="f-cal">𝒜</tspan> = ∅</text><text x="1781.5" y="912.4" font-size="35" fill="#111">) such that its performance is maximized.</text><text x="1494.6" y="1014" font-size="35" fill="#111" font-weight="bold">Annotation set</text><text x="1739.58" y="1014" font-size="35" fill="#111"> – a human-annotated subset</text><text x="2207.8" y="1014" font-size="36" class="f-serif" fill="#111" textLength="49" lengthAdjust="spacingAndGlyphs"><tspan class="f-cal">𝒜</tspan><tspan font-style="italic" font-size="25.2" dy="7.92">H</tspan></text><text x="2272.7" y="1014" font-size="35" fill="#111">and an LLM-annotated subset</text><text x="2746.5" y="1016" font-size="36" class="f-serif" fill="#111" textLength="47" lengthAdjust="spacingAndGlyphs"><tspan class="f-cal">𝒜</tspan><tspan font-style="italic" font-size="25.2" dy="7.92">G</tspan></text><text x="1494.6" y="1064.8" font-size="35" fill="#111" font-weight="bold" textLength="398.5" lengthAdjust="spacingAndGlyphs">Total annotation budget</text><text x="1894.4" y="1064.8" font-size="35" fill="#111" textLength="434" lengthAdjust="spacingAndGlyphs"> – human annotation budget</text><text x="2342.6" y="1066.8" font-size="36" class="f-serif" fill="#111" textLength="45" lengthAdjust="spacingAndGlyphs"><tspan class="f-cal">ℬ</tspan><tspan font-style="italic" font-size="25.2" dy="7.92">H</tspan></text><text x="2397" y="1064.8" font-size="35" fill="#111">and LLM annotation budget</text><text x="2833.7" y="1065.8" font-size="36" class="f-serif" fill="#111" textLength="42" lengthAdjust="spacingAndGlyphs"><tspan class="f-cal">ℬ</tspan><tspan font-style="italic" font-size="25.2" dy="7.92">G</tspan></text></svg>
<!-- sec_mid.formulas -->
<svg class="fig formulas" style="left:1760px;top:1190px" width="1140" height="230" viewBox="1760 1190 1140 230"><text x="1773" y="1252.7" font-size="36" class="f-serif" fill="#111"><tspan font-style="italic">θ</tspan></text><text x="1792.8" y="1241" font-size="24" class="f-serif" fill="#111" textLength="30.7" lengthAdjust="spacingAndGlyphs">(0)</text><text x="1838.7" y="1252.7" font-size="34" class="f-serif" fill="#111" textLength="24.2" lengthAdjust="spacingAndGlyphs">=</text><text x="1875.8" y="1252.7" font-size="34" class="f-serif" fill="#111" textLength="109.9" lengthAdjust="spacingAndGlyphs">arg min</text><text x="1917.8" y="1280.8" font-size="24" class="f-serif" fill="#111" textLength="24.2" lengthAdjust="spacingAndGlyphs"><tspan font-style="italic">θ</tspan><tspan font-size="19.2" dy="-7.2">∗</tspan></text><text x="2034.5" y="1228.5" font-size="34" class="f-serif" fill="#111" text-anchor="middle">1</text><line x1="1998" y1="1242.4" x2="2071.3" y2="1242.4" stroke="#111" stroke-width="1.5" /><text x="2000.2" y="1277" font-size="34" class="f-serif" fill="#111" textLength="68.5" lengthAdjust="spacingAndGlyphs">|<tspan class="f-cal">𝒜</tspan><tspan font-size="23.8" dy="-13.6">0</tspan><tspan font-style="italic" font-size="23.8" dx="-12.24" dy="22.1">H</tspan><tspan dy="-8.5">|</tspan></text><text x="2132" y="1255.2" font-size="55.9" class="f-serif" fill="#111" textLength="46" lengthAdjust="spacingAndGlyphs">∑</text><text x="2082.6" y="1296" font-size="24.5" class="f-serif" fill="#111" textLength="142.2" lengthAdjust="spacingAndGlyphs">(<tspan font-style="italic" font-weight="bold">x</tspan><tspan font-style="italic" font-size="18.38" dy="3.67">i</tspan><tspan dy="-3.67">,</tspan><tspan font-style="italic">y</tspan><tspan font-style="italic" font-size="18.38" dy="3.67">i</tspan><tspan dy="-3.67">)∈</tspan><tspan class="f-cal">𝒜</tspan><tspan font-size="18.38" dy="-9.8">0</tspan><tspan font-style="italic" font-size="18.38" dx="-9.31" dy="17.15">H</tspan></text><text x="2236.9" y="1252.7" font-size="34" class="f-serif" fill="#111" textLength="244.6" lengthAdjust="spacingAndGlyphs"><tspan class="f-cal">ℒ</tspan> (<tspan font-style="italic">f</tspan>(<tspan font-style="italic" font-weight="bold">x</tspan><tspan font-style="italic" font-size="23.8" dy="5.1">i</tspan><tspan dy="-5.1">; </tspan><tspan font-style="italic">θ</tspan><tspan font-size="23.8" dy="-12.92">∗</tspan><tspan dy="12.92">), </tspan><tspan font-style="italic">y</tspan><tspan font-style="italic" font-size="23.8" dy="5.1">i</tspan><tspan dy="-5.1">) ,</tspan></text><text x="2524.5" y="1252.7" font-size="34" class="f-serif" fill="#111" textLength="168.7" lengthAdjust="spacingAndGlyphs"><tspan font-style="italic">i</tspan> = 1, ..., <tspan font-style="italic">n</tspan><tspan font-style="italic" font-size="23.8" dy="5.1">s</tspan></text><text x="1770.8" y="1368.4" font-size="29" class="f-serif" fill="#111" textLength="68.5" lengthAdjust="spacingAndGlyphs"><tspan class="f-cal">ℒ</tspan><tspan font-style="italic" font-size="20.88" dy="4.35">total</tspan></text><text x="1851.6" y="1368.4" font-size="28" class="f-serif" fill="#111" textLength="21" lengthAdjust="spacingAndGlyphs">=</text><text x="1916.9" y="1345.4" font-size="28" class="f-serif" fill="#111" text-anchor="middle">1</text><line x1="1886.5" y1="1358" x2="1948.5" y2="1358" stroke="#111" stroke-width="1.3" /><text x="1888" y="1392" font-size="28" class="f-serif" fill="#111" textLength="59" lengthAdjust="spacingAndGlyphs">|<tspan class="f-cal">𝒜</tspan><tspan font-style="italic" font-size="19.6" dy="-11.2">r</tspan><tspan font-style="italic" font-size="19.6" dx="-7.84" dy="18.2">H</tspan><tspan dy="-7">|</tspan></text><text x="2000.9" y="1368.6" font-size="47.2" class="f-serif" fill="#111" textLength="39.7" lengthAdjust="spacingAndGlyphs">∑</text><text x="1958.2" y="1404.5" font-size="20.5" class="f-serif" fill="#111" textLength="122.2" lengthAdjust="spacingAndGlyphs">(<tspan font-style="italic" font-weight="bold">x</tspan><tspan font-style="italic" font-size="15.38" dy="3.07">i</tspan><tspan dy="-3.07">,</tspan><tspan font-style="italic">y</tspan><tspan font-style="italic" font-size="15.38" dy="3.07">i</tspan><tspan dy="-3.07">)∈</tspan><tspan class="f-cal">𝒜</tspan><tspan font-style="italic" font-size="15.38" dy="-8.2">r</tspan><tspan font-style="italic" font-size="15.38" dx="-6.15" dy="14.35">H</tspan></text><text x="2090" y="1368.4" font-size="29" class="f-serif" fill="#111" textLength="18.5" lengthAdjust="spacingAndGlyphs"><tspan class="f-cal">ℒ</tspan></text><text x="2118" y="1376" font-size="50" class="f-cal" fill="#111" textLength="11.5" lengthAdjust="spacingAndGlyphs">(</text><text x="2134.3" y="1368.4" font-size="28" class="f-serif" fill="#111" textLength="162.7" lengthAdjust="spacingAndGlyphs"><tspan font-style="italic">f</tspan>(<tspan font-style="italic" font-weight="bold">x</tspan><tspan font-style="italic" font-size="19.6" dy="4.2">i</tspan><tspan dy="-4.2">; </tspan><tspan font-style="italic">θ</tspan><tspan font-size="19.6" dy="-11.2">(</tspan><tspan font-style="italic" font-size="19.6">r</tspan><tspan font-size="19.6">)</tspan><tspan dy="11.2">), </tspan><tspan font-style="italic">y</tspan><tspan font-style="italic" font-size="19.6" dy="4.2">i</tspan></text><text x="2299" y="1376" font-size="50" class="f-cal" fill="#111" textLength="11.5" lengthAdjust="spacingAndGlyphs">)</text><text x="2325.4" y="1368.4" font-size="28" class="f-serif" fill="#111" textLength="21.4" lengthAdjust="spacingAndGlyphs">+</text><text x="2388.5" y="1345.4" font-size="28" class="f-serif" fill="#111" text-anchor="middle">1</text><line x1="2358.7" y1="1358" x2="2417.9" y2="1358" stroke="#111" stroke-width="1.3" /><text x="2360.2" y="1392" font-size="28" class="f-serif" fill="#111" textLength="56.2" lengthAdjust="spacingAndGlyphs">|<tspan class="f-cal">𝒜</tspan><tspan font-style="italic" font-size="19.6" dy="-11.2">r</tspan><tspan font-style="italic" font-size="19.6" dx="-7.84" dy="18.2">G</tspan><tspan dy="-7">|</tspan></text><text x="2470.9" y="1368.6" font-size="47.2" class="f-serif" fill="#111" textLength="39.7" lengthAdjust="spacingAndGlyphs">∑</text><text x="2428.2" y="1404.5" font-size="20.5" class="f-serif" fill="#111" textLength="124.4" lengthAdjust="spacingAndGlyphs">(<tspan font-style="italic" font-weight="bold">x</tspan><tspan font-style="italic" font-size="15.38" dy="3.07">j</tspan><tspan dy="-3.07">,</tspan><tspan font-style="italic">y</tspan><tspan font-style="italic" font-size="15.38" dy="3.07">j</tspan><tspan dy="-3.07">)∈</tspan><tspan class="f-cal">𝒜</tspan><tspan font-style="italic" font-size="15.38" dy="-8.2">r</tspan><tspan font-style="italic" font-size="15.38" dx="-6.15" dy="14.35">G</tspan></text><text x="2560.7" y="1368.4" font-size="29" class="f-serif" fill="#111" textLength="18.5" lengthAdjust="spacingAndGlyphs"><tspan class="f-cal">ℒ</tspan></text><text x="2588.7" y="1376" font-size="50" class="f-cal" fill="#111" textLength="11.5" lengthAdjust="spacingAndGlyphs">(</text><text x="2605" y="1368.4" font-size="28" class="f-serif" fill="#111" textLength="168.6" lengthAdjust="spacingAndGlyphs"><tspan font-style="italic">f</tspan>(<tspan font-style="italic" font-weight="bold">x</tspan><tspan font-style="italic" font-size="19.6" dy="4.2">j</tspan><tspan dy="-4.2">; </tspan><tspan font-style="italic">θ</tspan><tspan font-size="19.6" dy="-11.2">(</tspan><tspan font-style="italic" font-size="19.6">r</tspan><tspan font-size="19.6">)</tspan><tspan dy="11.2">), </tspan><tspan font-style="italic">y</tspan><tspan font-style="italic" font-size="19.6" dy="4.2">j</tspan></text><text x="2775.6" y="1376" font-size="50" class="f-cal" fill="#111" textLength="11.5" lengthAdjust="spacingAndGlyphs">)</text></svg>
<!-- sec_mid.designs -->
<div class="p" style='left:1497.5px;top:1457.08px;font-size:33px;line-height:40px;font-family:"DejaVu Sans", "Liberation Sans", sans-serif;color:#111;'>❖</div>
<div class="p" style='left:1543px;top:1456.94px;font-size:35px;line-height:41.89px;transform:scaleY(1.036);color:#111;font-style:italic;'>Design 1:&nbsp; In-context learning with<br>similarity-based prompt retrieval</div>
<div class="p" style='left:1497.5px;top:1583.28px;font-size:33px;line-height:40px;font-family:"DejaVu Sans", "Liberation Sans", sans-serif;color:#111;'>❖</div>
<div class="p" style='left:1543px;top:1582.84px;font-size:35px;line-height:42.47px;transform:scaleY(1.036);color:#111;font-style:italic;'>Design 2:&nbsp; Variable batch-size query</div>
<!-- sec_mid.algorithm -->
<svg class="fig algorithm" style="left:2200px;top:1445px" width="700" height="580" viewBox="2200 1445 700 580"><line x1="2209.5" y1="1456.3" x2="2884" y2="1456.3" stroke="#111" stroke-width="2.2" /><line x1="2209.5" y1="1499.7" x2="2884" y2="1499.7" stroke="#111" stroke-width="1.1" /><line x1="2209.5" y1="2014.7" x2="2884" y2="2014.7" stroke="#111" stroke-width="1.1" /><text x="2208.7" y="1485.9" font-size="29.5" class="f-serif" fill="#111" textLength="387.6" lengthAdjust="spacingAndGlyphs"><tspan font-weight="bold">Algorithm 1</tspan> <tspan class="f-mono" font-size="27.44">IMFL</tspan> framework</text><text x="2238.2" y="1531.8" font-size="28.5" class="f-serif" fill="#111" textLength="647.75" lengthAdjust="spacingAndGlyphs"><tspan font-weight="bold">Require</tspan>: unannotated data pool <tspan class="f-cal">𝒰</tspan>, target LM model <tspan font-style="italic">f</tspan>,</text><text x="2238.2" y="1564.4" font-size="28.5" class="f-serif" fill="#111" textLength="438.45" lengthAdjust="spacingAndGlyphs">query strategy <tspan class="f-cal">𝒮</tspan>, annotation budget <tspan class="f-cal">ℬ</tspan></text><text x="2238.2" y="1599.9" font-size="28.5" class="f-serif" fill="#111" textLength="461.41" lengthAdjust="spacingAndGlyphs"><tspan font-weight="bold">Initialization</tspan>: <tspan class="f-cal">𝒜</tspan> = ∅, <tspan font-style="italic">θ</tspan> = <tspan font-style="italic">θ</tspan><tspan font-size="19.95" dy="-10.83">(0)</tspan><tspan dy="10.83"> on </tspan><tspan class="f-cal">𝒜</tspan><tspan font-style="italic" font-size="19.95" dy="-10.26">0</tspan><tspan font-style="italic" font-size="19.95" dx="-10.26" dy="15.39">H</tspan><tspan dy="-5.13"> </tspan></text><text x="2238.2" y="1631.3" font-size="28.5" class="f-serif" fill="#111" textLength="308.36" lengthAdjust="spacingAndGlyphs"><tspan font-weight="bold">for</tspan> rounds <tspan font-style="italic">r</tspan> = 1, ..., <tspan font-style="italic">R</tspan> <tspan font-weight="bold">do</tspan></text><text x="2267.2" y="1663.8" font-size="28.5" class="f-serif" fill="#111" textLength="547.97" lengthAdjust="spacingAndGlyphs"><tspan class="f-cal">𝒰</tspan><tspan font-style="italic" font-size="19.95" dy="-10.26">r</tspan><tspan font-style="italic" font-size="19.95" dx="-7.98" dy="15.39">s</tspan><tspan dy="-5.13"> </tspan> ← Extract from <tspan class="f-cal">𝒰</tspan> by random sub-sampling</text><text x="2267.2" y="1695.6" font-size="28.5" class="f-serif" fill="#111" textLength="586.99" lengthAdjust="spacingAndGlyphs">[<tspan class="f-cal">𝒬</tspan><tspan font-style="italic" font-size="19.95" dy="-10.26">r</tspan><tspan font-style="italic" font-size="19.95" dx="-7.98" dy="15.39">H</tspan><tspan dy="-5.13"> </tspan>, <tspan class="f-cal">𝒬</tspan><tspan font-style="italic" font-size="19.95" dy="-10.26">r</tspan><tspan font-style="italic" font-size="19.95" dx="-7.98" dy="15.39">G</tspan><tspan dy="-5.13"> </tspan>] ← Acquire [<tspan class="f-cal">ℬ</tspan><tspan font-style="italic" font-size="19.95" dy="-10.26">r</tspan><tspan font-style="italic" font-size="19.95" dx="-7.98" dy="15.39">H</tspan><tspan dy="-5.13"> </tspan>, <tspan class="f-cal">ℬ</tspan><tspan font-style="italic" font-size="19.95" dy="-10.26">r</tspan><tspan font-style="italic" font-size="19.95" dx="-7.98" dy="15.39">G</tspan><tspan dy="-5.13"> </tspan>] samples by query</text><text x="2267.2" y="1727" font-size="28.5" class="f-serif" fill="#111" textLength="364.3" lengthAdjust="spacingAndGlyphs">function <tspan class="f-cal">𝒮</tspan> on model <tspan font-style="italic">f</tspan>, data <tspan class="f-cal">𝒰</tspan><tspan font-style="italic" font-size="19.95" dy="-10.26">r</tspan><tspan font-style="italic" font-size="19.95" dx="-7.98" dy="15.39">s</tspan><tspan dy="-5.13"> </tspan></text><text x="2267.2" y="1759.5" font-size="28.5" class="f-serif" fill="#111" textLength="577.43" lengthAdjust="spacingAndGlyphs"><tspan class="f-cal">𝒜</tspan><tspan font-style="italic" font-size="19.95" dy="-10.26">r</tspan><tspan font-style="italic" font-size="19.95" dx="-7.98" dy="15.39">H</tspan><tspan dy="-5.13"> </tspan> ← Annotate acquired samples <tspan class="f-cal">𝒬</tspan><tspan font-style="italic" font-size="19.95" dy="-10.26">r</tspan><tspan font-style="italic" font-size="19.95" dx="-7.98" dy="15.39">H</tspan><tspan dy="-5.13"> </tspan> by human</text><text x="2267.2" y="1791.3" font-size="28.5" class="f-serif" fill="#111" textLength="206.66" lengthAdjust="spacingAndGlyphs"><tspan class="f-cal">𝒜</tspan><tspan font-style="italic" font-size="19.95" dy="5.13">H</tspan><tspan dy="-5.13"> = </tspan><tspan class="f-cal">𝒜</tspan><tspan font-style="italic" font-size="19.95" dy="5.13">H</tspan><tspan dy="-5.13"> ∪ </tspan><tspan class="f-cal">𝒜</tspan><tspan font-style="italic" font-size="19.95" dy="-10.26">r</tspan><tspan font-style="italic" font-size="19.95" dx="-7.98" dy="15.39">H</tspan><tspan dy="-5.13"> </tspan></text><text x="2267.2" y="1823.8" font-size="28.5" class="f-serif" fill="#111" textLength="397.97" lengthAdjust="spacingAndGlyphs">Execute prompt retrieval from <tspan class="f-cal">𝒜</tspan><tspan font-style="italic" font-size="19.95" dy="5.13">H</tspan></text><text x="2267.2" y="1855.9" font-size="28.5" class="f-serif" fill="#111" textLength="566.33" lengthAdjust="spacingAndGlyphs"><tspan class="f-cal">𝒜</tspan><tspan font-style="italic" font-size="19.95" dy="-10.26">r</tspan><tspan font-style="italic" font-size="19.95" dx="-7.98" dy="15.39">G</tspan><tspan dy="-5.13"> </tspan> ← Annotate acquired samples <tspan class="f-cal">𝒬</tspan><tspan font-style="italic" font-size="19.95" dy="-10.26">r</tspan><tspan font-style="italic" font-size="19.95" dx="-7.98" dy="15.39">G</tspan><tspan dy="-5.13"> </tspan> by LLMs</text><text x="2267.2" y="1887.7" font-size="28.5" class="f-serif" fill="#111" textLength="196.71" lengthAdjust="spacingAndGlyphs"><tspan class="f-cal">𝒜</tspan><tspan font-style="italic" font-size="19.95" dy="-10.26">r</tspan><tspan dy="10.26"> = </tspan><tspan class="f-cal">𝒜</tspan><tspan font-style="italic" font-size="19.95" dy="-10.26">r</tspan><tspan font-style="italic" font-size="19.95" dx="-7.98" dy="15.39">H</tspan><tspan dy="-5.13"> </tspan> ∪ <tspan class="f-cal">𝒜</tspan><tspan font-style="italic" font-size="19.95" dy="-10.26">r</tspan><tspan font-style="italic" font-size="19.95" dx="-7.98" dy="15.39">G</tspan><tspan dy="-5.13"> </tspan></text><text x="2267.2" y="1919.4" font-size="28.5" class="f-serif" fill="#111" textLength="144.29" lengthAdjust="spacingAndGlyphs"><tspan class="f-cal">𝒰</tspan> = <tspan class="f-cal">𝒰</tspan> ∖ <tspan class="f-cal">𝒜</tspan><tspan font-style="italic" font-size="19.95" dy="-10.26">r</tspan></text><text x="2267.2" y="1956.6" font-size="28.5" class="f-serif" fill="#111" textLength="498.22" lengthAdjust="spacingAndGlyphs"><tspan font-style="italic">f</tspan>(<tspan font-style="italic" font-weight="bold">x</tspan><tspan font-style="italic" font-size="19.95" dy="4.27">i</tspan><tspan dy="-4.27">; </tspan><tspan font-style="italic">θ</tspan><tspan font-size="19.95" dy="-10.83">(</tspan><tspan font-style="italic" font-size="19.95">r</tspan><tspan font-size="19.95">)</tspan><tspan dy="10.83">) ← Fine-tune </tspan><tspan font-style="italic">f</tspan>(<tspan font-style="italic" font-weight="bold">x</tspan><tspan font-style="italic" font-size="19.95" dy="4.27">i</tspan><tspan dy="-4.27">; </tspan><tspan font-style="italic">θ</tspan><tspan font-size="19.95" dy="-10.83">(</tspan><tspan font-style="italic" font-size="19.95">r</tspan><tspan font-size="19.95">)</tspan><tspan dy="10.83">) on </tspan><tspan class="f-cal">𝒜</tspan><tspan font-style="italic" font-size="19.95" dy="-10.26">r</tspan></text><text x="2238.2" y="1993.7" font-size="28.5" class="f-serif" fill="#111" textLength="244.08" lengthAdjust="spacingAndGlyphs"><tspan font-weight="bold">return</tspan> <tspan font-style="italic">f</tspan>(<tspan font-style="italic" font-weight="bold">x</tspan>; <tspan font-style="italic">θ</tspan><tspan font-size="19.95" dy="-10.83">(</tspan><tspan font-style="italic" font-size="19.95">r</tspan><tspan font-size="19.95">)</tspan><tspan dy="10.83">), </tspan><tspan class="f-cal">𝒜</tspan></text></svg>
<!-- sec_batch.batchfig -->
<svg class="fig batch" style="left:1440px;top:1660px" width="780" height="420" viewBox="1440 1660 780 420"><g transform="translate(1440,1660) scale(0.33163)"><line x1="205" y1="1125" x2="205" y2="100" stroke="#9a9a9a" stroke-width="4.5" /><path d="M190 108L205 80L220 108Z" fill="#9a9a9a" /><line x1="128" y1="1070" x2="2235" y2="1070" stroke="#9a9a9a" stroke-width="4.5" /><path d="M2230 1055L2258 1070L2230 1085Z" fill="#9a9a9a" /><text x="165" y="650" font-size="75" fill="#111" text-anchor="middle" textLength="762" lengthAdjust="spacingAndGlyphs" transform="rotate(-90 165 650)">Annotation batch size</text><rect x="263" y="108" width="65" height="64" fill="#7daf4f" /><text x="345" y="163" font-size="67" fill="#111" textLength="720" lengthAdjust="spacingAndGlyphs">Human annotation pool</text><rect x="1352" y="108" width="63" height="64" fill="#f6e0d5" /><text x="1437" y="163" font-size="67" fill="#111" textLength="568" lengthAdjust="spacingAndGlyphs">Human annotation</text><rect x="1352" y="205" width="61" height="65" fill="#fdf1ce" /><text x="1432" y="262" font-size="67" fill="#111" textLength="478" lengthAdjust="spacingAndGlyphs">LLM annotation</text><rect x="543" y="475" width="288" height="180" fill="#f6e0d5" /><rect x="543" y="655" width="288" height="411" fill="#fdf1ce" /><g transform="translate(603,292) scale(0.31169) translate(-143,-65)"><path d="M143 575Q150 480 200 450L320 408Q350 470 415 473Q480 470 505 408L625 450Q675 480 682 575Z" fill="#a9541a" /><path d="M325 275Q320 230 345 210Q380 195 440 195Q480 185 500 172Q522 200 520 275Q545 265 545 290Q540 335 515 335Q490 410 415 420Q345 410 320 335Q290 335 285 290Q290 262 325 275Z" fill="#fff" stroke="#a9541a" stroke-width="11" stroke-linejoin="round"/><path d="M268 160Q330 70 410 65Q450 70 470 105Q540 110 555 190Q555 240 535 278L518 278Q525 200 500 168Q440 200 380 200Q330 215 327 280L300 278Q290 220 295 180Z" fill="#a9541a" /></g><use href="#knot" fill="#c49a26" transform="translate(605,776) scale(6.83333)"/><path d="M358 925V1035A92 38 0 0 0 542 1035V925Z" fill="#84af55" stroke="#5e8a35" stroke-width="4.5" /><ellipse cx="450" cy="925" rx="92" ry="38" fill="#b1ce94" stroke="#5e8a35" stroke-width="4.5"/><text x="258" y="708" font-size="68" fill="#7fab45" textLength="224" lengthAdjust="spacingAndGlyphs">Prompt</text><text x="258" y="793" font-size="68" fill="#7fab45" textLength="242" lengthAdjust="spacingAndGlyphs">retrieval</text><path d="M430 885Q460 817 523 825" fill="none" stroke="#7fab45" stroke-width="4.5" /><path d="M517 810L547 822L521 840Z" fill="#7fab45" /><text x="385" y="1185" font-size="72" fill="#111" textLength="327" lengthAdjust="spacingAndGlyphs">1<tspan font-size="46" dy="-26">st</tspan><tspan dy="26">  round</tspan></text><rect x="1186" y="566" width="288" height="89" fill="#f6e0d5" /><rect x="1186" y="655" width="288" height="411" fill="#fdf1ce" /><g transform="translate(1245,380) scale(0.31169) translate(-143,-65)"><path d="M143 575Q150 480 200 450L320 408Q350 470 415 473Q480 470 505 408L625 450Q675 480 682 575Z" fill="#a9541a" /><path d="M325 275Q320 230 345 210Q380 195 440 195Q480 185 500 172Q522 200 520 275Q545 265 545 290Q540 335 515 335Q490 410 415 420Q345 410 320 335Q290 335 285 290Q290 262 325 275Z" fill="#fff" stroke="#a9541a" stroke-width="11" stroke-linejoin="round"/><path d="M268 160Q330 70 410 65Q450 70 470 105Q540 110 555 190Q555 240 535 278L518 278Q525 200 500 168Q440 200 380 200Q330 215 327 280L300 278Q290 220 295 180Z" fill="#a9541a" /></g><use href="#knot" fill="#c49a26" transform="translate(1248,783) scale(6.83333)"/><path d="M998 838V1035A92 38 0 0 0 1182 1035V838Z" fill="#84af55" stroke="#5e8a35" stroke-width="4.5" /><ellipse cx="1090" cy="838" rx="92" ry="38" fill="#b1ce94" stroke="#5e8a35" stroke-width="4.5"/><text x="875" y="628" font-size="68" fill="#7fab45" textLength="224" lengthAdjust="spacingAndGlyphs">Prompt</text><text x="875" y="713" font-size="68" fill="#7fab45" textLength="242" lengthAdjust="spacingAndGlyphs">retrieval</text><path d="M1070 797Q1100 735 1161 743" fill="none" stroke="#7fab45" stroke-width="4.5" /><path d="M1155 728L1185 740L1159 758Z" fill="#7fab45" /><text x="1010" y="1185" font-size="72" fill="#111" textLength="350" lengthAdjust="spacingAndGlyphs">2<tspan font-size="46" dy="-26">nd</tspan><tspan dy="26">  round</tspan></text><rect x="1834" y="626" width="288" height="47" fill="#f6e0d5" /><rect x="1834" y="673" width="288" height="393" fill="#fdf1ce" /><g transform="translate(1891,440) scale(0.31169) translate(-143,-65)"><path d="M143 575Q150 480 200 450L320 408Q350 470 415 473Q480 470 505 408L625 450Q675 480 682 575Z" fill="#a9541a" /><path d="M325 275Q320 230 345 210Q380 195 440 195Q480 185 500 172Q522 200 520 275Q545 265 545 290Q540 335 515 335Q490 410 415 420Q345 410 320 335Q290 335 285 290Q290 262 325 275Z" fill="#fff" stroke="#a9541a" stroke-width="11" stroke-linejoin="round"/><path d="M268 160Q330 70 410 65Q450 70 470 105Q540 110 555 190Q555 240 535 278L518 278Q525 200 500 168Q440 200 380 200Q330 215 327 280L300 278Q290 220 295 180Z" fill="#a9541a" /></g><use href="#knot" fill="#c49a26" transform="translate(1900,791) scale(6.83333)"/><path d="M1650 793V1035A92 38 0 0 0 1834 1035V793Z" fill="#84af55" stroke="#5e8a35" stroke-width="4.5" /><ellipse cx="1742" cy="793" rx="92" ry="38" fill="#b1ce94" stroke="#5e8a35" stroke-width="4.5"/><text x="1558" y="603" font-size="68" fill="#7fab45" textLength="224" lengthAdjust="spacingAndGlyphs">Prompt</text><text x="1558" y="688" font-size="68" fill="#7fab45" textLength="242" lengthAdjust="spacingAndGlyphs">retrieval</text><path d="M1745 752Q1775 710 1813 718" fill="none" stroke="#7fab45" stroke-width="4.5" /><path d="M1807 703L1837 715L1811 733Z" fill="#7fab45" /><text x="1660" y="1185" font-size="72" fill="#111" textLength="340" lengthAdjust="spacingAndGlyphs">3<tspan font-size="46" dy="-26">rd</tspan><tspan dy="26">  round</tspan></text><text x="2148" y="895" font-size="60" fill="#111" textLength="52" lengthAdjust="spacingAndGlyphs">...</text><text x="2148" y="1175" font-size="60" fill="#111" textLength="52" lengthAdjust="spacingAndGlyphs">...</text></g></svg>
<!-- sec_eeq.eeqtext -->
<div class="p" style='left:1441.5px;top:2316.39px;font-size:35px;line-height:48.36px;transform:scaleY(1.036);color:#111;'>EEQ harnesses human annotation for <b><i>exploitation</i></b> by maximizing informativeness through<br>uncertainty sampling, and LLM annotation for <b><i>exploration</i></b> by enhancing representativeness<br>through diversity sampling --- <i>two-stage selection</i></div>
<!-- sec_eeq.eeqformula -->
<svg class="fig eeqformula" style="left:2230px;top:2415px" width="680" height="90" viewBox="2230 2415 680 90"><text x="2242" y="2463.9" font-size="36.4" class="f-serif" fill="#111"><tspan font-style="italic" font-weight="bold">x</tspan><tspan font-size="25.48" dy="-13.1">∗</tspan><tspan font-style="italic" font-size="25.48" dx="-12.01" dy="20.38">i</tspan></text><text x="2291.5" y="2463.9" font-size="36.4" class="f-serif" fill="#111" textLength="26" lengthAdjust="spacingAndGlyphs">=</text><text x="2327.4" y="2463.9" font-size="36.4" class="f-serif" fill="#111" textLength="117.6" lengthAdjust="spacingAndGlyphs">arg max</text><text x="2373" y="2493.8" font-size="27" class="f-serif" fill="#111" textLength="25.4" lengthAdjust="spacingAndGlyphs"><tspan font-style="italic" font-weight="bold">x</tspan><tspan font-style="italic" font-size="20.25" dy="4.86">i</tspan></text><text x="2459.6" y="2476" font-size="66" class="f-cal" fill="#111" textLength="10.5" lengthAdjust="spacingAndGlyphs">[</text><text x="2470.9" y="2463.9" font-size="36.4" class="f-serif" fill="#111" textLength="388.4" lengthAdjust="spacingAndGlyphs">1 − <tspan font-style="italic">p</tspan>(<tspan font-style="italic">f</tspan>(<tspan font-style="italic" font-weight="bold">x</tspan><tspan font-style="italic" font-size="25.48" dy="5.46">i</tspan><tspan dy="-5.46">; </tspan><tspan font-style="italic">θ</tspan><tspan font-size="25.48" dy="-14.56">(</tspan><tspan font-style="italic" font-size="25.48">r</tspan><tspan font-size="25.48">)</tspan><tspan dy="14.56">) | </tspan><tspan font-style="italic" font-weight="bold">x</tspan><tspan font-style="italic" font-size="25.48" dy="5.46">i</tspan><tspan dy="-5.46">; </tspan><tspan font-style="italic">θ</tspan><tspan font-size="25.48" dy="-14.56">(</tspan><tspan font-style="italic" font-size="25.48">r</tspan><tspan font-size="25.48">)</tspan><tspan dy="14.56">)</tspan></text><text x="2863.4" y="2476" font-size="66" class="f-cal" fill="#111" textLength="10.5" lengthAdjust="spacingAndGlyphs">]</text></svg>
<!-- sec_eeq.eeqfig -->
<svg class="fig eeqfig" style="left:1410px;top:2495px" width="1480" height="285" viewBox="1410 2495 1480 285"><defs><g id="clusters" fill="none" stroke-width="3.6" stroke-linecap="round" opacity=".5"><path d="M94 105h0M141 93h0M92 99h0M130 115h0M94 82h0M135 106h0M152 113h0M118 96h0M174 96h0M103 84h0M122 102h0M113 99h0M126 109h0M143 103h0M82 110h0M90 98h0M89 100h0M104 103h0M190 99h0M138 82h0M114 109h0M118 105h0M122 86h0M132 89h0M159 93h0M134 100h0M140 92h0M141 98h0M147 109h0M123 89h0M136 106h0M155 95h0M132 107h0M126 103h0M124 92h0M99 95h0M132 121h0M141 114h0M136 110h0M124 111h0M157 96h0M105 127h0M125 113h0M138 85h0M171 124h0M124 110h0M123 88h0M118 105h0M144 110h0M121 118h0M104 111h0M143 96h0M82 88h0M125 107h0M153 86h0M120 109h0M117 68h0M137 132h0M141 87h0M111 103h0M172 108h0M122 121h0M118 125h0M106 94h0M135 119h0M134 104h0M82 90h0M107 93h0M132 95h0M137 101h0M113 102h0M129 112h0M110 97h0M91 122h0M151 98h0M110 83h0M124 103h0M166 103h0M104 67h0M150 103h0M86 102h0M86 147h0M144 108h0M116 71h0M117 79h0M133 71h0M101 117h0M155 84h0M88 112h0M138 87h0M105 91h0M95 91h0M146 109h0M163 99h0M117 87h0M117 82h0M83 110h0M150 111h0M148 103h0M105 101h0M112 85h0M84 80h0M120 102h0M110 119h0M124 108h0M146 89h0M78 110h0M105 118h0M127 114h0M136 72h0M135 91h0M104 94h0M136 112h0M141 77h0M108 68h0M118 108h0M104 103h0M125 114h0M103 89h0M104 124h0M143 98h0M125 102h0M124 97h0M113 83h0M106 123h0M131 101h0M115 101h0M127 91h0M124 103h0M104 89h0M99 85h0M139 68h0M114 92h0M107 101h0M144 101h0M117 92h0M117 112h0M112 84h0M93 85h0M91 115h0M127 97h0M151 91h0M136 111h0M87 79h0M100 112h0M147 83h0M142 95h0M112 92h0M113 75h0M99 83h0M130 128h0M178 95h0M84 94h0M100 127h0M132 90h0M140 107h0M86 93h0M115 100h0M123 95h0M124 92h0M101 121h0M128 106h0M86 98h0M137 82h0M143 95h0M128 98h0M125 116h0M111 121h0M104 87h0M135 85h0M112 112h0M146 76h0M131 126h0M145 97h0M107 96h0M96 96h0M116 98h0M145 97h0M89 114h0M97 94h0M117 95h0M99 97h0M166 92h0M117 115h0M136 110h0M138 73h0M102 102h0M131 118h0M130 97h0M121 97h0M125 109h0M113 89h0M102 115h0M147 114h0M138 111h0M120 109h0M156 90h0M163 99h0M166 91h0M186 105h0M161 83h0M195 81h0M188 86h0M176 74h0M193 87h0M159 113h0M193 127h0M187 89h0M180 108h0M177 96h0M189 83h0M181 87h0M152 101h0M192 93h0M159 72h0M188 91h0M143 91h0M146 92h0M181 96h0M183 94h0M154 88h0M167 90h0M184 98h0M212 67h0M186 90h0M226 101h0M143 96h0M167 102h0M156 91h0M175 91h0M166 74h0M188 102h0M177 82h0M182 98h0M174 92h0M208 81h0M166 73h0M163 85h0M158 85h0M216 90h0M176 114h0M177 75h0M186 83h0M213 80h0M166 76h0M180 82h0M177 88h0M165 101h0M198 93h0M159 81h0M184 116h0M168 84h0M163 81h0M158 90h0M208 92h0M167 76h0M182 92h0M152 81h0M177 102h0M191 94h0M171 95h0M178 114h0M154 88h0M205 89h0M208 92h0M181 88h0M149 82h0M225 98h0M191 101h0M190 102h0M172 90h0M199 89h0M150 90h0M167 98h0M163 81h0M171 107h0M177 94h0M178 95h0M198 106h0M143 106h0M178 89h0M229 90h0M219 102h0M156 97h0M194 91h0M129 89h0M174 81h0M216 90h0M170 89h0M161 84h0M180 95h0M167 91h0M149 97h0M162 94h0M159 87h0M183 80h0M230 92h0M176 85h0M212 106h0M184 78h0M167 98h0M167 80h0M153 84h0M178 86h0M178 120h0M215 82h0M185 93h0M175 102h0M171 89h0M170 91h0M205 100h0M150 88h0M161 100h0M183 101h0M177 73h0M188 94h0M189 79h0M180 85h0M164 96h0M185 83h0M142 67h0M166 103h0M177 70h0M160 96h0M213 104h0M186 94h0M156 88h0M171 84h0M179 88h0M185 106h0M194 96h0M173 77h0M176 97h0M157 104h0M171 96h0M171 80h0M222 80h0M197 86h0M184 84h0M169 101h0M219 84h0M178 101h0M165 99h0M161 98h0M187 104h0M186 80h0M166 134h0M168 172h0M164 142h0M178 152h0M121 145h0M183 145h0M153 145h0M110 142h0M158 153h0M146 118h0M179 161h0M174 169h0M140 141h0M157 175h0M110 147h0M133 158h0M185 146h0M121 151h0M143 127h0M171 142h0M166 130h0M176 129h0M175 123h0M183 144h0M113 147h0M158 135h0M138 154h0M146 104h0M140 156h0M157 165h0M134 188h0M169 155h0M176 164h0M152 141h0M174 156h0M105 134h0M161 152h0M157 160h0M153 174h0M136 144h0M158 161h0M169 172h0M139 167h0M161 134h0M147 181h0M169 143h0M93 139h0M133 151h0M204 161h0M157 136h0M122 147h0M139 195h0M140 141h0M177 151h0M121 169h0M143 130h0M158 157h0M142 160h0M169 137h0M102 114h0M147 168h0M174 171h0M194 150h0M175 127h0M166 156h0M148 143h0M124 152h0M180 145h0M163 140h0M156 135h0M159 147h0M157 141h0M122 145h0M174 173h0M142 162h0M168 156h0M113 155h0M127 168h0M169 159h0M90 159h0M166 131h0M173 151h0M146 139h0M126 144h0M223 153h0M155 140h0M135 142h0M129 163h0M144 163h0M123 164h0M149 160h0M148 137h0M179 144h0M147 137h0M155 144h0M157 155h0M134 129h0M160 164h0M166 133h0M164 156h0M157 156h0M142 153h0M172 142h0M116 148h0M155 123h0M134 159h0M146 151h0M120 163h0M191 147h0M133 133h0M171 152h0M131 168h0M168 159h0M109 148h0M165 132h0M172 171h0M174 139h0M133 164h0M173 168h0M178 149h0M140 122h0M168 184h0M139 143h0M165 156h0M118 139h0M124 180h0M133 163h0M195 178h0M184 174h0M121 145h0M133 146h0M212 125h0M163 132h0M182 169h0M138 181h0M152 169h0M157 142h0M141 148h0M165 152h0M206 147h0M139 139h0M132 129h0M127 163h0M151 147h0M158 166h0M165 162h0M137 146h0M132 149h0M131 144h0M146 147h0M144 143h0M181 145h0M126 153h0M124 134h0M152 125h0M74 154h0M174 125h0M129 159h0M103 137h0M122 147h0M104 163h0M147 155h0M142 118h0M146 130h0M150 137h0M143 147h0M168 161h0M126 150h0M184 157h0M133 148h0M142 164h0M151 156h0M202 129h0M126 124h0M112 163h0M157 174h0M103 137h0M184 165h0M171 163h0M151 150h0M151 163h0M146 155h0M184 133h0M132 158h0M144 148h0M199 156h0M140 166h0M209 133h0M134 152h0M135 182h0M162 144h0M162 138h0M136 152h0M206 117h0M160 170h0M167 179h0M161 152h0M147 137h0M189 132h0M147 142h0M132 117h0M141 152h0M153 163h0M146 140h0M157 160h0M129 127h0M126 166h0M174 137h0M153 162h0M181 140h0M144 171h0M207 173h0M123 157h0M143 149h0M134 143h0M150 177h0M166 156h0M151 139h0M145 168h0M170 179h0M156 150h0M112 156h0M109 173h0M135 150h0M118 143h0M128 167h0M156 132h0M105 149h0M139 133h0M164 147h0M153 141h0M137 143h0M91 152h0M108 108h0M106 161h0M107 164h0M103 140h0M94 123h0M89 123h0M107 150h0M115 142h0M96 148h0M104 173h0M122 158h0M95 130h0M107 127h0M110 153h0M112 144h0M97 124h0M104 165h0M119 158h0M108 153h0M112 164h0M112 111h0M113 147h0M101 150h0M108 139h0M90 142h0M110 139h0M91 149h0M111 143h0M109 133h0M99 150h0M102 143h0M133 153h0M106 110h0M106 154h0M99 136h0M85 150h0M100 153h0M117 137h0M114 145h0M103 135h0M98 164h0M113 121h0M112 126h0M92 162h0M94 162h0M107 157h0M109 161h0M108 151h0M107 160h0M102 159h0M118 139h0M109 130h0M102 145h0M102 124h0M105 144h0M108 153h0M90 166h0M104 126h0M102 148h0M113 133h0M106 110h0M106 138h0M101 156h0M121 159h0M98 168h0M102 139h0M100 148h0M110 143h0M103 137h0M102 158h0M100 137h0M103 126h0M103 113h0M109 150h0M102 169h0M98 150h0M109 130h0M103 157h0M106 145h0M117 144h0M91 126h0M112 138h0M96 103h0M108 168h0M94 100h0M109 130h0M102 134h0M97 148h0M113 147h0M100 159h0M104 151h0M97 152h0M111 164h0M105 148h0M100 156h0M112 160h0M102 117h0M104 136h0M99 151h0M113 147h0M115 147h0M97 129h0M102 153h0M113 143h0M114 125h0M104 168h0M109 159h0M89 109h0M98 159h0M119 129h0M97 121h0M97 150h0M102 175h0M111 127h0M107 137h0M112 157h0M102 156h0M110 138h0M107 153h0M102 128h0M116 140h0M100 149h0" stroke="#c24a5a"/><path d="M273 63h0M275 56h0M266 52h0M325 59h0M278 87h0M291 84h0M294 41h0M346 56h0M322 79h0M276 63h0M293 71h0M305 44h0M306 73h0M299 70h0M293 61h0M313 64h0M333 76h0M324 73h0M309 45h0M328 87h0M310 58h0M304 80h0M311 48h0M301 51h0M301 49h0M286 84h0M328 39h0M284 56h0M297 42h0M325 39h0M320 72h0M297 53h0M306 64h0M259 44h0M317 61h0M296 48h0M290 51h0M366 44h0M339 69h0M310 65h0M297 86h0M316 62h0M303 65h0M280 57h0M292 71h0M318 35h0M300 77h0M277 45h0M327 60h0M295 44h0M309 54h0M310 68h0M321 57h0M294 63h0M303 65h0M294 59h0M292 54h0M309 79h0M293 71h0M313 64h0M320 54h0M317 66h0M229 67h0M318 91h0M282 64h0M313 48h0M331 69h0M288 45h0M296 97h0M352 26h0M265 72h0M303 53h0M318 64h0M311 66h0M281 81h0M295 79h0M320 63h0M308 61h0M265 57h0M315 39h0M273 78h0M323 40h0M315 61h0M327 57h0M300 51h0M309 60h0M291 57h0M289 71h0M283 39h0M284 78h0M294 72h0M321 55h0M322 69h0M304 52h0M304 43h0M299 54h0M315 67h0M291 75h0M331 63h0M289 69h0M251 54h0M318 91h0M289 84h0M356 90h0M253 78h0M309 77h0M301 53h0M300 84h0M324 58h0M314 75h0M318 61h0M291 51h0M295 54h0M270 41h0M324 46h0M276 61h0M337 81h0M296 47h0M293 49h0M293 69h0M282 51h0M299 62h0M288 50h0M280 51h0M317 58h0M236 71h0M304 49h0M299 17h0M268 79h0M352 94h0M289 63h0M322 44h0M344 51h0M313 45h0M313 62h0M329 45h0M305 89h0M278 67h0M315 55h0M299 83h0M330 70h0M311 45h0M307 89h0M328 42h0M259 52h0M309 54h0M298 67h0M325 65h0M333 41h0M315 68h0M272 81h0M269 40h0M365 81h0M313 82h0M331 45h0M316 83h0M301 63h0M295 73h0M293 53h0M278 48h0M310 69h0M296 46h0M313 67h0M334 55h0M296 70h0M339 61h0M303 48h0M297 76h0M324 79h0M268 75h0M284 71h0M252 61h0M285 81h0M308 81h0M295 91h0M295 90h0M294 47h0M325 56h0M304 42h0M297 64h0M289 68h0M253 75h0M296 84h0M297 52h0M295 66h0M318 55h0M287 69h0M324 36h0M281 52h0M344 81h0M323 69h0M280 79h0M295 50h0M349 40h0M336 65h0M284 65h0M286 65h0M290 44h0M365 54h0M327 61h0M320 43h0M282 13h0M328 69h0M278 75h0M318 106h0M310 76h0M319 74h0M305 56h0M321 81h0M279 45h0M304 89h0M300 36h0M323 73h0M349 65h0M350 51h0M326 64h0M278 58h0M335 79h0M297 79h0M325 76h0M312 67h0M286 61h0M363 75h0M354 84h0M365 93h0M338 78h0M366 78h0M367 77h0M385 80h0M336 90h0M396 63h0M357 83h0M382 97h0M357 66h0M374 92h0M370 83h0M343 107h0M335 67h0M381 85h0M374 86h0M396 96h0M348 92h0M335 65h0M386 78h0M314 82h0M346 87h0M359 74h0M345 90h0M340 83h0M339 87h0M398 88h0M384 87h0M340 79h0M362 86h0M347 88h0M345 83h0M360 71h0M382 83h0M362 82h0M315 68h0M341 92h0M348 88h0M338 74h0M350 93h0M325 80h0M369 83h0M360 90h0M366 72h0M374 74h0M353 97h0M412 97h0M369 74h0M344 99h0M367 68h0M394 88h0M388 86h0M314 75h0M357 80h0M392 75h0M358 81h0M358 72h0M334 56h0M367 80h0M364 72h0M360 72h0M339 85h0M374 88h0M359 78h0M390 95h0M347 71h0M368 85h0M341 105h0M316 74h0M365 92h0M321 78h0M391 96h0M355 82h0M341 86h0M338 62h0M328 83h0M332 93h0M387 92h0M374 93h0M366 91h0M370 90h0M339 75h0M339 90h0M371 74h0M339 76h0M379 81h0M355 75h0M358 98h0M346 79h0M396 89h0M336 93h0M333 88h0M306 72h0M380 76h0M345 83h0M360 77h0M346 100h0M392 85h0M336 77h0M354 87h0M394 77h0M363 78h0M363 75h0M368 94h0M352 79h0M363 69h0M399 69h0M353 73h0M392 77h0M349 101h0M358 74h0M360 84h0M344 80h0M356 89h0M376 90h0M358 90h0M356 94h0M369 78h0M386 67h0M340 74h0M357 70h0M335 63h0M363 74h0M407 90h0M336 95h0M362 93h0M337 94h0M383 78h0M342 78h0M366 106h0M399 97h0M356 79h0M368 79h0M350 80h0M378 81h0M365 79h0M356 79h0M387 84h0M392 80h0M383 68h0M352 81h0M347 81h0M341 80h0M346 82h0M354 72h0M351 82h0M333 83h0M387 80h0M340 100h0M315 107h0M377 86h0M370 89h0M357 79h0M351 96h0M306 88h0M311 87h0M337 93h0M283 92h0M339 96h0M362 79h0M335 95h0M344 83h0M306 94h0M332 79h0M337 95h0M344 72h0M340 87h0M321 102h0M362 96h0M328 106h0M313 94h0M321 86h0M334 113h0M335 99h0M330 105h0M334 87h0M332 108h0M329 106h0M329 113h0M335 101h0M325 102h0M326 82h0M336 85h0M358 102h0M330 101h0M282 108h0M318 101h0M378 81h0M322 98h0M338 80h0M313 108h0M319 100h0M305 87h0M296 97h0M352 96h0M325 97h0M339 93h0M341 112h0M372 90h0M307 112h0M349 106h0M341 93h0M348 105h0M352 86h0M349 92h0M323 98h0M324 115h0M341 97h0M327 97h0M326 100h0M346 102h0M307 92h0M332 84h0M337 94h0M331 98h0M319 109h0M350 90h0M339 102h0M316 92h0M343 73h0M306 98h0M342 87h0M346 114h0M334 95h0M332 86h0M341 97h0M344 108h0M331 97h0M336 110h0M303 95h0M318 96h0M346 96h0M344 97h0M317 89h0M304 97h0M323 102h0M348 87h0M310 100h0M314 97h0M342 92h0M364 88h0M338 92h0M276 94h0M327 100h0M328 89h0M321 92h0M344 93h0M353 103h0M316 104h0M288 95h0M312 94h0M352 95h0M327 106h0M316 88h0M348 100h0M304 96h0M345 94h0M323 96h0M334 89h0M346 81h0M329 114h0M310 95h0M288 88h0M309 96h0M321 111h0M313 95h0M334 101h0M347 81h0M371 92h0M317 81h0M322 80h0" stroke="#8a72b8"/><path d="M232 165h0M235 163h0M230 197h0M252 174h0M209 188h0M194 156h0M254 165h0M255 179h0M272 192h0M240 165h0M240 188h0M231 140h0M221 168h0M227 168h0M251 158h0M237 150h0M185 161h0M213 162h0M214 179h0M240 173h0M232 164h0M208 156h0M220 159h0M222 180h0M239 187h0M210 147h0M206 194h0M242 167h0M254 167h0M261 168h0M220 180h0M205 170h0M267 177h0M206 169h0M227 164h0M236 186h0M229 182h0M234 174h0M213 183h0M255 167h0M211 178h0M230 185h0M238 171h0M200 179h0M230 158h0M198 152h0M240 167h0M162 162h0M215 171h0M229 168h0M243 183h0M224 190h0M225 162h0M231 156h0M222 160h0M219 174h0M179 176h0M233 170h0M242 176h0M221 161h0M243 180h0M199 164h0M204 181h0M217 158h0M258 177h0M233 175h0M224 172h0M246 177h0M219 173h0M265 166h0M202 173h0M205 201h0M240 179h0M235 194h0M208 171h0M195 186h0M226 192h0M222 160h0M214 181h0M211 175h0M213 164h0M217 190h0M206 176h0M244 164h0M198 189h0M262 169h0M204 182h0M227 163h0M220 145h0M212 158h0M201 178h0M233 191h0M174 164h0M211 187h0M248 173h0M230 163h0M217 167h0M177 193h0M242 195h0M252 177h0M244 153h0M207 181h0M220 154h0M227 157h0M228 189h0M205 167h0M239 172h0M231 162h0M221 145h0M224 186h0M205 170h0M242 186h0M251 162h0M219 192h0M218 175h0M211 164h0M168 166h0M183 160h0M208 187h0M243 176h0M217 156h0M237 162h0M225 182h0M224 171h0M208 184h0M238 180h0M260 153h0M228 179h0M234 175h0M237 154h0M226 185h0M226 169h0M244 152h0M235 189h0M222 162h0M238 167h0M211 174h0M194 179h0M203 165h0M242 171h0M233 187h0M258 195h0M216 182h0M194 181h0M254 163h0M237 181h0M224 165h0M258 157h0M231 183h0M232 190h0M257 177h0M263 180h0M203 168h0M233 174h0M193 198h0M196 159h0M236 174h0M258 174h0M298 176h0M279 145h0M283 180h0M287 184h0M282 176h0M292 177h0M292 168h0M283 184h0M291 172h0M303 151h0M277 164h0M314 149h0M274 150h0M285 149h0M277 173h0M272 165h0M271 162h0M301 134h0M293 168h0M291 169h0M299 145h0M289 174h0M314 144h0M281 144h0M291 149h0M274 176h0M331 134h0M321 151h0M304 170h0M313 162h0M277 164h0M306 151h0M299 165h0M295 165h0M302 177h0M287 159h0M254 152h0M265 175h0M273 154h0M301 180h0M313 152h0M296 181h0M277 161h0M270 155h0M304 166h0M285 156h0M318 176h0M270 197h0M285 163h0M283 156h0M303 143h0M292 160h0M322 171h0M299 173h0M302 167h0M249 171h0M286 175h0M297 157h0M276 150h0M297 163h0M276 159h0M298 155h0M290 156h0M246 166h0M293 177h0M315 154h0M302 169h0M293 177h0M307 146h0M318 162h0M280 154h0M288 148h0M311 171h0M276 177h0M296 166h0M309 163h0M287 172h0M260 147h0M301 181h0M262 165h0M280 161h0M302 187h0M323 179h0M303 167h0M259 171h0M271 148h0M294 141h0M323 174h0M298 172h0M296 166h0M304 155h0M297 167h0M305 148h0M296 163h0M303 173h0M295 172h0M300 185h0M297 173h0M276 162h0M305 181h0M275 164h0M287 166h0M283 159h0M291 167h0M310 152h0M275 177h0M301 162h0M272 181h0M273 182h0M296 163h0M289 177h0M292 139h0M280 133h0M299 179h0M310 145h0M329 192h0M290 135h0M277 180h0M328 157h0M260 150h0M325 165h0M267 134h0M303 177h0M284 162h0M293 160h0M282 156h0M282 183h0M299 180h0M324 131h0M291 179h0M288 156h0M299 157h0M277 160h0M293 165h0M307 165h0M284 210h0M288 161h0M289 154h0M264 168h0M317 138h0M279 171h0M280 173h0M291 148h0M288 157h0M301 127h0M299 185h0M294 168h0M283 170h0M289 146h0M271 130h0M299 167h0M311 169h0M304 145h0M259 156h0M286 170h0M290 162h0M293 169h0M295 170h0M283 163h0M266 148h0M287 171h0M279 144h0M308 152h0M262 150h0M271 129h0M285 190h0M279 153h0M312 166h0M290 185h0M271 164h0M301 168h0M271 151h0M323 163h0M287 181h0M261 164h0M261 186h0M275 167h0M276 167h0M297 165h0M254 200h0M256 194h0M277 205h0M230 189h0M243 200h0M229 211h0M263 199h0M282 191h0M271 201h0M292 189h0M294 203h0M268 207h0M256 196h0M282 195h0M287 210h0M267 200h0M247 190h0M296 189h0M264 201h0M241 192h0M245 216h0M271 210h0M310 207h0M293 194h0M246 211h0M296 189h0M289 201h0M281 206h0M307 193h0M262 209h0M256 203h0M260 183h0M249 206h0M249 185h0M250 199h0M274 201h0M275 189h0M248 191h0M252 202h0M294 196h0M287 208h0M235 191h0M266 186h0M306 182h0M234 205h0M245 204h0M239 207h0M249 204h0M286 185h0M242 183h0M236 206h0M262 206h0M296 207h0M280 195h0M254 201h0M283 208h0M270 196h0M261 213h0M269 216h0M246 206h0M268 205h0M245 201h0M261 196h0M235 186h0M255 203h0M269 200h0M270 187h0M288 199h0M245 194h0M286 200h0M224 216h0M228 213h0M283 190h0M292 209h0M287 204h0M271 200h0M250 201h0M293 197h0M309 185h0M264 186h0M222 201h0M255 194h0M238 196h0M225 197h0M251 188h0M273 182h0M273 201h0M275 199h0M282 196h0M238 202h0M244 195h0M266 190h0M286 185h0M292 198h0M303 208h0M279 201h0M266 186h0M250 190h0M246 197h0M244 200h0M257 194h0M272 202h0M232 196h0M332 198h0M274 191h0M286 212h0M277 197h0M264 182h0M277 196h0M272 202h0M268 217h0M285 193h0M277 204h0M264 211h0M254 183h0M238 202h0M240 200h0M228 202h0M257 191h0M250 196h0M284 200h0M258 200h0M284 202h0M304 192h0M282 199h0M248 204h0M283 207h0M274 191h0M267 202h0M302 199h0M267 212h0M264 194h0M270 205h0M267 184h0M254 207h0M246 206h0M267 191h0M282 180h0M214 185h0M275 196h0M278 198h0M266 194h0M254 207h0M281 187h0M276 216h0M281 190h0M280 200h0M256 207h0" stroke="#8e2157"/><path d="M413 156h0M389 159h0M386 195h0M376 176h0M392 167h0M361 177h0M362 179h0M384 168h0M376 150h0M363 166h0M384 171h0M380 180h0M389 168h0M381 165h0M400 153h0M359 173h0M395 166h0M391 142h0M365 166h0M385 143h0M396 131h0M413 146h0M374 147h0M356 160h0M344 160h0M390 160h0M385 139h0M345 141h0M409 171h0M346 197h0M400 186h0M408 190h0M349 167h0M369 201h0M401 166h0M380 127h0M388 150h0M416 179h0M384 158h0M410 156h0M410 169h0M379 172h0M424 136h0M402 179h0M380 192h0M401 176h0M364 176h0M357 175h0M433 149h0M420 146h0M387 179h0M354 172h0M369 154h0M404 164h0M395 166h0M394 194h0M389 160h0M386 179h0M396 126h0M384 174h0M443 155h0M380 144h0M384 133h0M367 164h0M353 161h0M371 189h0M421 204h0M389 178h0M438 154h0M423 149h0M409 137h0M377 162h0M380 130h0M388 160h0M419 176h0M338 168h0M409 164h0M370 140h0M378 148h0M380 160h0M414 147h0M393 145h0M392 185h0M373 144h0M386 166h0M372 173h0M387 178h0M355 179h0M414 150h0M430 170h0M357 146h0M369 154h0M380 171h0M381 160h0M364 128h0M370 143h0M405 121h0M411 113h0M381 166h0M361 148h0M405 146h0M384 166h0M400 142h0M415 163h0M408 139h0M410 164h0M403 154h0M405 166h0M344 212h0M371 174h0M381 157h0M377 183h0M406 183h0M349 181h0M352 208h0M394 187h0M386 168h0M370 202h0M378 186h0M368 163h0M377 164h0M374 177h0M400 136h0M376 141h0M410 142h0M396 168h0M384 129h0M423 163h0M401 185h0M363 147h0M424 202h0M367 164h0M407 163h0M415 177h0M384 178h0M375 189h0M371 190h0M442 133h0M424 138h0M384 200h0M410 178h0M394 169h0M396 162h0M379 143h0M425 165h0M428 179h0M396 145h0M380 166h0M383 160h0M335 158h0M380 157h0M379 137h0M367 193h0M365 156h0M367 163h0M374 203h0M363 191h0M375 174h0M442 165h0M386 112h0M378 161h0M389 170h0M361 148h0M403 161h0M387 178h0M388 169h0M362 166h0M348 199h0M369 197h0M375 163h0M415 170h0M390 161h0M380 152h0M369 133h0M383 151h0M417 205h0M429 144h0M378 163h0M352 195h0M402 171h0M429 175h0M379 171h0M376 175h0M357 175h0M380 158h0M378 164h0M347 177h0M382 199h0M386 184h0M386 163h0M359 157h0M373 121h0M380 153h0M393 185h0M379 188h0M414 180h0M379 168h0M423 195h0M412 134h0M335 199h0M402 191h0M399 160h0M397 165h0M420 182h0M365 152h0M409 183h0M393 173h0M358 150h0M398 132h0M397 177h0M401 182h0M429 172h0M368 134h0M336 168h0M406 135h0M390 153h0M381 170h0M387 144h0M403 164h0M344 181h0M422 159h0M422 137h0M381 191h0M416 176h0M410 159h0M403 184h0M408 173h0M405 174h0M400 137h0M400 149h0M378 167h0M392 142h0M375 171h0M377 167h0M392 170h0M374 170h0M399 142h0M404 147h0M395 178h0M401 144h0M366 144h0M399 169h0M346 180h0M413 156h0M385 171h0M364 158h0M399 160h0M386 168h0M425 171h0M394 157h0M414 167h0M386 191h0M416 149h0M379 190h0M376 195h0M383 202h0M365 130h0M354 203h0M370 158h0M373 152h0M390 168h0M372 156h0M416 184h0M408 189h0M382 182h0M423 151h0M417 120h0M343 139h0M364 148h0M375 181h0M360 204h0M350 191h0M370 200h0M388 210h0M341 217h0M352 204h0M355 199h0M362 195h0M360 205h0M385 216h0M404 190h0M366 222h0M353 207h0M385 226h0M383 212h0M370 215h0M374 212h0M361 207h0M357 196h0M358 199h0M361 202h0M346 212h0M378 226h0M332 193h0M356 199h0M374 199h0M359 217h0M369 190h0M389 233h0M392 207h0M396 208h0M366 211h0M395 210h0M367 193h0M376 196h0M371 193h0M357 197h0M361 196h0M394 217h0M367 197h0M392 206h0M382 220h0M365 213h0M380 204h0M370 201h0M314 204h0M401 220h0M420 209h0M388 201h0M360 199h0M380 217h0M339 216h0M388 217h0M350 211h0M378 193h0M353 233h0M361 203h0M339 201h0M396 213h0M358 209h0M379 215h0M355 212h0M361 203h0M358 199h0M381 189h0M376 239h0M357 205h0M371 226h0M348 215h0M371 230h0M369 230h0M356 212h0M353 202h0M351 204h0M399 202h0M415 226h0M378 208h0M378 200h0M383 209h0M339 209h0M382 209h0M378 208h0M364 220h0M397 205h0M386 196h0M394 199h0M373 219h0M364 209h0M390 202h0M378 220h0M377 200h0M366 205h0M373 215h0M346 207h0M376 225h0M347 198h0M388 208h0M391 208h0M361 208h0M394 216h0M376 210h0M391 215h0M377 216h0M374 196h0M388 221h0M396 207h0M352 213h0M362 188h0M375 200h0M374 203h0M386 218h0M381 221h0M363 234h0M343 216h0M390 204h0M374 195h0M365 211h0M351 187h0M366 199h0M356 206h0M349 220h0M392 209h0M362 208h0M371 200h0M361 213h0M357 201h0M365 197h0M377 194h0M388 216h0M372 217h0M391 204h0M371 202h0M366 204h0M374 214h0M409 212h0M388 206h0M400 209h0M369 205h0M373 204h0M375 227h0M373 200h0M341 207h0M410 142h0M421 154h0M425 163h0M411 143h0M412 139h0M414 141h0M427 138h0M441 128h0M428 133h0M415 137h0M420 155h0M416 143h0M410 141h0M412 143h0M421 159h0M413 128h0M416 159h0M410 154h0M409 136h0M422 130h0M416 121h0M410 154h0M415 142h0M425 140h0M409 145h0M419 151h0M418 162h0M425 148h0M442 133h0M422 141h0M440 153h0M428 154h0M434 144h0M428 131h0M425 162h0M428 156h0M402 151h0M416 166h0M425 157h0M432 155h0M407 141h0M400 163h0M418 136h0M424 145h0M417 164h0M400 134h0M419 147h0M430 146h0M425 168h0M407 134h0M413 147h0M409 152h0M412 162h0M424 157h0M422 152h0M404 147h0M402 164h0M409 140h0M415 173h0M409 168h0M421 177h0M417 144h0M419 144h0M413 157h0M415 159h0M425 160h0M435 161h0M410 164h0M396 163h0M431 138h0M432 129h0M429 145h0M417 148h0M414 157h0M419 149h0M420 146h0M410 156h0M428 137h0M429 163h0M421 165h0M399 164h0M413 153h0M411 176h0M416 157h0M406 146h0M424 148h0M412 166h0M405 151h0M418 146h0M426 152h0M418 157h0M419 155h0M432 152h0M420 143h0" stroke="#5b9bd0"/><path d="M115 232h0M98 228h0M71 226h0M93 218h0M69 225h0M124 228h0M59 234h0M105 230h0M77 225h0M129 233h0M176 214h0M57 223h0M70 221h0M101 235h0M60 230h0M104 227h0M114 234h0M72 227h0M93 218h0M83 233h0M95 226h0M137 230h0M106 220h0M111 223h0M84 223h0M63 230h0M64 231h0M72 234h0M94 234h0M66 230h0M102 228h0M85 222h0M25 229h0M63 219h0M95 208h0M73 230h0M88 224h0M73 227h0M58 222h0M103 220h0M85 223h0M63 213h0M71 221h0M68 226h0M94 230h0M95 218h0M115 228h0M102 217h0M109 241h0M98 233h0M76 227h0M87 230h0M91 228h0M70 218h0M88 243h0M69 229h0M114 222h0M56 228h0M87 220h0M117 231h0M88 217h0M112 234h0M104 237h0M68 219h0M105 229h0M87 223h0M108 228h0M105 218h0M89 229h0M108 215h0M84 222h0M88 225h0M96 231h0M93 226h0M105 235h0M89 221h0M123 232h0M131 223h0M80 225h0M86 216h0M104 216h0M34 226h0M67 228h0M65 217h0M48 218h0M82 240h0M101 222h0M114 228h0M51 214h0M58 222h0M89 222h0M77 220h0M91 231h0M67 234h0M71 224h0M121 230h0M89 213h0M90 224h0M84 233h0M77 238h0M89 227h0M82 227h0M115 228h0M68 221h0M111 230h0M71 225h0M90 230h0M69 227h0M116 240h0M144 257h0M148 259h0M160 256h0M146 232h0M94 243h0M196 245h0M137 251h0M140 243h0M155 249h0M135 240h0M192 239h0M127 245h0M146 248h0M190 256h0M149 247h0M175 245h0M154 237h0M160 245h0M113 248h0M207 249h0M129 256h0M159 248h0M189 253h0M204 240h0M139 245h0M155 237h0M157 235h0M135 244h0M157 249h0M130 249h0M158 245h0M151 242h0M197 257h0M157 257h0M127 242h0M142 250h0M142 239h0M111 237h0M174 250h0M114 261h0M138 242h0M146 246h0M140 246h0M170 253h0M132 245h0M131 243h0M147 243h0M165 239h0M160 252h0M142 243h0M166 243h0M141 248h0M86 252h0M156 251h0M114 243h0M161 250h0M135 242h0M189 248h0M182 235h0M161 242h0M137 256h0M123 238h0M132 244h0M151 249h0M182 250h0M196 255h0M164 245h0M186 244h0M176 246h0M136 251h0M168 248h0M178 247h0M131 247h0M198 238h0M103 246h0M124 257h0M154 239h0M149 239h0M163 253h0M181 254h0M150 255h0M163 236h0M185 239h0M135 234h0M129 229h0M118 239h0M119 243h0M171 244h0M161 255h0M134 258h0M149 246h0M159 257h0M119 253h0M138 247h0M124 226h0M180 252h0M123 239h0M119 246h0M203 245h0M106 252h0M127 233h0M160 246h0M154 252h0M175 229h0M154 255h0M182 238h0M103 237h0M160 244h0M171 245h0M117 237h0M144 253h0M188 238h0M161 245h0M120 237h0M190 242h0M148 250h0M159 252h0M129 243h0M157 249h0M131 232h0M172 253h0M174 245h0M104 243h0M202 248h0M156 233h0M133 254h0M159 245h0M182 252h0M164 245h0M161 254h0M158 236h0M145 244h0M161 256h0M148 243h0M169 250h0M130 250h0M155 249h0M111 230h0M111 233h0M175 254h0M117 258h0M121 240h0M206 236h0M168 253h0M179 251h0M157 258h0M148 247h0M160 243h0M146 256h0M192 251h0M210 249h0M206 250h0M206 251h0M209 259h0M191 249h0M224 249h0M206 256h0M211 245h0M214 256h0M187 258h0M187 257h0M193 254h0M211 259h0M211 249h0M201 253h0M209 258h0M218 260h0M223 253h0M211 256h0M223 243h0M218 250h0M217 257h0M184 251h0M227 240h0M215 252h0M204 258h0M226 252h0M233 262h0M215 258h0M225 264h0M224 257h0M214 257h0M236 252h0M211 246h0M250 250h0M205 248h0M230 255h0M182 253h0M239 252h0M214 272h0M209 251h0M222 269h0M219 241h0M210 251h0M224 250h0M215 244h0M194 253h0M237 246h0M189 260h0M218 258h0M210 254h0M211 252h0M239 250h0M207 252h0M210 264h0M210 255h0M194 256h0M222 257h0M189 248h0M174 264h0M211 263h0M241 259h0M203 251h0M224 239h0M233 262h0M225 250h0M218 241h0M199 249h0M201 264h0M219 236h0M230 256h0M209 247h0M243 254h0M217 241h0M204 258h0M215 249h0M208 241h0M176 256h0M191 242h0M217 259h0M207 260h0M213 231h0M237 245h0M236 250h0M211 249h0M198 256h0M237 261h0M204 256h0" stroke="#f0a85a"/><path d="M451 267h0M401 279h0M413 256h0M432 264h0M417 252h0M403 262h0M389 271h0M442 264h0M433 255h0M417 269h0M418 275h0M450 268h0M424 255h0M425 255h0M421 259h0M417 271h0M410 256h0M454 264h0M439 257h0M436 273h0M429 266h0M454 267h0M455 253h0M392 253h0M438 257h0M386 277h0M456 258h0M415 257h0M444 266h0M432 273h0M411 253h0M429 262h0M431 266h0M396 275h0M391 265h0M436 269h0M433 256h0M424 251h0M425 260h0M389 280h0M416 267h0M456 262h0M420 253h0M413 256h0M425 269h0M433 274h0M437 264h0M364 261h0M434 250h0M427 257h0M424 262h0M423 262h0M436 265h0M414 270h0M430 265h0M465 276h0M474 260h0M437 266h0M431 261h0M446 271h0M475 258h0M438 256h0M423 243h0M473 249h0M431 248h0M421 254h0M384 254h0M424 261h0M388 267h0M422 253h0M460 257h0M433 274h0M430 261h0M449 259h0M430 261h0M420 268h0M434 274h0M437 251h0M437 260h0M423 270h0M437 249h0M471 261h0M394 259h0M439 253h0M410 248h0M434 258h0M460 264h0M433 257h0M449 251h0M434 266h0M412 253h0M453 277h0M437 277h0M438 261h0M420 252h0M448 258h0M415 265h0M439 256h0M433 261h0M431 261h0M419 243h0M416 272h0M421 264h0M441 254h0M430 260h0M436 267h0M430 260h0M448 263h0M397 272h0M438 257h0M427 254h0M431 250h0M449 266h0M407 266h0M398 258h0M407 268h0M443 251h0M432 266h0M421 282h0M395 273h0M460 259h0M404 272h0M376 262h0M398 262h0M416 252h0M440 271h0M399 267h0M430 257h0M451 310h0M467 295h0M432 314h0M460 266h0M451 300h0M453 305h0M447 311h0M429 306h0M450 298h0M462 324h0M446 298h0M446 301h0M450 279h0M467 306h0M456 323h0M440 307h0M472 294h0M447 286h0M468 318h0M459 316h0M449 293h0M464 283h0M458 299h0M447 303h0M443 289h0M436 278h0M447 306h0M456 278h0M453 339h0M457 307h0M435 291h0M467 275h0M447 287h0M454 310h0M438 312h0M430 284h0M460 279h0M447 290h0M472 282h0M465 334h0M452 285h0M456 282h0M452 281h0M441 271h0M465 287h0M444 318h0M454 293h0M448 299h0M452 292h0M454 313h0M454 322h0M465 281h0M446 277h0M448 312h0M452 290h0M456 261h0M459 296h0M462 294h0M465 318h0M452 309h0M446 286h0M444 295h0M443 280h0M453 273h0M461 283h0M453 293h0M465 309h0M453 288h0M464 296h0M445 301h0M462 298h0M456 325h0M450 312h0M471 329h0M444 308h0M457 341h0M468 317h0M467 309h0M445 338h0M438 312h0M463 302h0M465 299h0M463 303h0M448 316h0M450 310h0M445 303h0M461 319h0M445 289h0M455 281h0M461 340h0M462 310h0M447 309h0M461 333h0M452 321h0M452 294h0M451 304h0M441 293h0M470 267h0M464 313h0M451 285h0M467 293h0M459 295h0M444 317h0M462 283h0M467 277h0M443 314h0M451 299h0M471 280h0M462 292h0M456 295h0M448 300h0M446 299h0M446 294h0M457 275h0M455 311h0M457 315h0M446 309h0M459 251h0M455 314h0M455 300h0M454 296h0M445 287h0M434 336h0M455 303h0M462 308h0M455 272h0M444 329h0M460 311h0M445 291h0M447 356h0M450 356h0M444 349h0M447 392h0M447 369h0M444 383h0M446 400h0M445 363h0M444 336h0M447 371h0M440 349h0M442 364h0M442 382h0M450 358h0M446 351h0M451 350h0M443 369h0M443 416h0M445 365h0M442 368h0M444 362h0M450 359h0M447 358h0M450 356h0M442 365h0M450 362h0M443 366h0M443 374h0M443 375h0M449 378h0M451 374h0M453 391h0M445 383h0M443 366h0M445 355h0M447 368h0M453 382h0M445 357h0M444 357h0M443 369h0M441 364h0M448 359h0M442 360h0M449 356h0M452 340h0M443 380h0M451 366h0M440 364h0M442 357h0M444 359h0M446 372h0M445 338h0M445 324h0M446 362h0M442 405h0M452 392h0M447 361h0M448 397h0M445 366h0M444 368h0M449 353h0M450 371h0M454 372h0M450 352h0M455 371h0M446 395h0M446 348h0" stroke="#db6b3c"/><path d="M93 317h0M79 303h0M41 332h0M69 314h0M67 300h0M86 297h0M101 288h0M93 325h0M69 312h0M98 303h0M74 307h0M143 298h0M75 303h0M66 297h0M64 312h0M106 331h0M49 296h0M78 296h0M61 306h0M66 298h0M84 299h0M73 314h0M96 312h0M105 312h0M45 329h0M146 320h0M117 324h0M69 318h0M63 302h0M92 311h0M64 290h0M98 310h0M83 298h0M61 309h0M36 326h0M80 324h0M102 302h0M91 294h0M58 328h0M67 299h0M90 310h0M102 292h0M73 295h0M80 306h0M57 286h0M48 322h0M71 295h0M83 294h0M101 321h0M80 302h0M37 316h0M127 312h0M67 320h0M70 293h0M77 318h0M37 324h0M117 309h0M68 290h0M92 306h0M108 331h0M108 312h0M37 327h0M68 303h0M104 316h0M55 305h0M73 308h0M52 330h0M76 319h0M104 339h0M96 300h0M69 321h0M118 290h0M124 302h0M75 304h0M93 307h0M79 297h0M114 315h0M78 339h0M95 328h0M73 312h0M76 322h0M86 287h0M93 307h0M85 323h0M73 318h0M80 309h0M68 308h0M72 320h0M26 318h0M78 296h0M98 309h0M93 328h0M85 288h0M42 309h0M51 339h0M77 286h0M29 302h0M23 316h0M26 322h0M68 325h0M52 304h0M105 288h0M95 329h0M56 308h0M119 330h0M118 308h0M71 308h0M71 321h0M100 317h0M64 320h0M91 313h0M109 305h0M83 325h0M62 322h0M97 330h0M110 302h0M122 304h0M52 306h0M72 298h0M103 317h0M94 291h0M123 316h0M107 315h0M89 320h0M84 329h0M68 283h0M72 310h0M90 311h0M90 316h0M76 317h0M93 300h0M39 313h0M92 325h0M106 314h0M107 302h0M69 328h0M52 310h0M56 294h0M130 286h0M122 304h0M63 288h0M85 318h0M94 298h0M119 313h0M93 318h0M93 306h0M89 300h0M86 297h0M47 302h0M77 301h0M73 303h0M81 334h0M94 322h0M103 322h0M90 322h0M105 308h0M74 310h0M79 316h0M70 305h0M86 317h0M78 290h0M75 321h0M75 327h0M69 307h0M99 326h0M73 330h0M85 316h0M122 321h0M75 309h0M59 325h0M89 335h0M109 311h0M66 306h0M110 309h0M107 327h0M115 314h0M97 293h0M88 311h0M102 287h0M73 341h0M84 304h0M83 309h0M73 318h0M87 326h0M139 320h0M89 330h0M49 334h0M54 304h0M82 293h0M66 313h0M90 292h0M12 319h0M42 315h0M91 321h0M68 302h0M152 309h0M57 293h0M75 333h0M97 298h0M49 302h0M80 314h0M92 325h0M50 290h0M78 318h0M68 314h0M78 326h0M76 304h0M92 324h0M65 309h0M64 295h0M137 302h0M73 306h0M61 308h0M78 315h0M68 291h0M129 352h0M165 341h0M126 332h0M171 334h0M119 342h0M127 343h0M143 365h0M146 348h0M95 372h0M146 354h0M124 341h0M123 340h0M122 353h0M160 342h0M125 354h0M127 350h0M116 361h0M121 350h0M177 348h0M126 352h0M172 313h0M123 340h0M155 322h0M153 343h0M147 329h0M166 377h0M136 350h0M106 304h0M131 339h0M150 343h0M98 312h0M161 355h0M129 339h0M150 335h0M99 359h0M97 337h0M166 349h0M161 362h0M138 322h0M88 313h0M152 323h0M129 344h0M141 342h0M166 347h0M160 341h0M133 345h0M145 353h0M120 351h0M204 306h0M149 341h0M127 334h0M102 346h0M114 364h0M141 366h0M136 323h0M144 345h0M155 310h0M135 362h0M135 315h0M144 349h0M169 350h0M107 358h0M151 359h0M128 357h0M78 324h0M148 364h0M147 345h0M128 337h0M162 318h0M140 363h0M89 312h0M107 342h0M147 335h0M153 335h0M91 356h0M133 333h0M90 308h0M105 352h0M109 324h0M112 350h0M148 359h0M110 363h0M174 348h0M160 365h0M143 331h0M147 347h0M151 379h0M134 339h0M165 343h0M100 347h0M159 320h0M177 369h0M104 346h0M143 350h0M140 352h0M113 339h0M130 349h0M184 355h0M106 348h0M183 371h0M177 344h0M153 345h0M103 343h0M122 325h0M129 337h0M126 353h0M105 344h0M143 346h0M140 344h0M92 314h0M118 337h0M109 332h0M122 366h0M130 354h0M151 345h0M158 335h0M128 326h0M130 355h0M110 341h0M126 342h0M122 346h0M100 344h0M177 327h0M154 333h0M118 367h0M151 351h0M176 351h0M130 311h0M151 366h0M121 326h0M88 351h0M70 348h0M154 336h0M105 339h0M174 326h0M112 350h0M116 360h0M114 326h0M93 339h0M162 343h0M117 321h0M139 333h0M193 326h0M97 325h0M137 350h0M139 358h0M151 334h0M177 332h0M138 343h0M163 342h0M141 315h0M130 344h0M172 319h0M101 354h0M194 344h0M77 318h0M123 330h0M145 357h0M153 329h0M114 340h0M144 350h0M122 357h0M151 338h0M138 364h0M150 338h0M124 355h0M143 344h0M113 339h0M137 367h0M99 344h0M108 323h0M193 325h0M165 357h0M145 343h0M131 349h0M143 350h0M149 320h0M99 342h0M132 324h0M158 349h0M141 357h0M149 341h0M117 358h0M120 332h0M108 352h0M140 340h0M158 331h0M154 335h0M129 340h0M138 361h0M117 356h0M165 340h0M116 327h0M131 382h0M128 344h0M108 348h0M139 356h0M188 356h0M111 341h0M99 337h0M96 358h0M75 351h0M136 321h0M153 360h0M179 339h0M152 345h0M171 342h0M162 328h0M115 327h0M128 325h0M137 334h0M96 346h0M162 349h0M142 339h0M128 320h0M184 319h0M109 328h0M104 344h0M113 335h0M142 326h0M103 349h0M119 317h0M148 322h0M132 342h0M140 346h0M122 342h0M89 346h0M83 352h0M113 354h0M131 349h0M120 339h0M145 351h0M122 304h0M136 352h0M166 339h0M109 322h0M83 355h0M126 359h0M136 363h0M82 355h0M75 364h0M93 351h0M121 374h0M85 368h0M87 356h0M75 355h0M121 381h0M88 358h0M110 353h0M103 345h0M97 370h0M105 380h0M111 357h0M66 336h0M71 360h0M80 394h0M98 367h0M92 360h0M97 375h0M91 373h0M115 365h0M103 366h0M111 372h0M94 376h0M112 365h0M69 382h0M95 371h0M94 359h0M70 363h0M87 369h0M86 362h0M104 363h0M80 368h0M86 351h0M72 353h0M80 337h0M65 356h0M84 360h0M101 350h0M118 367h0M48 362h0M73 368h0M122 346h0M92 350h0M64 370h0M105 355h0M83 348h0M79 360h0M87 370h0M94 362h0M92 369h0M100 347h0M87 367h0M77 346h0M73 348h0M87 360h0M100 340h0M98 372h0M137 359h0M104 342h0M109 381h0M95 355h0M117 351h0M122 350h0M99 366h0M94 356h0M72 378h0M98 352h0M67 371h0M114 362h0M83 369h0M99 376h0M88 354h0M89 347h0M71 356h0M87 363h0M65 358h0M125 343h0M84 357h0M101 353h0M131 356h0M95 364h0M115 367h0M66 363h0M79 375h0M100 366h0M89 354h0M109 373h0M130 359h0M110 350h0M100 362h0M71 355h0M92 360h0M85 359h0M90 357h0M60 364h0M121 360h0M93 353h0M76 351h0M67 363h0M74 366h0M92 346h0M129 358h0M93 357h0M70 362h0M99 338h0M91 364h0M122 340h0M78 375h0M77 369h0M73 349h0M103 356h0M71 362h0M111 361h0M130 348h0M119 365h0M106 370h0M85 359h0M67 354h0M78 373h0M82 366h0M89 389h0M76 351h0M101 342h0M91 351h0M75 360h0M126 372h0M105 367h0M99 354h0M93 361h0M101 372h0M70 347h0M116 349h0M111 394h0M109 366h0M88 364h0M106 396h0" stroke="#8ecdb0"/><path d="M311 278h0M329 280h0M321 283h0M295 289h0M287 273h0M288 281h0M281 289h0M298 283h0M282 283h0M307 277h0M284 283h0M296 273h0M310 285h0M335 267h0M260 283h0M336 291h0M290 272h0M297 274h0M271 281h0M274 277h0M273 278h0M302 281h0M296 268h0M256 279h0M289 287h0M257 290h0M287 268h0M276 275h0M322 275h0M297 270h0M257 272h0M251 276h0M284 299h0M278 292h0M305 289h0M294 278h0M301 293h0M270 266h0M275 264h0M279 276h0M272 278h0M318 280h0M316 278h0M292 264h0M319 283h0M324 279h0M275 303h0M263 257h0M308 268h0M262 283h0M270 300h0M339 304h0M277 290h0M274 274h0M284 278h0M298 276h0M323 264h0M299 262h0M302 293h0M326 287h0M294 273h0M280 282h0M272 265h0M320 286h0M301 275h0M306 275h0M300 280h0M291 273h0M306 271h0M328 290h0M284 285h0M310 280h0M263 283h0M282 278h0M339 280h0M256 288h0M315 271h0M289 272h0M297 293h0M353 277h0M294 296h0M284 290h0M275 316h0M270 288h0M329 291h0M328 291h0M291 288h0M311 283h0M311 277h0M271 296h0M295 299h0M335 275h0M330 285h0M300 261h0M280 277h0M276 267h0M250 282h0M299 290h0M256 262h0M339 279h0M288 292h0M264 278h0M310 285h0M311 275h0M326 264h0M238 278h0M293 280h0M241 265h0M282 290h0M318 299h0M261 274h0M249 266h0M260 279h0M270 283h0M323 277h0M280 280h0M285 277h0M274 281h0M277 285h0M294 292h0M303 286h0M288 275h0M304 271h0M300 299h0M274 287h0M305 280h0M315 275h0M261 286h0M301 283h0M312 268h0M270 300h0M283 292h0M300 259h0M277 311h0M295 289h0M260 279h0M264 277h0M293 272h0M258 287h0M304 275h0M274 290h0M287 293h0M306 277h0M314 260h0M268 281h0M312 290h0M303 271h0M289 301h0M307 292h0M293 267h0M282 295h0M272 294h0M302 261h0M292 274h0M286 296h0M257 262h0M282 281h0M297 282h0M270 278h0M340 286h0M310 284h0M296 263h0M302 308h0M249 287h0M260 288h0M298 279h0M261 274h0M321 277h0M289 286h0M277 278h0M255 303h0M297 287h0M276 268h0M308 275h0M291 268h0M343 279h0M298 290h0M264 282h0M260 271h0M310 293h0M301 270h0M288 288h0M262 326h0M274 341h0M258 309h0M259 328h0M266 334h0M292 330h0M278 321h0M268 337h0M247 343h0M253 326h0M281 338h0M272 322h0M308 329h0M271 331h0M273 326h0M259 316h0M248 339h0M303 332h0M273 327h0M262 356h0M274 337h0M290 291h0M283 329h0M272 331h0M283 338h0M302 324h0M278 342h0M259 328h0M282 333h0M268 334h0M323 324h0M249 333h0M235 321h0M232 346h0M285 327h0M226 314h0M249 370h0M240 330h0M286 338h0M263 322h0M290 327h0M239 320h0M258 350h0M266 307h0M263 341h0M251 323h0M245 333h0M271 322h0M272 337h0M257 329h0M282 326h0M238 338h0M268 335h0M274 351h0M242 357h0M279 340h0M252 330h0M267 336h0M237 329h0M231 359h0M256 321h0M259 338h0M289 339h0M235 325h0M274 332h0M286 323h0M264 302h0M268 338h0M273 319h0M269 330h0M251 323h0M273 339h0M308 317h0M264 341h0M260 341h0M233 353h0M289 331h0M244 324h0M254 349h0M260 333h0M281 325h0M257 300h0M286 350h0M273 318h0M279 326h0M215 326h0M230 326h0M247 341h0M239 332h0M267 308h0M271 321h0M250 310h0M270 321h0M267 329h0M298 326h0M271 349h0M260 346h0M279 304h0M299 328h0M247 326h0M273 333h0M311 306h0M276 322h0M261 324h0M255 352h0M273 329h0M276 309h0M266 323h0M251 348h0M273 338h0M258 331h0M269 338h0M272 336h0M255 336h0M278 337h0M264 333h0M268 334h0M269 323h0M259 331h0M248 296h0M268 324h0M274 338h0M276 326h0M273 307h0M281 318h0M254 336h0M257 317h0M264 316h0M285 315h0M267 344h0M275 360h0M289 334h0M246 338h0M294 342h0M281 338h0M267 335h0M277 330h0M295 318h0M294 322h0M249 326h0M253 326h0M282 346h0M285 294h0M293 320h0M277 347h0M291 353h0M271 317h0M252 356h0M263 332h0M260 318h0M299 348h0M273 339h0M255 328h0M259 343h0M294 322h0M236 341h0M310 317h0M305 334h0M275 309h0M266 310h0M282 360h0M274 320h0M257 328h0M273 349h0M272 331h0M250 317h0M274 328h0M266 336h0M301 317h0M283 343h0M260 312h0M245 332h0M272 335h0M283 344h0M296 352h0M269 332h0M252 314h0M269 315h0M296 320h0M302 320h0M267 344h0M278 349h0M253 340h0M262 336h0M243 318h0M264 336h0" stroke="#f9dc85"/><path d="M317 369h0M300 374h0M375 374h0M297 363h0M315 376h0M345 394h0M328 390h0M338 391h0M363 393h0M303 392h0M332 351h0M349 378h0M312 356h0M351 386h0M354 383h0M383 373h0M341 383h0M375 399h0M327 398h0M325 393h0M305 358h0M361 388h0M331 359h0M327 374h0M356 384h0M296 371h0M314 372h0M312 397h0M365 379h0M323 369h0M339 412h0M361 388h0M366 374h0M328 388h0M314 398h0M327 365h0M360 378h0M333 401h0M372 373h0M366 362h0M372 385h0M341 403h0M349 358h0M348 394h0M363 403h0M332 365h0M305 375h0M327 384h0M377 375h0M311 383h0M344 392h0M371 389h0M347 372h0M348 396h0M332 404h0M340 393h0M303 397h0M337 375h0M345 385h0M324 365h0M349 392h0M344 379h0M335 357h0M329 372h0M337 351h0M311 375h0M299 363h0M373 379h0M329 383h0M317 383h0M329 368h0M341 391h0M340 364h0M342 373h0M330 384h0M350 393h0M331 415h0M361 392h0M379 398h0M375 398h0M332 394h0M366 393h0M370 391h0M322 380h0M319 365h0M385 394h0M368 365h0M358 376h0M356 393h0M369 372h0M369 396h0M349 368h0M313 360h0M305 393h0M305 372h0M347 376h0M351 399h0M329 391h0M364 382h0M363 382h0M345 395h0M336 380h0M353 397h0M317 398h0M346 386h0M372 370h0M321 367h0M344 389h0M308 389h0M314 386h0M388 398h0M341 396h0M358 351h0M324 393h0M354 369h0M351 388h0M339 383h0M384 393h0M361 360h0M333 394h0M347 380h0M321 387h0M339 361h0M398 381h0M301 363h0M328 377h0M322 381h0M374 369h0M366 394h0M316 364h0M358 396h0M358 391h0M327 392h0M317 391h0M361 393h0M371 392h0M365 386h0M379 383h0M375 374h0M316 386h0M340 377h0M324 394h0M351 395h0M333 388h0M320 374h0M359 394h0M344 399h0M325 402h0M339 381h0M321 402h0M320 402h0M373 358h0M340 368h0M331 383h0M335 392h0M352 359h0M314 365h0M311 390h0M338 384h0M295 378h0M292 382h0M327 389h0M353 394h0M336 388h0M319 413h0M344 368h0M342 398h0M325 398h0M334 401h0M342 371h0M345 399h0M299 370h0M350 368h0M301 383h0M330 379h0M332 387h0M321 361h0M335 379h0M337 383h0M325 361h0M351 403h0M352 384h0M354 378h0M309 356h0M343 367h0M320 388h0M362 402h0M302 379h0M324 383h0M339 389h0M335 366h0M294 407h0M326 392h0M343 393h0M340 398h0M318 389h0M351 371h0M319 372h0M368 376h0M359 377h0M345 391h0M345 376h0M329 408h0M372 390h0M328 388h0M382 373h0M332 439h0M324 430h0M345 428h0M328 436h0M308 433h0M349 447h0M298 430h0M361 419h0M315 437h0M318 421h0M317 435h0M335 437h0M305 410h0M344 431h0M332 438h0M355 447h0M321 443h0M339 452h0M346 464h0M369 437h0M314 440h0M317 432h0M348 424h0M296 424h0M312 410h0M341 440h0M335 448h0M327 461h0M334 445h0M317 439h0M325 417h0M335 420h0M347 410h0M297 450h0M341 428h0M297 423h0M335 459h0M319 456h0M300 455h0M342 423h0M354 433h0M317 427h0M346 425h0M318 430h0M327 415h0M355 458h0M328 439h0M327 418h0M336 419h0M304 425h0M337 426h0M345 442h0M348 452h0M321 443h0M342 438h0M321 440h0M333 443h0M329 425h0M305 431h0M362 435h0M331 422h0M336 434h0M334 429h0M312 421h0M320 420h0M312 437h0M330 426h0M328 448h0M309 441h0M294 454h0M339 462h0M362 435h0M341 439h0M296 446h0M344 444h0M335 417h0M319 381h0M334 422h0M320 447h0M330 394h0M347 413h0M309 418h0M352 414h0M336 441h0M293 451h0M318 455h0M322 453h0M366 402h0M309 424h0M347 455h0M332 439h0M344 419h0M319 434h0M353 422h0M341 422h0M309 434h0M333 433h0M316 425h0M346 413h0M319 416h0M331 450h0M323 423h0M324 433h0M321 419h0M335 453h0M334 423h0M353 433h0M337 430h0M338 414h0M329 430h0M326 434h0M379 419h0M325 414h0M331 425h0M347 431h0M328 433h0M365 447h0M337 447h0M326 410h0M305 440h0M336 424h0M313 444h0M322 415h0M343 434h0M308 453h0M320 425h0M317 427h0M356 428h0M343 423h0M351 450h0M344 456h0M334 405h0M308 423h0M344 434h0M335 435h0M324 431h0M320 432h0M342 455h0M354 430h0M322 426h0M298 445h0M345 438h0M331 442h0M347 450h0M303 466h0M318 451h0M310 450h0M376 446h0M330 454h0M329 434h0M321 430h0M332 423h0M351 437h0M309 422h0M329 428h0M356 418h0M330 431h0M327 441h0M340 425h0M321 438h0M329 425h0M302 437h0M322 439h0M319 431h0M325 407h0M331 436h0M387 351h0M404 335h0M377 345h0M379 346h0M373 347h0M393 345h0M395 356h0M397 352h0M366 349h0M360 338h0M395 329h0M395 346h0M395 360h0M387 342h0M395 340h0M388 350h0M400 337h0M390 364h0M386 364h0M399 338h0M394 353h0M380 348h0M367 363h0M394 348h0M398 361h0M387 350h0M395 349h0M408 358h0M390 347h0M364 342h0M412 350h0M402 335h0M374 357h0M401 339h0M371 342h0M389 333h0M407 342h0M392 356h0M387 350h0M383 365h0M401 349h0M383 350h0M363 346h0M382 360h0M393 343h0M372 355h0M392 356h0M388 353h0M389 364h0M388 342h0M398 356h0M384 360h0M395 344h0M378 362h0M399 341h0M375 365h0M419 359h0M387 347h0M398 362h0M393 349h0M372 340h0M375 335h0M393 347h0M408 358h0M389 365h0M399 348h0M389 345h0M382 350h0M384 347h0M386 351h0M403 349h0M384 355h0M391 342h0M385 349h0M380 356h0M392 346h0M401 353h0M389 352h0" stroke="#e4ee9a"/><path d="M171 418h0M133 414h0M148 407h0M143 423h0M152 439h0M136 420h0M177 406h0M153 423h0M194 409h0M147 414h0M168 406h0M171 416h0M152 399h0M168 385h0M127 390h0M142 408h0M142 402h0M168 388h0M114 414h0M179 414h0M122 389h0M164 413h0M152 395h0M90 419h0M193 420h0M163 415h0M146 407h0M152 400h0M159 396h0M148 430h0M186 400h0M171 417h0M173 415h0M144 423h0M176 396h0M152 406h0M126 411h0M142 387h0M197 411h0M147 413h0M129 401h0M191 405h0M110 414h0M172 401h0M136 425h0M172 396h0M140 405h0M146 395h0M146 398h0M168 412h0M139 406h0M139 420h0M162 417h0M101 418h0M148 405h0M117 423h0M187 410h0M146 402h0M170 411h0M134 425h0M163 413h0M149 407h0M131 404h0M138 420h0M127 427h0M176 403h0M132 390h0M171 418h0M189 413h0M160 406h0M121 417h0M142 409h0M132 416h0M110 396h0M176 417h0M127 413h0M159 421h0M176 421h0M137 432h0M151 418h0M164 427h0M176 391h0M117 408h0M132 421h0M186 425h0M126 416h0M173 418h0M172 440h0M170 415h0M164 414h0M141 410h0M129 399h0M152 400h0M136 402h0M123 379h0M165 425h0M155 402h0M177 414h0M118 409h0M151 400h0M163 393h0M151 418h0M106 416h0M171 400h0M123 408h0M150 408h0M143 397h0M107 402h0M172 418h0M167 407h0M136 404h0M154 394h0M158 415h0M135 420h0M167 384h0M140 408h0M95 417h0M172 416h0M146 426h0M152 413h0M161 423h0M110 420h0M158 426h0M155 409h0M134 410h0M136 416h0M151 401h0M166 409h0M141 425h0M160 415h0M132 424h0M164 397h0M143 424h0M172 409h0M155 412h0M95 418h0M184 404h0M153 421h0M156 422h0M151 407h0M134 409h0M119 397h0M152 400h0M153 409h0M146 416h0M139 398h0M144 408h0M181 421h0M118 390h0M121 416h0M107 420h0M142 422h0M155 400h0M140 412h0M177 407h0M136 411h0M131 416h0M159 420h0M129 423h0M216 426h0M152 409h0M113 415h0M198 416h0M159 409h0M123 436h0M142 428h0M151 409h0M129 411h0M154 406h0M147 408h0M129 402h0M212 396h0M166 394h0M127 420h0M116 418h0M184 408h0M168 421h0M101 405h0M140 420h0M139 396h0M118 411h0M151 415h0M148 459h0M167 438h0M144 482h0M181 447h0M181 442h0M204 460h0M125 447h0M165 454h0M146 465h0M173 472h0M174 472h0M201 454h0M176 465h0M179 451h0M217 468h0M180 436h0M148 450h0M147 432h0M182 462h0M158 452h0M192 464h0M206 449h0M163 463h0M207 450h0M163 449h0M192 469h0M150 467h0M185 470h0M160 451h0M180 459h0M151 463h0M182 449h0M178 468h0M170 453h0M150 451h0M156 439h0M189 459h0M177 455h0M197 429h0M201 446h0M152 441h0M153 450h0M185 441h0M186 445h0M170 471h0M163 437h0M172 458h0M163 447h0M182 440h0M167 441h0M182 446h0M177 452h0M169 441h0M195 445h0M167 435h0M172 441h0M149 466h0M185 456h0M174 460h0M170 455h0M151 447h0M167 417h0M146 441h0M210 431h0M133 462h0M150 459h0M169 475h0M170 464h0M167 453h0M170 451h0M198 474h0M171 449h0M174 466h0M184 453h0M139 484h0M199 459h0M177 471h0M203 454h0M176 450h0M209 447h0M162 467h0M183 452h0M187 456h0M170 457h0M182 455h0M180 455h0M181 440h0M204 466h0M177 461h0M206 459h0M145 458h0M131 450h0M199 438h0M140 448h0M178 479h0M166 452h0M147 481h0M167 459h0M191 451h0M153 446h0M169 464h0M191 446h0M164 434h0M171 482h0M179 448h0M200 459h0M193 474h0M146 453h0M166 469h0M169 454h0M131 446h0M159 439h0M174 449h0M174 465h0M179 453h0M177 437h0M163 445h0M208 435h0M163 460h0M161 461h0M148 466h0M174 423h0M142 435h0M165 448h0M177 461h0M182 459h0M154 432h0M146 457h0M151 436h0M153 458h0M144 450h0M184 463h0M136 452h0M159 486h0M165 433h0M158 452h0M161 462h0M162 453h0M238 458h0M187 453h0M122 475h0M161 461h0M142 454h0M192 437h0M208 466h0M178 448h0M189 425h0M195 425h0M160 470h0M177 427h0M137 435h0M160 441h0M189 447h0M205 470h0M146 470h0M196 436h0M163 441h0M150 451h0M176 441h0M138 461h0M196 468h0M142 445h0M164 443h0M191 440h0M164 457h0M171 456h0M167 459h0M176 453h0M181 458h0M184 459h0M179 457h0M153 446h0M164 443h0M161 443h0M156 457h0M229 478h0M170 453h0M165 449h0M181 458h0M176 465h0M161 462h0M173 439h0M195 440h0M186 442h0M156 467h0M178 452h0" stroke="#b4da98"/></g><filter id="tograyscale" x="0" y="0" width="100%" height="100%"><feColorMatrix type="matrix" values="0 0 0 0 .12 0 0 0 0 .12 0 0 0 0 .12 0 0 0 1.5 0"/></filter><linearGradient id="lowhigh"><stop offset="0" stop-color="#fff"/><stop offset="1" stop-color="#000"/></linearGradient></defs><use href="#clusters" transform="translate(1426.8,2550.8) scale(0.3583)" filter="url(#tograyscale)"/><rect x="1426.8" y="2550.8" width="187.4" height="177" fill="none" stroke="#5b2c9f" stroke-width="1.3" rx="32" stroke-dasharray="5 3.5"/><text x="1520.4" y="2537.5" font-size="19.6" fill="#5b2c9f" text-anchor="middle" textLength="109" lengthAdjust="spacingAndGlyphs">Embeddings</text><text x="1417.1" y="2760" font-size="19.6" fill="#111" textLength="206.8" lengthAdjust="spacingAndGlyphs">Unannotated data pool</text><line x1="1614.3" y1="2639.3" x2="1709" y2="2639.3" stroke="#5b2c9f" stroke-width="2" /><path d="M1718 2639.3L1709 2643.8L1709 2634.8Z" fill="#5b2c9f" /><text x="1662.9" y="2598.2" font-size="19.6" fill="#111" text-anchor="middle" textLength="74.3" lengthAdjust="spacingAndGlyphs">k-means</text><text x="1665.7" y="2624.3" font-size="19.6" fill="#111" text-anchor="middle" textLength="86.4" lengthAdjust="spacingAndGlyphs">clustering</text><use href="#clusters" transform="translate(1718.6,2550.8) scale(0.3583)"/><rect x="1718.6" y="2550.8" width="187.4" height="177" fill="none" stroke="#5b2c9f" stroke-width="1.3" rx="32" stroke-dasharray="5 3.5"/><circle cx="1773.42" cy="2595.59" r="3.6" fill="#e41a1c" stroke="#fff" stroke-width="0.8" /><circle cx="1833.98" cy="2571.58" r="3.6" fill="#6a2fa0" stroke="#fff" stroke-width="0.8" /><circle cx="1811.76" cy="2618.16" r="3.6" fill="#8e2157" stroke="#fff" stroke-width="0.8" /><circle cx="1857.63" cy="2615.3" r="3.6" fill="#4a8fd0" stroke="#fff" stroke-width="0.8" /><circle cx="1766.26" cy="2638.95" r="3.6" fill="#f6c28a" stroke="#fff" stroke-width="0.8" /><circle cx="1882.71" cy="2656.5" r="3.6" fill="#e0703a" stroke="#fff" stroke-width="0.8" /><circle cx="1753.72" cy="2669.04" r="3.6" fill="#a8d8c0" stroke="#fff" stroke-width="0.8" /><circle cx="1818.21" cy="2665.46" r="3.6" fill="#fbe3a0" stroke="#fff" stroke-width="0.8" /><circle cx="1840.79" cy="2697.71" r="3.6" fill="#e8f0a8" stroke="#fff" stroke-width="0.8" /><circle cx="1774.5" cy="2701.65" r="3.6" fill="#b8dca0" stroke="#fff" stroke-width="0.8" /><text x="1810.4" y="2540" font-size="19.6" fill="#5b2c9f" text-anchor="middle" textLength="100.7" lengthAdjust="spacingAndGlyphs">Exploration</text><text x="1715" y="2760" font-size="19.6" fill="#111" textLength="189.3" lengthAdjust="spacingAndGlyphs">Select cluster centers</text><line x1="1905.4" y1="2636.4" x2="2022.6" y2="2636.4" stroke="#5b2c9f" stroke-width="2" /><path d="M2031.6 2636.4L2022.6 2640.9L2022.6 2631.9Z" fill="#5b2c9f" /><text x="1966.1" y="2598.2" font-size="19.6" fill="#111" text-anchor="middle" textLength="103.6" lengthAdjust="spacingAndGlyphs">Uncertainty</text><text x="1967.9" y="2624.3" font-size="19.6" fill="#111" text-anchor="middle" textLength="46.4" lengthAdjust="spacingAndGlyphs">score</text><use href="#clusters" transform="translate(2032.1,2550.8) scale(0.3583)"/><rect x="2032.1" y="2550.8" width="187.4" height="177" fill="none" stroke="#5b2c9f" stroke-width="1.3" rx="32" stroke-dasharray="5 3.5"/><circle cx="2086.92" cy="2595.59" r="4.2" fill="#111" stroke="#111" stroke-width="0.9" /><circle cx="2147.48" cy="2571.58" r="4.2" fill="#111" stroke="#111" stroke-width="0.9" /><circle cx="2125.26" cy="2618.16" r="4.2" fill="#111" stroke="#111" stroke-width="0.9" /><circle cx="2171.13" cy="2615.3" r="4.2" fill="#444" stroke="#111" stroke-width="0.9" /><circle cx="2079.76" cy="2638.95" r="4.2" fill="#777" stroke="#111" stroke-width="0.9" /><circle cx="2196.21" cy="2656.5" r="4.2" fill="#666" stroke="#111" stroke-width="0.9" /><circle cx="2067.22" cy="2669.04" r="4.2" fill="#ccc" stroke="#111" stroke-width="0.9" /><circle cx="2131.71" cy="2665.46" r="4.2" fill="#ddd" stroke="#111" stroke-width="0.9" /><circle cx="2154.29" cy="2697.71" r="4.2" fill="#aaa" stroke="#111" stroke-width="0.9" /><circle cx="2088" cy="2701.65" r="4.2" fill="#aaa" stroke="#111" stroke-width="0.9" /><text x="2125.2" y="2540" font-size="19.6" fill="#5b2c9f" text-anchor="middle" textLength="105.4" lengthAdjust="spacingAndGlyphs">Exploitation</text><rect x="2039.3" y="2725.7" width="179.6" height="10" fill="url(#lowhigh)" /><text x="2033.2" y="2762.5" font-size="19.6" fill="#111" textLength="34.7" lengthAdjust="spacingAndGlyphs">Low</text><text x="2180.4" y="2762.5" font-size="19.6" fill="#111" textLength="38.5" lengthAdjust="spacingAndGlyphs">High</text><line x1="2219" y1="2639.8" x2="2320.5" y2="2639.8" stroke="#5b2c9f" stroke-width="2" /><path d="M2329.5 2639.8L2320.5 2644.3L2320.5 2635.3Z" fill="#5b2c9f" /><text x="2273.5" y="2627.9" font-size="19.6" fill="#111" text-anchor="middle" textLength="70.4" lengthAdjust="spacingAndGlyphs">Ranking</text><use href="#clusters" transform="translate(2330.1,2550.8) scale(0.3583)"/><rect x="2330.1" y="2550.8" width="187.4" height="177" fill="none" stroke="#5b2c9f" stroke-width="1.3" rx="32" stroke-dasharray="5 3.5"/><circle cx="2384.92" cy="2595.59" r="4.2" fill="#e07b2a" stroke="#111" stroke-width="0.9" /><circle cx="2445.48" cy="2571.58" r="4.2" fill="#e07b2a" stroke="#111" stroke-width="0.9" /><circle cx="2423.26" cy="2618.16" r="4.2" fill="#e07b2a" stroke="#111" stroke-width="0.9" /><circle cx="2469.13" cy="2615.3" r="4.2" fill="#333" stroke="#111" stroke-width="0.9" /><circle cx="2377.76" cy="2638.95" r="4.2" fill="#555" stroke="#111" stroke-width="0.9" /><circle cx="2494.21" cy="2656.5" r="4.2" fill="#666" stroke="#111" stroke-width="0.9" /><circle cx="2365.22" cy="2669.04" r="4.2" fill="#ccc" stroke="#111" stroke-width="0.9" /><circle cx="2429.71" cy="2665.46" r="4.2" fill="#ddd" stroke="#111" stroke-width="0.9" /><circle cx="2452.29" cy="2697.71" r="4.2" fill="#aaa" stroke="#111" stroke-width="0.9" /><circle cx="2386" cy="2701.65" r="4.2" fill="#aaa" stroke="#111" stroke-width="0.9" /><g transform="translate(2352.4,2503.9) scale(0.07848) translate(-143,-65)"><path d="M143 575Q150 480 200 450L320 408Q350 470 415 473Q480 470 505 408L625 450Q675 480 682 575Z" fill="#a9541a" /><path d="M325 275Q320 230 345 210Q380 195 440 195Q480 185 500 172Q522 200 520 275Q545 265 545 290Q540 335 515 335Q490 410 415 420Q345 410 320 335Q290 335 285 290Q290 262 325 275Z" fill="#fff" stroke="#a9541a" stroke-width="11" stroke-linejoin="round"/><path d="M268 160Q330 70 410 65Q450 70 470 105Q540 110 555 190Q555 240 535 278L518 278Q525 200 500 168Q440 200 380 200Q330 215 327 280L300 278Q290 220 295 180Z" fill="#a9541a" /></g><line x1="2369.4" y1="2547.5" x2="2381.7" y2="2585.6" stroke="#111" stroke-width="0.9" /><path d="M2383.54 2591.31L2379.22 2586.4L2384.17 2584.8Z" fill="#111" /><line x1="2384.4" y1="2547.5" x2="2418.2" y2="2608.96" stroke="#111" stroke-width="0.9" /><path d="M2421.09 2614.22L2415.92 2610.22L2420.48 2607.71Z" fill="#111" /><line x1="2398.4" y1="2541" x2="2436.67" y2="2565.86" stroke="#111" stroke-width="0.9" /><path d="M2441.7 2569.13L2435.26 2568.04L2438.09 2563.68Z" fill="#111" /><rect x="2332.2" y="2736.5" width="183.1" height="33.7" fill="#dc7a35" /><text x="2423.8" y="2761" font-size="20.2" fill="#111" text-anchor="middle" textLength="159" lengthAdjust="spacingAndGlyphs">Human annotator</text><line x1="2518.4" y1="2639.2" x2="2682.8" y2="2639.2" stroke="#5b2c9f" stroke-width="2" /><path d="M2691.8 2639.2L2682.8 2643.7L2682.8 2634.7Z" fill="#5b2c9f" /><line x1="2518.4" y1="2663.7" x2="2682.8" y2="2663.7" stroke="#6faa3c" stroke-width="2" /><path d="M2691.8 2663.7L2682.8 2668.2L2682.8 2659.2Z" fill="#6faa3c" /><text x="2604" y="2597.2" font-size="19.6" fill="#5b2c9f" text-anchor="middle" textLength="132.8" lengthAdjust="spacingAndGlyphs">Update human</text><text x="2606.4" y="2623" font-size="19.6" fill="#5b2c9f" text-anchor="middle" textLength="137.4" lengthAdjust="spacingAndGlyphs">annotated pool</text><text x="2606" y="2702" font-size="19.6" fill="#6faa3c" text-anchor="middle" textLength="141.8" lengthAdjust="spacingAndGlyphs">ICL with prompt</text><text x="2608" y="2727.3" font-size="19.6" fill="#6faa3c" text-anchor="middle" textLength="73.5" lengthAdjust="spacingAndGlyphs">retrieval</text><use href="#clusters" transform="translate(2692.2,2550.8) scale(0.3583)"/><rect x="2692.2" y="2550.8" width="187.4" height="177" fill="none" stroke="#5b2c9f" stroke-width="1.3" rx="32" stroke-dasharray="5 3.5"/><line x1="2787.72" y1="2690.43" x2="2825.82" y2="2624.64" stroke="#222" stroke-width="0.8" /><path d="M2828.82 2619.45L2828.07 2625.95L2823.57 2623.34Z" fill="#222" /><line x1="2773.14" y1="2690.77" x2="2745.69" y2="2648.03" stroke="#222" stroke-width="0.8" /><path d="M2742.45 2642.98L2747.88 2646.63L2743.51 2649.44Z" fill="#222" /><line x1="2792.67" y1="2695.27" x2="2847.09" y2="2662.12" stroke="#222" stroke-width="0.8" /><path d="M2852.21 2659L2848.44 2664.34L2845.73 2659.9Z" fill="#222" /><line x1="2768.85" y1="2695.11" x2="2736.46" y2="2674.79" stroke="#222" stroke-width="0.8" /><path d="M2731.38 2671.6L2737.85 2672.58L2735.08 2676.99Z" fill="#222" /><line x1="2784.72" y1="2689.14" x2="2788.71" y2="2675.81" stroke="#222" stroke-width="0.8" /><path d="M2790.44 2670.06L2791.21 2676.55L2786.22 2675.06Z" fill="#222" /><line x1="2794.57" y1="2700.56" x2="2803.7" y2="2699.25" stroke="#222" stroke-width="0.8" /><path d="M2809.64 2698.39L2804.07 2701.82L2803.33 2696.67Z" fill="#222" /><line x1="2766.71" y1="2702.16" x2="2758.89" y2="2701.95" stroke="#222" stroke-width="0.8" /><path d="M2752.9 2701.78L2758.96 2699.35L2758.82 2704.55Z" fill="#222" /><circle cx="2747.02" cy="2595.59" r="4.2" fill="#e07b2a" stroke="#111" stroke-width="0.9" /><circle cx="2807.58" cy="2571.58" r="4.2" fill="#e07b2a" stroke="#111" stroke-width="0.9" /><circle cx="2785.36" cy="2618.16" r="4.2" fill="#e07b2a" stroke="#111" stroke-width="0.9" /><circle cx="2831.23" cy="2615.3" r="4.2" fill="#f5b921" stroke="#111" stroke-width="0.9" /><circle cx="2739.86" cy="2638.95" r="4.2" fill="#f5b921" stroke="#111" stroke-width="0.9" /><circle cx="2856.31" cy="2656.5" r="4.2" fill="#f5b921" stroke="#111" stroke-width="0.9" /><circle cx="2727.32" cy="2669.04" r="4.2" fill="#f5b921" stroke="#111" stroke-width="0.9" /><circle cx="2791.81" cy="2665.46" r="4.2" fill="#f5b921" stroke="#111" stroke-width="0.9" /><circle cx="2814.39" cy="2697.71" r="4.2" fill="#f5b921" stroke="#111" stroke-width="0.9" /><circle cx="2748.1" cy="2701.65" r="4.2" fill="#f5b921" stroke="#111" stroke-width="0.9" /><circle cx="2780.71" cy="2702.55" r="17" fill="#fff" opacity=".85"/><use href="#knot" fill="#c49a26" transform="translate(2761.71,2683.55) scale(1.58333)"/><g transform="translate(2715.2,2503.9) scale(0.07848) translate(-143,-65)"><path d="M143 575Q150 480 200 450L320 408Q350 470 415 473Q480 470 505 408L625 450Q675 480 682 575Z" fill="#a9541a" /><path d="M325 275Q320 230 345 210Q380 195 440 195Q480 185 500 172Q522 200 520 275Q545 265 545 290Q540 335 515 335Q490 410 415 420Q345 410 320 335Q290 335 285 290Q290 262 325 275Z" fill="#fff" stroke="#a9541a" stroke-width="11" stroke-linejoin="round"/><path d="M268 160Q330 70 410 65Q450 70 470 105Q540 110 555 190Q555 240 535 278L518 278Q525 200 500 168Q440 200 380 200Q330 215 327 280L300 278Q290 220 295 180Z" fill="#a9541a" /></g><line x1="2732.2" y1="2547.5" x2="2743.93" y2="2585.56" stroke="#111" stroke-width="0.9" /><path d="M2745.7 2591.29L2741.45 2586.32L2746.41 2584.79Z" fill="#111" /><line x1="2747.2" y1="2547.5" x2="2780.37" y2="2608.92" stroke="#111" stroke-width="0.9" /><path d="M2783.22 2614.2L2778.09 2610.16L2782.66 2607.69Z" fill="#111" /><line x1="2761.2" y1="2541" x2="2798.81" y2="2565.8" stroke="#111" stroke-width="0.9" /><path d="M2803.82 2569.11L2797.38 2567.97L2800.24 2563.63Z" fill="#111" /><rect x="2709.7" y="2735.6" width="150.9" height="35.2" fill="#f5c32c" /><text x="2785" y="2761" font-size="20.2" fill="#111" text-anchor="middle" textLength="130.7" lengthAdjust="spacingAndGlyphs">LLM annotator</text></svg>
<!-- sec_right.texts -->
<div class="p" style='left:3056.5px;top:663.14px;font-size:35px;line-height:41.89px;transform:scaleY(1.036);color:#111;'>Comparisons between our multi-fidelity learning (200 human + 800<br>GPT-3.5 annotations) and various sizes of human annotations.</div>
<div class="p" style='left:3056.5px;top:1163.94px;font-size:35px;line-height:41.89px;transform:scaleY(1.036);color:#111;'>Comparisons between our IMFL and single low-fidelity (all GPT-3.5)<br>annotation on four domain-specific tasks given 1000 annotation budget.</div>
<div class="p" style='left:3047.5px;top:1772.24px;font-size:35px;line-height:41.51px;transform:scaleY(1.036);color:#111;'>Exploitation-Exploration Query vs Random Query Strategy</div>
<div class="p" style='left:3047.5px;top:2111.94px;font-size:35px;line-height:41.51px;transform:scaleY(1.036);color:#111;'>Effects of prompt retrieval, variable batch size, and batch orders</div>
<div class="p" style='left:3047.5px;top:2529.14px;font-size:35px;line-height:41.51px;transform:scaleY(1.036);color:#111;'>Effects of prompt retrieval, variable batch size, and batch orders</div>
<!-- sec_right.barcharts -->
<svg class="fig barcharts" style="left:3000px;top:770px" width="1210" height="370" viewBox="3000 770 1210 370"><g transform="translate(3000,770) scale(0.26361)"><rect x="227" y="692" width="164" height="305" fill="#e58225" stroke="#e0781c" stroke-width="3" /><line x1="309" y1="614" x2="309" y2="768" stroke="#111" stroke-width="6.5" /><rect x="436" y="538" width="164" height="459" fill="#b92b2f" stroke="#b01e22" stroke-width="3" /><line x1="518" y1="490" x2="518" y2="582" stroke="#111" stroke-width="6.5" /><rect x="647" y="326" width="164" height="671" fill="#7a0000" stroke="#5e0000" stroke-width="3" /><line x1="729" y1="285" x2="729" y2="362" stroke="#111" stroke-width="6.5" /><rect x="856" y="373" width="164" height="624" fill="#4f1543" stroke="#3a0d31" stroke-width="3" /><line x1="938" y1="338" x2="938" y2="405" stroke="#111" stroke-width="6.5" /><rect x="185" y="123" width="878" height="874" fill="none" stroke="#333" stroke-width="3" /><line x1="165" y1="997" x2="185" y2="997" stroke="#333" stroke-width="3" /><text x="149" y="1016" font-size="50.5" class="f-dv" fill="#222" text-anchor="end">30</text><line x1="165" y1="822.2" x2="185" y2="822.2" stroke="#333" stroke-width="3" /><text x="149" y="841.2" font-size="50.5" class="f-dv" fill="#222" text-anchor="end">35</text><line x1="165" y1="647.4" x2="185" y2="647.4" stroke="#333" stroke-width="3" /><text x="149" y="666.4" font-size="50.5" class="f-dv" fill="#222" text-anchor="end">40</text><line x1="165" y1="472.6" x2="185" y2="472.6" stroke="#333" stroke-width="3" /><text x="149" y="491.6" font-size="50.5" class="f-dv" fill="#222" text-anchor="end">45</text><line x1="165" y1="297.8" x2="185" y2="297.8" stroke="#333" stroke-width="3" /><text x="149" y="316.8" font-size="50.5" class="f-dv" fill="#222" text-anchor="end">50</text><line x1="165" y1="123" x2="185" y2="123" stroke="#333" stroke-width="3" /><text x="149" y="142" font-size="50.5" class="f-dv" fill="#222" text-anchor="end">55</text><line x1="309" y1="997" x2="309" y2="1017" stroke="#333" stroke-width="3" /><text x="305" y="1152" font-size="50.5" class="f-dv" fill="#222" text-anchor="middle" transform="rotate(-45 305 1152)" dominant-baseline="central">1X Human</text><line x1="518" y1="997" x2="518" y2="1017" stroke="#333" stroke-width="3" /><text x="514" y="1152" font-size="50.5" class="f-dv" fill="#222" text-anchor="middle" transform="rotate(-45 514 1152)" dominant-baseline="central">3X Human</text><line x1="729" y1="997" x2="729" y2="1017" stroke="#333" stroke-width="3" /><text x="725" y="1152" font-size="50.5" class="f-dv" fill="#222" text-anchor="middle" transform="rotate(-45 725 1152)" dominant-baseline="central">5X Human</text><line x1="938" y1="997" x2="938" y2="1017" stroke="#333" stroke-width="3" /><text x="934" y="1097" font-size="50.5" class="f-dv" fill="#222" text-anchor="middle" transform="rotate(-45 934 1097)" dominant-baseline="central">IMFL</text><text x="624" y="93" font-size="62.5" class="f-dv" fill="#222" text-anchor="middle">FPB (Financial)</text><text x="52" y="565" font-size="50.5" class="f-dv" fill="#222" text-anchor="middle" transform="rotate(-90 52 565)">F1-score</text></g><g transform="translate(3000,770) scale(0.26361)"><rect x="1364" y="690" width="164" height="312" fill="#e58225" stroke="#e0781c" stroke-width="3" /><line x1="1446" y1="648" x2="1446" y2="725" stroke="#111" stroke-width="6.5" /><rect x="1574" y="446" width="164" height="556" fill="#b92b2f" stroke="#b01e22" stroke-width="3" /><line x1="1656" y1="417" x2="1656" y2="470" stroke="#111" stroke-width="6.5" /><rect x="1784" y="219" width="164" height="783" fill="#7a0000" stroke="#5e0000" stroke-width="3" /><line x1="1866" y1="196" x2="1866" y2="238" stroke="#111" stroke-width="6.5" /><rect x="1995" y="244" width="164" height="758" fill="#4f1543" stroke="#3a0d31" stroke-width="3" /><line x1="2077" y1="225" x2="2077" y2="258" stroke="#111" stroke-width="6.5" /><rect x="1322" y="128" width="878" height="874" fill="none" stroke="#333" stroke-width="3" /><line x1="1302" y1="1002" x2="1322" y2="1002" stroke="#333" stroke-width="3" /><text x="1286" y="1021" font-size="50.5" class="f-dv" fill="#222" text-anchor="end">55</text><line x1="1302" y1="856.33" x2="1322" y2="856.33" stroke="#333" stroke-width="3" /><text x="1286" y="875.33" font-size="50.5" class="f-dv" fill="#222" text-anchor="end">60</text><line x1="1302" y1="710.67" x2="1322" y2="710.67" stroke="#333" stroke-width="3" /><text x="1286" y="729.67" font-size="50.5" class="f-dv" fill="#222" text-anchor="end">65</text><line x1="1302" y1="565" x2="1322" y2="565" stroke="#333" stroke-width="3" /><text x="1286" y="584" font-size="50.5" class="f-dv" fill="#222" text-anchor="end">70</text><line x1="1302" y1="419.33" x2="1322" y2="419.33" stroke="#333" stroke-width="3" /><text x="1286" y="438.33" font-size="50.5" class="f-dv" fill="#222" text-anchor="end">75</text><line x1="1302" y1="273.67" x2="1322" y2="273.67" stroke="#333" stroke-width="3" /><text x="1286" y="292.67" font-size="50.5" class="f-dv" fill="#222" text-anchor="end">80</text><line x1="1302" y1="128" x2="1322" y2="128" stroke="#333" stroke-width="3" /><text x="1286" y="147" font-size="50.5" class="f-dv" fill="#222" text-anchor="end">85</text><line x1="1446" y1="1002" x2="1446" y2="1022" stroke="#333" stroke-width="3" /><text x="1442" y="1157" font-size="50.5" class="f-dv" fill="#222" text-anchor="middle" transform="rotate(-45 1442 1157)" dominant-baseline="central">1X Human</text><line x1="1656" y1="1002" x2="1656" y2="1022" stroke="#333" stroke-width="3" /><text x="1652" y="1157" font-size="50.5" class="f-dv" fill="#222" text-anchor="middle" transform="rotate(-45 1652 1157)" dominant-baseline="central">3X Human</text><line x1="1866" y1="1002" x2="1866" y2="1022" stroke="#333" stroke-width="3" /><text x="1862" y="1157" font-size="50.5" class="f-dv" fill="#222" text-anchor="middle" transform="rotate(-45 1862 1157)" dominant-baseline="central">5X Human</text><line x1="2077" y1="1002" x2="2077" y2="1022" stroke="#333" stroke-width="3" /><text x="2073" y="1102" font-size="50.5" class="f-dv" fill="#222" text-anchor="middle" transform="rotate(-45 2073 1102)" dominant-baseline="central">IMFL</text><text x="1760" y="95" font-size="62.5" class="f-dv" fill="#222" text-anchor="middle">Headline (Financial)</text><text x="1182" y="567" font-size="50.5" class="f-dv" fill="#222" text-anchor="middle" transform="rotate(-90 1182 567)">Average F1-score</text></g><g transform="translate(3590,770) scale(0.26361)"><rect x="263" y="660" width="164" height="357" fill="#e58225" stroke="#e0781c" stroke-width="3" /><line x1="345" y1="605" x2="345" y2="710" stroke="#111" stroke-width="6.5" /><rect x="473" y="490" width="164" height="527" fill="#b92b2f" stroke="#b01e22" stroke-width="3" /><line x1="555" y1="447" x2="555" y2="523" stroke="#111" stroke-width="6.5" /><rect x="683" y="318" width="164" height="699" fill="#7a0000" stroke="#5e0000" stroke-width="3" /><line x1="765" y1="283" x2="765" y2="345" stroke="#111" stroke-width="6.5" /><rect x="893" y="363" width="164" height="654" fill="#4f1543" stroke="#3a0d31" stroke-width="3" /><line x1="975" y1="328" x2="975" y2="392" stroke="#111" stroke-width="6.5" /><rect x="220" y="143" width="880" height="874" fill="none" stroke="#333" stroke-width="3" /><line x1="200" y1="1017" x2="220" y2="1017" stroke="#333" stroke-width="3" /><text x="184" y="1036" font-size="50.5" class="f-dv" fill="#222" text-anchor="end">55</text><line x1="200" y1="842.2" x2="220" y2="842.2" stroke="#333" stroke-width="3" /><text x="184" y="861.2" font-size="50.5" class="f-dv" fill="#222" text-anchor="end">60</text><line x1="200" y1="667.4" x2="220" y2="667.4" stroke="#333" stroke-width="3" /><text x="184" y="686.4" font-size="50.5" class="f-dv" fill="#222" text-anchor="end">65</text><line x1="200" y1="492.6" x2="220" y2="492.6" stroke="#333" stroke-width="3" /><text x="184" y="511.6" font-size="50.5" class="f-dv" fill="#222" text-anchor="end">70</text><line x1="200" y1="317.8" x2="220" y2="317.8" stroke="#333" stroke-width="3" /><text x="184" y="336.8" font-size="50.5" class="f-dv" fill="#222" text-anchor="end">75</text><line x1="200" y1="143" x2="220" y2="143" stroke="#333" stroke-width="3" /><text x="184" y="162" font-size="50.5" class="f-dv" fill="#222" text-anchor="end">80</text><line x1="345" y1="1017" x2="345" y2="1037" stroke="#333" stroke-width="3" /><text x="341" y="1172" font-size="50.5" class="f-dv" fill="#222" text-anchor="middle" transform="rotate(-45 341 1172)" dominant-baseline="central">1X Human</text><line x1="555" y1="1017" x2="555" y2="1037" stroke="#333" stroke-width="3" /><text x="551" y="1172" font-size="50.5" class="f-dv" fill="#222" text-anchor="middle" transform="rotate(-45 551 1172)" dominant-baseline="central">3X Human</text><line x1="765" y1="1017" x2="765" y2="1037" stroke="#333" stroke-width="3" /><text x="761" y="1172" font-size="50.5" class="f-dv" fill="#222" text-anchor="middle" transform="rotate(-45 761 1172)" dominant-baseline="central">5X Human</text><line x1="975" y1="1017" x2="975" y2="1037" stroke="#333" stroke-width="3" /><text x="971" y="1117" font-size="50.5" class="f-dv" fill="#222" text-anchor="middle" transform="rotate(-45 971 1117)" dominant-baseline="central">IMFL</text><text x="660" y="110" font-size="62.5" class="f-dv" fill="#222" text-anchor="middle">PubMedQA (Medical)</text><text x="82" y="583" font-size="50.5" class="f-dv" fill="#222" text-anchor="middle" transform="rotate(-90 82 583)">Accuracy</text></g><g transform="translate(3590,770) scale(0.26361)"><rect x="1386" y="725" width="164" height="272" fill="#e58225" stroke="#e0781c" stroke-width="3" /><line x1="1468" y1="687" x2="1468" y2="758" stroke="#111" stroke-width="6.5" /><rect x="1596" y="587" width="164" height="410" fill="#b92b2f" stroke="#b01e22" stroke-width="3" /><line x1="1678" y1="555" x2="1678" y2="612" stroke="#111" stroke-width="6.5" /><rect x="1806" y="267" width="164" height="730" fill="#7a0000" stroke="#5e0000" stroke-width="3" /><line x1="1888" y1="243" x2="1888" y2="287" stroke="#111" stroke-width="6.5" /><rect x="2015" y="445" width="164" height="552" fill="#4f1543" stroke="#3a0d31" stroke-width="3" /><line x1="2097" y1="423" x2="2097" y2="462" stroke="#111" stroke-width="6.5" /><rect x="1343" y="123" width="879" height="874" fill="none" stroke="#333" stroke-width="3" /><line x1="1323" y1="997" x2="1343" y2="997" stroke="#333" stroke-width="3" /><text x="1307" y="1016" font-size="50.5" class="f-dv" fill="#222" text-anchor="end">30</text><line x1="1323" y1="851.33" x2="1343" y2="851.33" stroke="#333" stroke-width="3" /><text x="1307" y="870.33" font-size="50.5" class="f-dv" fill="#222" text-anchor="end">40</text><line x1="1323" y1="705.67" x2="1343" y2="705.67" stroke="#333" stroke-width="3" /><text x="1307" y="724.67" font-size="50.5" class="f-dv" fill="#222" text-anchor="end">50</text><line x1="1323" y1="560" x2="1343" y2="560" stroke="#333" stroke-width="3" /><text x="1307" y="579" font-size="50.5" class="f-dv" fill="#222" text-anchor="end">60</text><line x1="1323" y1="414.33" x2="1343" y2="414.33" stroke="#333" stroke-width="3" /><text x="1307" y="433.33" font-size="50.5" class="f-dv" fill="#222" text-anchor="end">70</text><line x1="1323" y1="268.67" x2="1343" y2="268.67" stroke="#333" stroke-width="3" /><text x="1307" y="287.67" font-size="50.5" class="f-dv" fill="#222" text-anchor="end">80</text><line x1="1323" y1="123" x2="1343" y2="123" stroke="#333" stroke-width="3" /><text x="1307" y="142" font-size="50.5" class="f-dv" fill="#222" text-anchor="end">90</text><line x1="1468" y1="997" x2="1468" y2="1017" stroke="#333" stroke-width="3" /><text x="1464" y="1152" font-size="50.5" class="f-dv" fill="#222" text-anchor="middle" transform="rotate(-45 1464 1152)" dominant-baseline="central">1X Human</text><line x1="1678" y1="997" x2="1678" y2="1017" stroke="#333" stroke-width="3" /><text x="1674" y="1152" font-size="50.5" class="f-dv" fill="#222" text-anchor="middle" transform="rotate(-45 1674 1152)" dominant-baseline="central">3X Human</text><line x1="1888" y1="997" x2="1888" y2="1017" stroke="#333" stroke-width="3" /><text x="1884" y="1152" font-size="50.5" class="f-dv" fill="#222" text-anchor="middle" transform="rotate(-45 1884 1152)" dominant-baseline="central">5X Human</text><line x1="2097" y1="997" x2="2097" y2="1017" stroke="#333" stroke-width="3" /><text x="2093" y="1097" font-size="50.5" class="f-dv" fill="#222" text-anchor="middle" transform="rotate(-45 2093 1097)" dominant-baseline="central">IMFL</text><text x="1783" y="90" font-size="62.5" class="f-dv" fill="#222" text-anchor="middle">MedQA (Medical)</text><text x="1207" y="563" font-size="50.5" class="f-dv" fill="#222" text-anchor="middle" transform="rotate(-90 1207 563)">Accuracy</text></g></svg>
<!-- sec_right.linecharts -->
<svg class="fig linecharts" style="left:3000px;top:1270px" width="1210" height="320" viewBox="3000 1270 1210 320"><g transform="translate(3000,1270) scale(0.26361)"><clipPath id="clip3000_180"><rect x="180" y="150" width="850" height="843"/></clipPath><line x1="180" y1="993" x2="1030" y2="993" stroke="#b0b0b0" stroke-width="2.8" /><line x1="162" y1="993" x2="180" y2="993" stroke="#333" stroke-width="3" /><text x="146" y="1012" font-size="50.5" class="f-dv" fill="#222" text-anchor="end">30</text><line x1="180" y1="782.25" x2="1030" y2="782.25" stroke="#b0b0b0" stroke-width="2.8" /><line x1="162" y1="782.25" x2="180" y2="782.25" stroke="#333" stroke-width="3" /><text x="146" y="801.25" font-size="50.5" class="f-dv" fill="#222" text-anchor="end">35</text><line x1="180" y1="571.5" x2="1030" y2="571.5" stroke="#b0b0b0" stroke-width="2.8" /><line x1="162" y1="571.5" x2="180" y2="571.5" stroke="#333" stroke-width="3" /><text x="146" y="590.5" font-size="50.5" class="f-dv" fill="#222" text-anchor="end">40</text><line x1="180" y1="360.75" x2="1030" y2="360.75" stroke="#b0b0b0" stroke-width="2.8" /><line x1="162" y1="360.75" x2="180" y2="360.75" stroke="#333" stroke-width="3" /><text x="146" y="379.75" font-size="50.5" class="f-dv" fill="#222" text-anchor="end">45</text><line x1="180" y1="150" x2="1030" y2="150" stroke="#b0b0b0" stroke-width="2.8" /><line x1="162" y1="150" x2="180" y2="150" stroke="#333" stroke-width="3" /><text x="146" y="169" font-size="50.5" class="f-dv" fill="#222" text-anchor="end">50</text><line x1="203" y1="150" x2="203" y2="993" stroke="#b0b0b0" stroke-width="2.8" /><line x1="203" y1="993" x2="203" y2="1011" stroke="#333" stroke-width="3" /><text x="203" y="1072" font-size="50.5" class="f-dv" fill="#222" text-anchor="middle">250</text><line x1="467" y1="150" x2="467" y2="993" stroke="#b0b0b0" stroke-width="2.8" /><line x1="467" y1="993" x2="467" y2="1011" stroke="#333" stroke-width="3" /><text x="467" y="1072" font-size="50.5" class="f-dv" fill="#222" text-anchor="middle">500</text><line x1="732" y1="150" x2="732" y2="993" stroke="#b0b0b0" stroke-width="2.8" /><line x1="732" y1="993" x2="732" y2="1011" stroke="#333" stroke-width="3" /><text x="732" y="1072" font-size="50.5" class="f-dv" fill="#222" text-anchor="middle">750</text><line x1="997" y1="150" x2="997" y2="993" stroke="#b0b0b0" stroke-width="2.8" /><line x1="997" y1="993" x2="997" y2="1011" stroke="#333" stroke-width="3" /><text x="997" y="1072" font-size="50.5" class="f-dv" fill="#222" text-anchor="middle">1000</text><polygon points="210,500 437,395 632,325 817,288 998,242 998,322 817,378 632,430 437,505 210,622" fill="rgba(100,40,90,.24)" clip-path="url(#clip3000_180)"/><polygon points="210,740 437,655 632,598 817,548 998,540 998,645 817,668 632,725 437,790 210,890" fill="rgba(70,130,200,.22)" clip-path="url(#clip3000_180)"/><polyline points="210,815 437,723 632,663 817,610 998,593" fill="none" stroke="#2e6fb5" stroke-width="5.5" clip-path="url(#clip3000_180)"/><path d="M195 800L225 830M195 830L225 800" fill="none" stroke="#2e6fb5" stroke-width="4.5" /><path d="M422 708L452 738M422 738L452 708" fill="none" stroke="#2e6fb5" stroke-width="4.5" /><path d="M617 648L647 678M617 678L647 648" fill="none" stroke="#2e6fb5" stroke-width="4.5" /><path d="M802 595L832 625M802 625L832 595" fill="none" stroke="#2e6fb5" stroke-width="4.5" /><path d="M983 578L1013 608M983 608L1013 578" fill="none" stroke="#2e6fb5" stroke-width="4.5" /><polyline points="210,563 437,451 632,376 817,330 998,283" fill="none" stroke="#3b1037" stroke-width="5.5"/><circle cx="210" cy="563" r="16" fill="#3b1037" /><circle cx="437" cy="451" r="16" fill="#3b1037" /><circle cx="632" cy="376" r="16" fill="#3b1037" /><circle cx="817" cy="330" r="16" fill="#3b1037" /><circle cx="998" cy="283" r="16" fill="#3b1037" /><rect x="180" y="150" width="850" height="843" fill="none" stroke="#333" stroke-width="3" /><rect x="548" y="800" width="457" height="168" fill="rgba(255,255,255,.8)" stroke="#ccc" stroke-width="3" rx="10" /><line x1="566" y1="845" x2="673" y2="845" stroke="#3b1037" stroke-width="5.5" /><circle cx="619" cy="845" r="16" fill="#3b1037" /><text x="712" y="864" font-size="50.5" class="f-dv" fill="#222">IMFL</text><line x1="566" y1="920" x2="673" y2="920" stroke="#2e6fb5" stroke-width="5.5" /><path d="M604 905L634 935M604 935L634 905" fill="none" stroke="#2e6fb5" stroke-width="4.5" /><text x="712" y="939" font-size="50.5" class="f-dv" fill="#222">All GPT-3.5</text><text x="605" y="118" font-size="62.5" class="f-dv" fill="#222" text-anchor="middle">FPB (Financial)</text><text x="605" y="1140" font-size="50.5" class="f-dv" fill="#222" text-anchor="middle">Annotation size</text><text x="52" y="571.5" font-size="50.5" class="f-dv" fill="#222" text-anchor="middle" transform="rotate(-90 52 571.5)">F1-score</text></g><g transform="translate(3000,1270) scale(0.26361)"><clipPath id="clip3000_1355"><rect x="1355" y="150" width="853" height="843"/></clipPath><line x1="1355" y1="993" x2="2208" y2="993" stroke="#b0b0b0" stroke-width="2.8" /><line x1="1337" y1="993" x2="1355" y2="993" stroke="#333" stroke-width="3" /><text x="1321" y="1012" font-size="50.5" class="f-dv" fill="#222" text-anchor="end">60</text><line x1="1355" y1="824.4" x2="2208" y2="824.4" stroke="#b0b0b0" stroke-width="2.8" /><line x1="1337" y1="824.4" x2="1355" y2="824.4" stroke="#333" stroke-width="3" /><text x="1321" y="843.4" font-size="50.5" class="f-dv" fill="#222" text-anchor="end">65</text><line x1="1355" y1="655.8" x2="2208" y2="655.8" stroke="#b0b0b0" stroke-width="2.8" /><line x1="1337" y1="655.8" x2="1355" y2="655.8" stroke="#333" stroke-width="3" /><text x="1321" y="674.8" font-size="50.5" class="f-dv" fill="#222" text-anchor="end">70</text><line x1="1355" y1="487.2" x2="2208" y2="487.2" stroke="#b0b0b0" stroke-width="2.8" /><line x1="1337" y1="487.2" x2="1355" y2="487.2" stroke="#333" stroke-width="3" /><text x="1321" y="506.2" font-size="50.5" class="f-dv" fill="#222" text-anchor="end">75</text><line x1="1355" y1="318.6" x2="2208" y2="318.6" stroke="#b0b0b0" stroke-width="2.8" /><line x1="1337" y1="318.6" x2="1355" y2="318.6" stroke="#333" stroke-width="3" /><text x="1321" y="337.6" font-size="50.5" class="f-dv" fill="#222" text-anchor="end">80</text><line x1="1355" y1="150" x2="2208" y2="150" stroke="#b0b0b0" stroke-width="2.8" /><line x1="1337" y1="150" x2="1355" y2="150" stroke="#333" stroke-width="3" /><text x="1321" y="169" font-size="50.5" class="f-dv" fill="#222" text-anchor="end">85</text><line x1="1380" y1="150" x2="1380" y2="993" stroke="#b0b0b0" stroke-width="2.8" /><line x1="1380" y1="993" x2="1380" y2="1011" stroke="#333" stroke-width="3" /><text x="1380" y="1072" font-size="50.5" class="f-dv" fill="#222" text-anchor="middle">250</text><line x1="1643" y1="150" x2="1643" y2="993" stroke="#b0b0b0" stroke-width="2.8" /><line x1="1643" y1="993" x2="1643" y2="1011" stroke="#333" stroke-width="3" /><text x="1643" y="1072" font-size="50.5" class="f-dv" fill="#222" text-anchor="middle">500</text><line x1="1908" y1="150" x2="1908" y2="993" stroke="#b0b0b0" stroke-width="2.8" /><line x1="1908" y1="993" x2="1908" y2="1011" stroke="#333" stroke-width="3" /><text x="1908" y="1072" font-size="50.5" class="f-dv" fill="#222" text-anchor="middle">750</text><line x1="2173" y1="150" x2="2173" y2="993" stroke="#b0b0b0" stroke-width="2.8" /><line x1="2173" y1="993" x2="2173" y2="1011" stroke="#333" stroke-width="3" /><text x="2173" y="1072" font-size="50.5" class="f-dv" fill="#222" text-anchor="middle">1000</text><polygon points="1388,640 1612,405 1808,325 1994,280 2175,262 2175,305 1994,322 1808,380 1612,490 1388,720" fill="rgba(100,40,90,.24)" clip-path="url(#clip3000_1355)"/><polygon points="1388,890 1612,635 1808,575 1994,550 2175,535 2175,595 1994,620 1808,655 1612,725 1388,1010" fill="rgba(70,130,200,.22)" clip-path="url(#clip3000_1355)"/><polyline points="1388,950 1612,683 1808,615 1994,585 2175,563" fill="none" stroke="#2e6fb5" stroke-width="5.5" clip-path="url(#clip3000_1355)"/><path d="M1373 935L1403 965M1373 965L1403 935" fill="none" stroke="#2e6fb5" stroke-width="4.5" /><path d="M1597 668L1627 698M1597 698L1627 668" fill="none" stroke="#2e6fb5" stroke-width="4.5" /><path d="M1793 600L1823 630M1793 630L1823 600" fill="none" stroke="#2e6fb5" stroke-width="4.5" /><path d="M1979 570L2009 600M1979 600L2009 570" fill="none" stroke="#2e6fb5" stroke-width="4.5" /><path d="M2160 548L2190 578M2160 578L2190 548" fill="none" stroke="#2e6fb5" stroke-width="4.5" /><polyline points="1388,680 1612,447 1808,352 1994,300 2175,283" fill="none" stroke="#3b1037" stroke-width="5.5"/><circle cx="1388" cy="680" r="16" fill="#3b1037" /><circle cx="1612" cy="447" r="16" fill="#3b1037" /><circle cx="1808" cy="352" r="16" fill="#3b1037" /><circle cx="1994" cy="300" r="16" fill="#3b1037" /><circle cx="2175" cy="283" r="16" fill="#3b1037" /><rect x="1355" y="150" width="853" height="843" fill="none" stroke="#333" stroke-width="3" /><rect x="1725" y="800" width="457" height="168" fill="rgba(255,255,255,.8)" stroke="#ccc" stroke-width="3" rx="10" /><line x1="1743" y1="845" x2="1850" y2="845" stroke="#3b1037" stroke-width="5.5" /><circle cx="1796" cy="845" r="16" fill="#3b1037" /><text x="1889" y="864" font-size="50.5" class="f-dv" fill="#222">IMFL</text><line x1="1743" y1="920" x2="1850" y2="920" stroke="#2e6fb5" stroke-width="5.5" /><path d="M1781 905L1811 935M1781 935L1811 905" fill="none" stroke="#2e6fb5" stroke-width="4.5" /><text x="1889" y="939" font-size="50.5" class="f-dv" fill="#222">All GPT-3.5</text><text x="1781.5" y="118" font-size="62.5" class="f-dv" fill="#222" text-anchor="middle">Headline (Financial)</text><text x="1781.5" y="1140" font-size="50.5" class="f-dv" fill="#222" text-anchor="middle">Annotation size</text><text x="1220" y="571.5" font-size="50.5" class="f-dv" fill="#222" text-anchor="middle" transform="rotate(-90 1220 571.5)">Average F1-score</text></g><g transform="translate(3590,1270) scale(0.26361)"><clipPath id="clip3590_245"><rect x="245" y="150" width="853" height="843"/></clipPath><line x1="245" y1="993" x2="1098" y2="993" stroke="#b0b0b0" stroke-width="2.8" /><line x1="227" y1="993" x2="245" y2="993" stroke="#333" stroke-width="3" /><text x="211" y="1012" font-size="50.5" class="f-dv" fill="#222" text-anchor="end">55</text><line x1="245" y1="824.4" x2="1098" y2="824.4" stroke="#b0b0b0" stroke-width="2.8" /><line x1="227" y1="824.4" x2="245" y2="824.4" stroke="#333" stroke-width="3" /><text x="211" y="843.4" font-size="50.5" class="f-dv" fill="#222" text-anchor="end">60</text><line x1="245" y1="655.8" x2="1098" y2="655.8" stroke="#b0b0b0" stroke-width="2.8" /><line x1="227" y1="655.8" x2="245" y2="655.8" stroke="#333" stroke-width="3" /><text x="211" y="674.8" font-size="50.5" class="f-dv" fill="#222" text-anchor="end">65</text><line x1="245" y1="487.2" x2="1098" y2="487.2" stroke="#b0b0b0" stroke-width="2.8" /><line x1="227" y1="487.2" x2="245" y2="487.2" stroke="#333" stroke-width="3" /><text x="211" y="506.2" font-size="50.5" class="f-dv" fill="#222" text-anchor="end">70</text><line x1="245" y1="318.6" x2="1098" y2="318.6" stroke="#b0b0b0" stroke-width="2.8" /><line x1="227" y1="318.6" x2="245" y2="318.6" stroke="#333" stroke-width="3" /><text x="211" y="337.6" font-size="50.5" class="f-dv" fill="#222" text-anchor="end">75</text><line x1="245" y1="150" x2="1098" y2="150" stroke="#b0b0b0" stroke-width="2.8" /><line x1="227" y1="150" x2="245" y2="150" stroke="#333" stroke-width="3" /><text x="211" y="169" font-size="50.5" class="f-dv" fill="#222" text-anchor="end">80</text><line x1="268" y1="150" x2="268" y2="993" stroke="#b0b0b0" stroke-width="2.8" /><line x1="268" y1="993" x2="268" y2="1011" stroke="#333" stroke-width="3" /><text x="268" y="1072" font-size="50.5" class="f-dv" fill="#222" text-anchor="middle">250</text><line x1="533" y1="150" x2="533" y2="993" stroke="#b0b0b0" stroke-width="2.8" /><line x1="533" y1="993" x2="533" y2="1011" stroke="#333" stroke-width="3" /><text x="533" y="1072" font-size="50.5" class="f-dv" fill="#222" text-anchor="middle">500</text><line x1="798" y1="150" x2="798" y2="993" stroke="#b0b0b0" stroke-width="2.8" /><line x1="798" y1="993" x2="798" y2="1011" stroke="#333" stroke-width="3" /><text x="798" y="1072" font-size="50.5" class="f-dv" fill="#222" text-anchor="middle">750</text><line x1="1063" y1="150" x2="1063" y2="993" stroke="#b0b0b0" stroke-width="2.8" /><line x1="1063" y1="993" x2="1063" y2="1011" stroke="#333" stroke-width="3" /><text x="1063" y="1072" font-size="50.5" class="f-dv" fill="#222" text-anchor="middle">1000</text><polygon points="277,540 501,440 698,378 883,342 1065,330 1065,392 883,412 698,455 501,530 277,636" fill="rgba(100,40,90,.24)" clip-path="url(#clip3590_245)"/><polygon points="277,905 501,725 698,648 883,600 1065,558 1065,632 883,676 698,730 501,822 277,1025" fill="rgba(70,130,200,.22)" clip-path="url(#clip3590_245)"/><polyline points="277,965 501,773 698,688 883,637 1065,594" fill="none" stroke="#2e6fb5" stroke-width="5.5" clip-path="url(#clip3590_245)"/><path d="M262 950L292 980M262 980L292 950" fill="none" stroke="#2e6fb5" stroke-width="4.5" /><path d="M486 758L516 788M486 788L516 758" fill="none" stroke="#2e6fb5" stroke-width="4.5" /><path d="M683 673L713 703M683 703L713 673" fill="none" stroke="#2e6fb5" stroke-width="4.5" /><path d="M868 622L898 652M868 652L898 622" fill="none" stroke="#2e6fb5" stroke-width="4.5" /><path d="M1050 579L1080 609M1050 609L1080 579" fill="none" stroke="#2e6fb5" stroke-width="4.5" /><polyline points="277,588 501,486 698,415 883,377 1065,361" fill="none" stroke="#3b1037" stroke-width="5.5"/><circle cx="277" cy="588" r="16" fill="#3b1037" /><circle cx="501" cy="486" r="16" fill="#3b1037" /><circle cx="698" cy="415" r="16" fill="#3b1037" /><circle cx="883" cy="377" r="16" fill="#3b1037" /><circle cx="1065" cy="361" r="16" fill="#3b1037" /><rect x="245" y="150" width="853" height="843" fill="none" stroke="#333" stroke-width="3" /><rect x="615" y="800" width="457" height="168" fill="rgba(255,255,255,.8)" stroke="#ccc" stroke-width="3" rx="10" /><line x1="633" y1="845" x2="740" y2="845" stroke="#3b1037" stroke-width="5.5" /><circle cx="686" cy="845" r="16" fill="#3b1037" /><text x="779" y="864" font-size="50.5" class="f-dv" fill="#222">IMFL</text><line x1="633" y1="920" x2="740" y2="920" stroke="#2e6fb5" stroke-width="5.5" /><path d="M671 905L701 935M671 935L701 905" fill="none" stroke="#2e6fb5" stroke-width="4.5" /><text x="779" y="939" font-size="50.5" class="f-dv" fill="#222">All GPT-3.5</text><text x="671.5" y="118" font-size="62.5" class="f-dv" fill="#222" text-anchor="middle">PubMedQA (Medical)</text><text x="671.5" y="1140" font-size="50.5" class="f-dv" fill="#222" text-anchor="middle">Annotation size</text><text x="114" y="571.5" font-size="50.5" class="f-dv" fill="#222" text-anchor="middle" transform="rotate(-90 114 571.5)">Accuracy</text></g><g transform="translate(3590,1270) scale(0.26361)"><clipPath id="clip3590_1372"><rect x="1372" y="147" width="853" height="843"/></clipPath><line x1="1372" y1="990" x2="2225" y2="990" stroke="#b0b0b0" stroke-width="2.8" /><line x1="1354" y1="990" x2="1372" y2="990" stroke="#333" stroke-width="3" /><text x="1338" y="1009" font-size="50.5" class="f-dv" fill="#222" text-anchor="end">30</text><line x1="1372" y1="821.4" x2="2225" y2="821.4" stroke="#b0b0b0" stroke-width="2.8" /><line x1="1354" y1="821.4" x2="1372" y2="821.4" stroke="#333" stroke-width="3" /><text x="1338" y="840.4" font-size="50.5" class="f-dv" fill="#222" text-anchor="end">40</text><line x1="1372" y1="652.8" x2="2225" y2="652.8" stroke="#b0b0b0" stroke-width="2.8" /><line x1="1354" y1="652.8" x2="1372" y2="652.8" stroke="#333" stroke-width="3" /><text x="1338" y="671.8" font-size="50.5" class="f-dv" fill="#222" text-anchor="end">50</text><line x1="1372" y1="484.2" x2="2225" y2="484.2" stroke="#b0b0b0" stroke-width="2.8" /><line x1="1354" y1="484.2" x2="1372" y2="484.2" stroke="#333" stroke-width="3" /><text x="1338" y="503.2" font-size="50.5" class="f-dv" fill="#222" text-anchor="end">60</text><line x1="1372" y1="315.6" x2="2225" y2="315.6" stroke="#b0b0b0" stroke-width="2.8" /><line x1="1354" y1="315.6" x2="1372" y2="315.6" stroke="#333" stroke-width="3" /><text x="1338" y="334.6" font-size="50.5" class="f-dv" fill="#222" text-anchor="end">70</text><line x1="1372" y1="147" x2="2225" y2="147" stroke="#b0b0b0" stroke-width="2.8" /><line x1="1354" y1="147" x2="1372" y2="147" stroke="#333" stroke-width="3" /><text x="1338" y="166" font-size="50.5" class="f-dv" fill="#222" text-anchor="end">80</text><line x1="1395" y1="147" x2="1395" y2="990" stroke="#b0b0b0" stroke-width="2.8" /><line x1="1395" y1="990" x2="1395" y2="1008" stroke="#333" stroke-width="3" /><text x="1395" y="1069" font-size="50.5" class="f-dv" fill="#222" text-anchor="middle">250</text><line x1="1660" y1="147" x2="1660" y2="990" stroke="#b0b0b0" stroke-width="2.8" /><line x1="1660" y1="990" x2="1660" y2="1008" stroke="#333" stroke-width="3" /><text x="1660" y="1069" font-size="50.5" class="f-dv" fill="#222" text-anchor="middle">500</text><line x1="1927" y1="147" x2="1927" y2="990" stroke="#b0b0b0" stroke-width="2.8" /><line x1="1927" y1="990" x2="1927" y2="1008" stroke="#333" stroke-width="3" /><text x="1927" y="1069" font-size="50.5" class="f-dv" fill="#222" text-anchor="middle">750</text><line x1="2192" y1="147" x2="2192" y2="990" stroke="#b0b0b0" stroke-width="2.8" /><line x1="2192" y1="990" x2="2192" y2="1008" stroke="#333" stroke-width="3" /><text x="2192" y="1069" font-size="50.5" class="f-dv" fill="#222" text-anchor="middle">1000</text><polygon points="1405,560 1630,455 1826,390 2011,357 2193,328 2193,375 2011,403 1826,440 1630,507 1405,622" fill="rgba(100,40,90,.24)" clip-path="url(#clip3590_1372)"/><polygon points="1405,835 1630,730 1826,685 2011,668 2193,660 2193,718 2011,735 1826,760 1630,820 1405,955" fill="rgba(70,130,200,.22)" clip-path="url(#clip3590_1372)"/><polyline points="1405,896 1630,775 1826,722 2011,701 2193,688" fill="none" stroke="#2e6fb5" stroke-width="5.5" clip-path="url(#clip3590_1372)"/><path d="M1390 881L1420 911M1390 911L1420 881" fill="none" stroke="#2e6fb5" stroke-width="4.5" /><path d="M1615 760L1645 790M1615 790L1645 760" fill="none" stroke="#2e6fb5" stroke-width="4.5" /><path d="M1811 707L1841 737M1811 737L1841 707" fill="none" stroke="#2e6fb5" stroke-width="4.5" /><path d="M1996 686L2026 716M1996 716L2026 686" fill="none" stroke="#2e6fb5" stroke-width="4.5" /><path d="M2178 673L2208 703M2178 703L2208 673" fill="none" stroke="#2e6fb5" stroke-width="4.5" /><polyline points="1405,592 1630,480 1826,413 2011,379 2193,351" fill="none" stroke="#3b1037" stroke-width="5.5"/><circle cx="1405" cy="592" r="16" fill="#3b1037" /><circle cx="1630" cy="480" r="16" fill="#3b1037" /><circle cx="1826" cy="413" r="16" fill="#3b1037" /><circle cx="2011" cy="379" r="16" fill="#3b1037" /><circle cx="2193" cy="351" r="16" fill="#3b1037" /><rect x="1372" y="147" width="853" height="843" fill="none" stroke="#333" stroke-width="3" /><rect x="1742" y="798" width="457" height="168" fill="rgba(255,255,255,.8)" stroke="#ccc" stroke-width="3" rx="10" /><line x1="1760" y1="843" x2="1867" y2="843" stroke="#3b1037" stroke-width="5.5" /><circle cx="1813" cy="843" r="16" fill="#3b1037" /><text x="1906" y="862" font-size="50.5" class="f-dv" fill="#222">IMFL</text><line x1="1760" y1="918" x2="1867" y2="918" stroke="#2e6fb5" stroke-width="5.5" /><path d="M1798 903L1828 933M1798 933L1828 903" fill="none" stroke="#2e6fb5" stroke-width="4.5" /><text x="1906" y="937" font-size="50.5" class="f-dv" fill="#222">All GPT-3.5</text><text x="1798.5" y="115" font-size="62.5" class="f-dv" fill="#222" text-anchor="middle">MedQA (Medical)</text><text x="1798.5" y="1137" font-size="50.5" class="f-dv" fill="#222" text-anchor="middle">Annotation size</text><text x="1242" y="568.5" font-size="50.5" class="f-dv" fill="#222" text-anchor="middle" transform="rotate(-90 1242 568.5)">Accuracy</text></g></svg>
<!-- sec_right.tableA -->
<svg class="fig tableA" style="left:3040px;top:1830px" width="1145" height="235" viewBox="3040 1830 1145 235"><line x1="3046.58" y1="1838.2" x2="4177.4" y2="1838.2" stroke="#111" stroke-width="2.2" /><line x1="3046.58" y1="1926.3" x2="4177.4" y2="1926.3" stroke="#111" stroke-width="1.4" /><line x1="3046.58" y1="2058.8" x2="4177.4" y2="2058.8" stroke="#111" stroke-width="2.2" /><line x1="3046.58" y1="1882.5" x2="3673.44" y2="1882.5" stroke="#444" stroke-width="0.9" /><line x1="3689.15" y1="1882.5" x2="4162.81" y2="1882.5" stroke="#444" stroke-width="0.9" /><text x="3143.11" y="1868" font-size="26.15" class="f-serif" fill="#111" text-anchor="middle">Method</text><text x="3376" y="1868" font-size="26.15" class="f-serif" fill="#111" text-anchor="middle">Budget</text><text x="3590.94" y="1868" font-size="26.15" class="f-serif" fill="#111" text-anchor="middle">Query Strategy</text><text x="3932.71" y="1868" font-size="26.15" class="f-serif" fill="#111" text-anchor="middle">Dataset</text><text x="3143.11" y="1911.2" font-size="26.15" class="f-serif" fill="#111" text-anchor="middle">Multi/Single</text><text x="3313.71" y="1911.2" font-size="26.15" class="f-serif" fill="#111" text-anchor="middle">Human</text><text x="3431.56" y="1911.2" font-size="26.15" class="f-serif" fill="#111" text-anchor="middle">GPT-3.5</text><text x="3590.94" y="1911.2" font-size="26.15" class="f-serif" fill="#111" text-anchor="middle">EEQ/Random</text><text x="3734.61" y="1911.2" font-size="26.15" class="f-serif" fill="#111" text-anchor="middle">FPB</text><text x="3846.85" y="1911.2" font-size="26.15" class="f-serif" fill="#111" text-anchor="middle">Headline</text><text x="3992.76" y="1911.2" font-size="26.15" class="f-serif" fill="#111" text-anchor="middle">PubMedQA</text><text x="4133.62" y="1911.2" font-size="26.15" class="f-serif" fill="#111" text-anchor="middle">MedQA</text><text x="3143.11" y="1956" font-size="26.15" class="f-serif" fill="#111" text-anchor="middle">Human + GPT-3.5</text><text x="3313.71" y="1956" font-size="26.15" class="f-serif" fill="#111" text-anchor="middle">200</text><text x="3431.56" y="1956" font-size="26.15" class="f-serif" fill="#111" text-anchor="middle">800</text><text x="3590.94" y="1956" font-size="26.15" class="f-serif" fill="#111" text-anchor="middle">EEQ</text><text x="3734.61" y="1956" font-size="26.15" class="f-serif" fill="#111" text-anchor="middle" font-weight="bold">47.88</text><text x="3846.85" y="1956" font-size="26.15" class="f-serif" fill="#111" text-anchor="middle" font-weight="bold">81.09</text><text x="3992.76" y="1956" font-size="26.15" class="f-serif" fill="#111" text-anchor="middle" font-weight="bold">73.76</text><text x="4133.62" y="1956" font-size="26.15" class="f-serif" fill="#111" text-anchor="middle">67.98</text><text x="3143.11" y="1985.2" font-size="26.15" class="f-serif" fill="#111" text-anchor="middle">Human + GPT-3.5</text><text x="3313.71" y="1985.2" font-size="26.15" class="f-serif" fill="#111" text-anchor="middle">200</text><text x="3431.56" y="1985.2" font-size="26.15" class="f-serif" fill="#111" text-anchor="middle">800</text><text x="3590.94" y="1985.2" font-size="26.15" class="f-serif" fill="#111" text-anchor="middle">Random</text><text x="3734.61" y="1985.2" font-size="26.15" class="f-serif" fill="#111" text-anchor="middle">41.94</text><text x="3846.85" y="1985.2" font-size="26.15" class="f-serif" fill="#111" text-anchor="middle">74.32</text><text x="3992.76" y="1985.2" font-size="26.15" class="f-serif" fill="#111" text-anchor="middle">66.03</text><text x="4133.62" y="1985.2" font-size="26.15" class="f-serif" fill="#111" text-anchor="middle">63.77</text><text x="3143.11" y="2013.9" font-size="26.15" class="f-serif" fill="#111" text-anchor="middle">Only Human</text><text x="3313.71" y="2013.9" font-size="26.15" class="f-serif" fill="#111" text-anchor="middle">1000</text><text x="3431.56" y="2013.9" font-size="26.15" class="f-serif" fill="#111" text-anchor="middle">0</text><text x="3590.94" y="2013.9" font-size="26.15" class="f-serif" fill="#111" text-anchor="middle">Random</text><text x="3734.61" y="2013.9" font-size="26.15" class="f-serif" fill="#111" text-anchor="middle">43.81</text><text x="3846.85" y="2013.9" font-size="26.15" class="f-serif" fill="#111" text-anchor="middle">75.46</text><text x="3992.76" y="2013.9" font-size="26.15" class="f-serif" fill="#111" text-anchor="middle">68.87</text><text x="4133.62" y="2013.9" font-size="26.15" class="f-serif" fill="#111" text-anchor="middle" font-weight="bold">70.17</text><text x="3143.11" y="2043" font-size="26.15" class="f-serif" fill="#111" text-anchor="middle">Only GPT-3.5</text><text x="3313.71" y="2043" font-size="26.15" class="f-serif" fill="#111" text-anchor="middle">0</text><text x="3431.56" y="2043" font-size="26.15" class="f-serif" fill="#111" text-anchor="middle">1000</text><text x="3590.94" y="2043" font-size="26.15" class="f-serif" fill="#111" text-anchor="middle">Random</text><text x="3734.61" y="2043" font-size="26.15" class="f-serif" fill="#111" text-anchor="middle">38.56</text><text x="3846.85" y="2043" font-size="26.15" class="f-serif" fill="#111" text-anchor="middle">71.04</text><text x="3992.76" y="2043" font-size="26.15" class="f-serif" fill="#111" text-anchor="middle">65.89</text><text x="4133.62" y="2043" font-size="26.15" class="f-serif" fill="#111" text-anchor="middle">47.13</text></svg>
<!-- sec_right.tableB -->
<svg class="fig tableB" style="left:3040px;top:2175px" width="1145" height="320" viewBox="3040 2175 1145 320"><line x1="3046.58" y1="2183" x2="4178.52" y2="2183" stroke="#111" stroke-width="2.2" /><line x1="3046.58" y1="2277.9" x2="4178.52" y2="2277.9" stroke="#111" stroke-width="1.4" /><line x1="3046.58" y1="2487.7" x2="4178.52" y2="2487.7" stroke="#111" stroke-width="2.2" /><line x1="3046.58" y1="2230.7" x2="3627.42" y2="2230.7" stroke="#444" stroke-width="0.9" /><line x1="3642.57" y1="2230.7" x2="4163.37" y2="2230.7" stroke="#444" stroke-width="0.9" /><text x="3344.02" y="2215" font-size="29.2" class="f-serif" fill="#111" text-anchor="middle">Method</text><text x="3909.71" y="2215" font-size="29.2" class="f-serif" fill="#111" text-anchor="middle">Dataset</text><text x="3088.67" y="2263.3" font-size="29.2" class="f-serif" fill="#111" text-anchor="middle">Budget</text><text x="3245.81" y="2263.3" font-size="29.2" class="f-serif" fill="#111" text-anchor="middle">Batch</text><text x="3420.9" y="2263.3" font-size="29.2" class="f-serif" fill="#111" text-anchor="middle">Batch size</text><text x="3570.74" y="2263.3" font-size="29.2" class="f-serif" fill="#111" text-anchor="middle">Retrieval</text><text x="3691.96" y="2263.3" font-size="29.2" class="f-serif" fill="#111" text-anchor="middle">FPB</text><text x="3814.86" y="2263.3" font-size="29.2" class="f-serif" fill="#111" text-anchor="middle">Headline</text><text x="3974.24" y="2263.3" font-size="29.2" class="f-serif" fill="#111" text-anchor="middle">PubMedQA</text><text x="4129.13" y="2263.3" font-size="29.2" class="f-serif" fill="#111" text-anchor="middle">MedQA</text><text x="3088.67" y="2310.4" font-size="29.2" class="f-serif" fill="#111" text-anchor="middle">1000</text><text x="3245.81" y="2310.4" font-size="29.2" class="f-serif" fill="#111" text-anchor="middle">5 Mini-Batch</text><text x="3420.9" y="2310.4" font-size="29.2" class="f-serif" fill="#111" text-anchor="middle">Variable</text><text x="3570.74" y="2310.4" font-size="29.2" class="f-serif" fill="#111" text-anchor="middle">Similar</text><text x="3691.96" y="2310.4" font-size="29.2" class="f-serif" fill="#111" text-anchor="middle" font-weight="bold">47.88</text><text x="3814.86" y="2310.4" font-size="29.2" class="f-serif" fill="#111" text-anchor="middle" font-weight="bold">81.09</text><text x="3974.24" y="2310.4" font-size="29.2" class="f-serif" fill="#111" text-anchor="middle" font-weight="bold">73.76</text><text x="4129.13" y="2310.4" font-size="29.2" class="f-serif" fill="#111" text-anchor="middle" font-weight="bold">67.98</text><text x="3088.67" y="2343" font-size="29.2" class="f-serif" fill="#111" text-anchor="middle">1000</text><text x="3245.81" y="2343" font-size="29.2" class="f-serif" fill="#111" text-anchor="middle">5 Mini-Batch</text><text x="3420.9" y="2343" font-size="29.2" class="f-serif" fill="#111" text-anchor="middle">Equal</text><text x="3570.74" y="2343" font-size="29.2" class="f-serif" fill="#111" text-anchor="middle">Similar</text><text x="3691.96" y="2343" font-size="29.2" class="f-serif" fill="#111" text-anchor="middle">46.34</text><text x="3814.86" y="2343" font-size="29.2" class="f-serif" fill="#111" text-anchor="middle">80.28</text><text x="3974.24" y="2343" font-size="29.2" class="f-serif" fill="#111" text-anchor="middle">72.05</text><text x="4129.13" y="2343" font-size="29.2" class="f-serif" fill="#111" text-anchor="middle">66.11</text><text x="3088.67" y="2375" font-size="29.2" class="f-serif" fill="#111" text-anchor="middle">1000</text><text x="3245.81" y="2375" font-size="29.2" class="f-serif" fill="#111" text-anchor="middle">5 Mini-Batch</text><text x="3420.9" y="2375" font-size="29.2" class="f-serif" fill="#111" text-anchor="middle">Variable</text><text x="3570.74" y="2375" font-size="29.2" class="f-serif" fill="#111" text-anchor="middle">Random</text><text x="3691.96" y="2375" font-size="29.2" class="f-serif" fill="#111" text-anchor="middle">42.09</text><text x="3814.86" y="2375" font-size="29.2" class="f-serif" fill="#111" text-anchor="middle">73.98</text><text x="3974.24" y="2375" font-size="29.2" class="f-serif" fill="#111" text-anchor="middle">67.44</text><text x="4129.13" y="2375" font-size="29.2" class="f-serif" fill="#111" text-anchor="middle">63.56</text><text x="3088.67" y="2407" font-size="29.2" class="f-serif" fill="#111" text-anchor="middle">1000</text><text x="3245.81" y="2407" font-size="29.2" class="f-serif" fill="#111" text-anchor="middle">5 Mini-Batch</text><text x="3420.9" y="2407" font-size="29.2" class="f-serif" fill="#111" text-anchor="middle">Equal</text><text x="3570.74" y="2407" font-size="29.2" class="f-serif" fill="#111" text-anchor="middle">Random</text><text x="3691.96" y="2407" font-size="29.2" class="f-serif" fill="#111" text-anchor="middle">42.34</text><text x="3814.86" y="2407" font-size="29.2" class="f-serif" fill="#111" text-anchor="middle">73.77</text><text x="3974.24" y="2407" font-size="29.2" class="f-serif" fill="#111" text-anchor="middle">68.10</text><text x="4129.13" y="2407" font-size="29.2" class="f-serif" fill="#111" text-anchor="middle">63.42</text><text x="3088.67" y="2439.5" font-size="29.2" class="f-serif" fill="#111" text-anchor="middle">1000</text><text x="3245.81" y="2439.5" font-size="29.2" class="f-serif" fill="#111" text-anchor="middle">1 Full-Batch</text><text x="3420.9" y="2439.5" font-size="29.2" class="f-serif" fill="#111" text-anchor="middle">NA</text><text x="3570.74" y="2439.5" font-size="29.2" class="f-serif" fill="#111" text-anchor="middle">Similar</text><text x="3691.96" y="2439.5" font-size="29.2" class="f-serif" fill="#111" text-anchor="middle">43.72</text><text x="3814.86" y="2439.5" font-size="29.2" class="f-serif" fill="#111" text-anchor="middle">75.48</text><text x="3974.24" y="2439.5" font-size="29.2" class="f-serif" fill="#111" text-anchor="middle">68.90</text><text x="4129.13" y="2439.5" font-size="29.2" class="f-serif" fill="#111" text-anchor="middle">63.79</text><text x="3088.67" y="2472" font-size="29.2" class="f-serif" fill="#111" text-anchor="middle">1000</text><text x="3245.81" y="2472" font-size="29.2" class="f-serif" fill="#111" text-anchor="middle">1 Full-Batch</text><text x="3420.9" y="2472" font-size="29.2" class="f-serif" fill="#111" text-anchor="middle">NA</text><text x="3570.74" y="2472" font-size="29.2" class="f-serif" fill="#111" text-anchor="middle">Random</text><text x="3691.96" y="2472" font-size="29.2" class="f-serif" fill="#111" text-anchor="middle">39.80</text><text x="3814.86" y="2472" font-size="29.2" class="f-serif" fill="#111" text-anchor="middle">72.11</text><text x="3974.24" y="2472" font-size="29.2" class="f-serif" fill="#111" text-anchor="middle">65.94</text><text x="4129.13" y="2472" font-size="29.2" class="f-serif" fill="#111" text-anchor="middle">57.23</text></svg>
<!-- sec_right.tableC -->
<svg class="fig tableC" style="left:3040px;top:2595px" width="1145" height="185" viewBox="3040 2595 1145 185"><line x1="3049.39" y1="2601.7" x2="4176.28" y2="2601.7" stroke="#111" stroke-width="2.2" /><line x1="3049.39" y1="2693.7" x2="4176.28" y2="2693.7" stroke="#111" stroke-width="1.4" /><line x1="3049.39" y1="2772.3" x2="4176.28" y2="2772.3" stroke="#111" stroke-width="2.2" /><line x1="3170.6" y1="2647.1" x2="3496.66" y2="2647.1" stroke="#444" stroke-width="0.9" /><line x1="3511.81" y1="2647.1" x2="3837.31" y2="2647.1" stroke="#444" stroke-width="0.9" /><line x1="3852.46" y1="2647.1" x2="4161.68" y2="2647.1" stroke="#444" stroke-width="0.9" /><text x="3340.09" y="2632.5" font-size="28.6" class="f-serif" fill="#111" text-anchor="middle">GPT-3 Annotation</text><text x="3680.74" y="2632.5" font-size="28.6" class="f-serif" fill="#111" text-anchor="middle">GPT-3.5 Annotation</text><text x="4013.53" y="2632.5" font-size="28.6" class="f-serif" fill="#111" text-anchor="middle">GPT-4 Annotation</text><text x="3233.46" y="2679.1" font-size="28.6" class="f-serif" fill="#111" text-anchor="middle">retrieval</text><text x="3351.31" y="2679.1" font-size="28.6" class="f-serif" fill="#111" text-anchor="middle">5-shot</text><text x="3457.38" y="2679.1" font-size="28.6" class="f-serif" fill="#111" text-anchor="middle">0-shot</text><text x="3574.11" y="2679.1" font-size="28.6" class="f-serif" fill="#111" text-anchor="middle">retrieval</text><text x="3691.96" y="2679.1" font-size="28.6" class="f-serif" fill="#111" text-anchor="middle">5-shot</text><text x="3798.59" y="2679.1" font-size="28.6" class="f-serif" fill="#111" text-anchor="middle">0-shot</text><text x="3915.32" y="2679.1" font-size="28.6" class="f-serif" fill="#111" text-anchor="middle">retrieval</text><text x="4033.17" y="2679.1" font-size="28.6" class="f-serif" fill="#111" text-anchor="middle">5-shot</text><text x="4139.24" y="2679.1" font-size="28.6" class="f-serif" fill="#111" text-anchor="middle">0-shot</text><text x="3100.45" y="2725.7" font-size="28.6" class="f-serif" fill="#111" text-anchor="middle">Headline</text><text x="3233.46" y="2725.7" font-size="28.6" class="f-serif" fill="#111" text-anchor="middle">75.59</text><text x="3351.31" y="2725.7" font-size="28.6" class="f-serif" fill="#111" text-anchor="middle">72.51</text><text x="3457.38" y="2725.7" font-size="28.6" class="f-serif" fill="#111" text-anchor="middle">70.25</text><text x="3574.11" y="2725.7" font-size="28.6" class="f-serif" fill="#111" text-anchor="middle">79.40</text><text x="3691.96" y="2725.7" font-size="28.6" class="f-serif" fill="#111" text-anchor="middle">76.15</text><text x="3798.59" y="2725.7" font-size="28.6" class="f-serif" fill="#111" text-anchor="middle">73.31</text><text x="3915.32" y="2725.7" font-size="28.6" class="f-serif" fill="#111" text-anchor="middle">80.13</text><text x="4033.17" y="2725.7" font-size="28.6" class="f-serif" fill="#111" text-anchor="middle">78.34</text><text x="4139.24" y="2725.7" font-size="28.6" class="f-serif" fill="#111" text-anchor="middle">77.20</text><text x="3100.45" y="2757.1" font-size="28.6" class="f-serif" fill="#111" text-anchor="middle">MedQA</text><text x="3233.46" y="2757.1" font-size="28.6" class="f-serif" fill="#111" text-anchor="middle">51.42</text><text x="3351.31" y="2757.1" font-size="28.6" class="f-serif" fill="#111" text-anchor="middle">44.89</text><text x="3457.38" y="2757.1" font-size="28.6" class="f-serif" fill="#111" text-anchor="middle">42.03</text><text x="3574.11" y="2757.1" font-size="28.6" class="f-serif" fill="#111" text-anchor="middle">59.45</text><text x="3691.96" y="2757.1" font-size="28.6" class="f-serif" fill="#111" text-anchor="middle">53.57</text><text x="3798.59" y="2757.1" font-size="28.6" class="f-serif" fill="#111" text-anchor="middle">50.82</text><text x="3915.32" y="2757.1" font-size="28.6" class="f-serif" fill="#111" text-anchor="middle">82.67</text><text x="4033.17" y="2757.1" font-size="28.6" class="f-serif" fill="#111" text-anchor="middle">81.38</text><text x="4139.24" y="2757.1" font-size="28.6" class="f-serif" fill="#111" text-anchor="middle">78.87</text></svg>
</div></body></html>
